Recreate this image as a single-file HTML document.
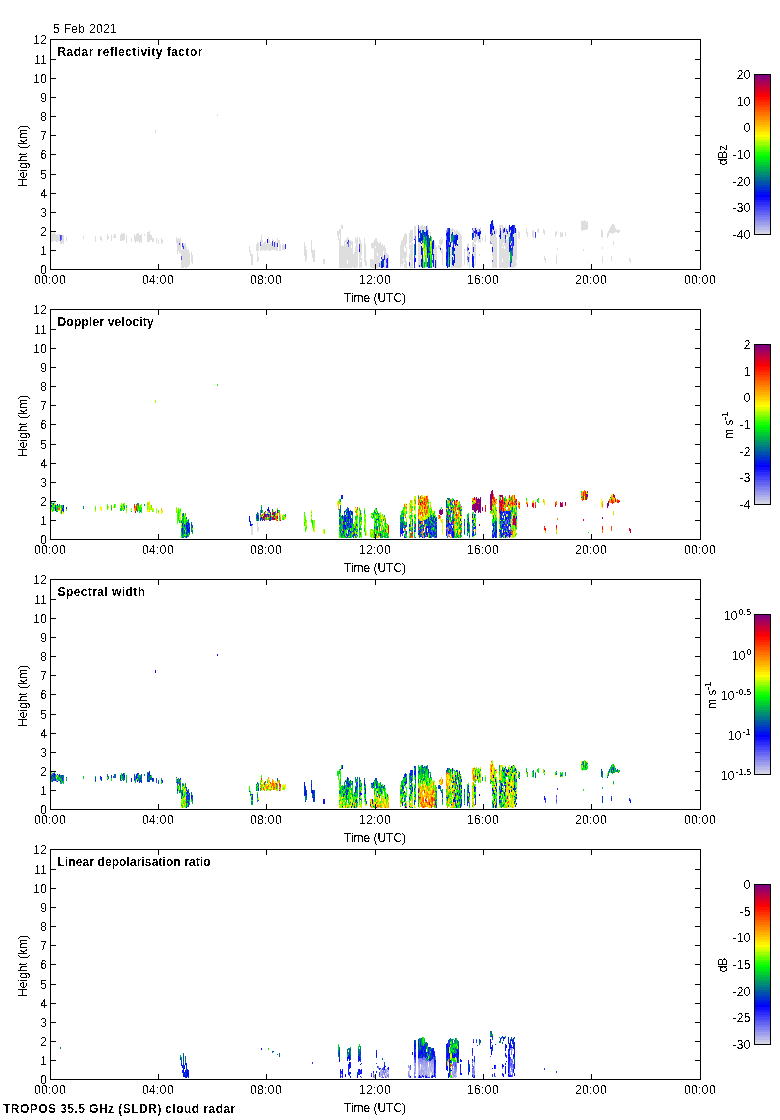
<!DOCTYPE html>
<html lang="en"><head><meta charset="utf-8"><title>TROPOS 35.5 GHz (SLDR) cloud radar - 5 Feb 2021</title>
<style>
html,body{margin:0;padding:0;background:#fff;}
body{width:780px;height:1120px;overflow:hidden;}
svg{display:block;}
text{font-family:"Liberation Sans",Arial,Helvetica,sans-serif;font-size:12px;fill:#000;filter:url(#px);}
.b{font-weight:bold;}
.r{text-anchor:end;}
.c{text-anchor:middle;}
.n{letter-spacing:0.4px;}
.ax{stroke:#000;stroke-width:1;fill:none;shape-rendering:crispEdges;}
.d path,.cb rect{shape-rendering:crispEdges;}
text.sup{font-size:9px;letter-spacing:0.1px;filter:url(#px2);}
</style></head><body>
<svg width="780" height="1120" viewBox="0 0 780 1120">
<defs><filter id="px" x="-5%" y="-5%" width="110%" height="110%" color-interpolation-filters="sRGB"><feComponentTransfer><feFuncA type="discrete" tableValues="0 1"/></feComponentTransfer></filter><filter id="px2" x="-5%" y="-5%" width="110%" height="110%" color-interpolation-filters="sRGB"><feComponentTransfer><feFuncA type="discrete" tableValues="0 0 1 1 1"/></feComponentTransfer></filter></defs>
<rect x="0" y="0" width="780" height="1120" fill="#fff"/>
<text x="53" y="33" style="letter-spacing:0.33px">5 Feb 2021</text>
<g id="panel1">
<g class="d">
<path fill="#dedede" d="M51 232v10h1v-10zM52 233v9h1v-9zM53 233v8h1v-8zM54 232v9h1v-9zM55 234v7h1v-7zM56 235v7h1v-7zM57 234v8h1v-8zM58 235v6h1v-6zM59 234v7h1v-7zM60 241v3h1v-3zM61 240v4h1v-4zM62 235v8h1v-8zM63 235v9h1v-9zM66 237v4h1v-4zM83 236v3h1v-3zM95 236v6h1v-6zM100 236v4h1v-4zM101 237v4h1v-4zM107 234v6h1v-6zM108 236v3h1v-3zM111 235v6h1v-6zM113 236v2h1v-2zM114 234v4h1v-4zM115 234v4h1v-4zM120 235v6h1v-6zM121 233v8h1v-8zM122 234v6h1v-6zM123 233v8h1v-8zM124 233v7h1v-7zM126 235v8h1v-8zM131 238v4h1v-4zM134 234v7h1v-7zM135 236v7h1v-7zM136 234v7h1v-7zM137 233v9h1v-9zM138 233v8h1v-8zM139 235v8h1v-8zM140 235v7h1v-7zM141 234v9h1v-9zM144 234v2h1v-2zM147 232v10h1v-10zM148 232v10h1v-10zM149 231v11h1v-11zM150 235v5h1v-5zM151 235v5h1v-5zM152 238v4h1v-4zM153 238v4h1v-4zM155 130v3h1v-3zM156 238v5h1v-5zM158 240v4h1v-4zM161 238v6h1v-6zM162 240v3h1v-3zM176 237v6h1v-6zM177 239v15h1v-15zM178 238v13h1v-13zM179 239v4h1v-4zM179 245v8h1v-8zM180 238v15h1v-15zM181 250v6h1v-6zM181 260v8h1v-8zM182 247v21h1v-21zM183 243v3h1v-3zM183 249v19h1v-19zM184 244v23h1v-23zM185 243v25h1v-25zM186 247v21h1v-21zM187 250v17h1v-17zM188 249v18h1v-18zM189 253v12h1v-12zM191 252v10h1v-10zM192 255v9h1v-9zM217 114v2h1v-2zM249 246v6h1v-6zM250 251v5h1v-5zM251 254v11h1v-11zM252 254v11h1v-11zM256 244v7h1v-7zM257 242v9h1v-9zM257 252v10h1v-10zM258 243v8h1v-8zM258 257v4h1v-4zM260 240v2h1v-2zM260 246v5h1v-5zM261 235v8h1v-8zM261 244v6h1v-6zM262 240v3h1v-3zM262 244v7h1v-7zM263 243v7h1v-7zM264 242v9h1v-9zM265 241v9h1v-9zM266 244v7h1v-7zM267 243v7h1v-7zM268 237v13h1v-13zM269 240v3h1v-3zM269 244v7h1v-7zM270 242v9h1v-9zM271 243v7h1v-7zM272 239v2h1v-2zM272 246v4h1v-4zM273 240v10h1v-10zM274 247v3h1v-3zM275 241v9h1v-9zM276 243v8h1v-8zM277 238v5h1v-5zM277 247v4h1v-4zM278 240v3h1v-3zM279 240v11h1v-11zM280 244v7h1v-7zM282 245v5h1v-5zM283 244v6h1v-6zM284 245v5h1v-5zM304 242v14h1v-14zM305 246v16h1v-16zM306 250v10h1v-10zM311 240v13h1v-13zM312 250v8h1v-8zM313 250v12h1v-12zM314 250v12h1v-12zM323 259v5h1v-5zM324 259v5h1v-5zM337 231v5h1v-5zM338 231v9h1v-9zM339 229v5h1v-5zM339 239v29h1v-29zM340 229v39h1v-39zM341 225v4h1v-4zM341 246v22h1v-22zM342 225v4h1v-4zM342 245v23h1v-23zM343 246v22h1v-22zM344 241v27h1v-27zM345 240v2h1v-2zM345 245v23h1v-23zM346 239v29h1v-29zM347 237v5h1v-5zM347 244v16h1v-16zM347 264v4h1v-4zM348 238v2h1v-2zM348 247v21h1v-21zM349 241v27h1v-27zM350 240v28h1v-28zM351 241v4h1v-4zM351 248v20h1v-20zM352 241v26h1v-26zM353 254v14h1v-14zM354 252v16h1v-16zM355 237v6h1v-6zM355 246v22h1v-22zM356 239v29h1v-29zM357 237v30h1v-30zM359 237v7h1v-7zM359 252v16h1v-16zM360 240v20h1v-20zM360 262v5h1v-5zM361 243v12h1v-12zM361 258v10h1v-10zM364 238v24h1v-24zM365 244v22h1v-22zM366 261v5h1v-5zM370 259v8h1v-8zM371 243v5h1v-5zM371 259v9h1v-9zM372 243v6h1v-6zM372 259v9h1v-9zM373 242v6h1v-6zM373 260v8h1v-8zM374 240v28h1v-28zM375 238v8h1v-8zM375 248v20h1v-20zM376 238v30h1v-30zM377 241v12h1v-12zM377 256v12h1v-12zM378 243v25h1v-25zM379 243v20h1v-20zM380 242v14h1v-14zM380 261v7h1v-7zM381 245v12h1v-12zM381 259v2h1v-2zM382 244v15h1v-15zM383 246v5h1v-5zM383 256v3h1v-3zM384 245v10h1v-10zM384 260v8h1v-8zM385 248v20h1v-20zM386 253v6h1v-6zM387 254v4h1v-4zM388 255v13h1v-13zM400 245v22h1v-22zM401 241v23h1v-23zM402 240v26h1v-26zM403 237v21h1v-21zM403 261v2h1v-2zM404 234v12h1v-12zM404 251v11h1v-11zM404 264v4h1v-4zM405 233v15h1v-15zM405 252v16h1v-16zM406 234v10h1v-10zM406 247v10h1v-10zM406 261v7h1v-7zM409 233v16h1v-16zM409 254v8h1v-8zM409 266v2h1v-2zM410 230v13h1v-13zM410 245v16h1v-16zM410 263v5h1v-5zM411 230v38h1v-38zM412 230v11h1v-11zM412 243v25h1v-25zM414 226v13h1v-13zM415 226v10h1v-10zM415 255v3h1v-3zM415 267v1h1v-1zM418 242v25h1v-25zM419 227v4h1v-4zM419 233v5h1v-5zM419 242v23h1v-23zM419 267v1h1v-1zM420 226v4h1v-4zM420 243v24h1v-24zM421 225v8h1v-8zM421 241v2h1v-2zM421 255v4h1v-4zM422 225v5h1v-5zM422 243v5h1v-5zM423 227v3h1v-3zM424 226v6h1v-6zM425 226v6h1v-6zM427 225v5h1v-5zM428 229v6h1v-6zM429 232v1h1v-1zM430 232v4h1v-4zM432 255v5h1v-5zM432 263v4h1v-4zM433 249v5h1v-5zM434 241v27h1v-27zM435 245v15h1v-15zM436 247v21h1v-21zM438 245v4h1v-4zM439 240v4h1v-4zM439 245v4h1v-4zM440 239v6h1v-6zM440 246v2h1v-2zM440 250v1h1v-1zM441 237v2h1v-2zM441 240v5h1v-5zM441 250v3h1v-3zM442 239v5h1v-5zM442 249v16h1v-16zM450 229v13h1v-13zM450 247v17h1v-17zM450 267v1h1v-1zM451 229v5h1v-5zM451 247v21h1v-21zM452 228v4h1v-4zM452 242v5h1v-5zM452 265v3h1v-3zM453 229v2h1v-2zM453 256v4h1v-4zM453 266v2h1v-2zM454 230v5h1v-5zM454 244v4h1v-4zM454 251v3h1v-3zM454 263v5h1v-5zM455 231v4h1v-4zM455 246v22h1v-22zM456 230v4h1v-4zM456 245v23h1v-23zM457 230v5h1v-5zM457 246v22h1v-22zM458 232v36h1v-36zM459 231v37h1v-37zM460 234v34h1v-34zM461 236v31h1v-31zM464 249v16h1v-16zM467 244v3h1v-3zM467 251v5h1v-5zM467 260v6h1v-6zM468 243v5h1v-5zM468 250v7h1v-7zM468 262v1h1v-1zM469 254v14h1v-14zM472 230v3h1v-3zM472 242v12h1v-12zM473 228v2h1v-2zM473 238v3h1v-3zM473 242v5h1v-5zM473 252v4h1v-4zM474 227v4h1v-4zM474 233v9h1v-9zM474 244v15h1v-15zM474 264v2h1v-2zM475 237v6h1v-6zM475 244v21h1v-21zM476 227v3h1v-3zM476 234v7h1v-7zM477 229v3h1v-3zM477 236v4h1v-4zM478 228v4h1v-4zM478 236v7h1v-7zM479 239v3h1v-3zM479 254v2h1v-2zM480 227v4h1v-4zM480 234v9h1v-9zM482 237v4h1v-4zM485 235v7h1v-7zM490 234v7h1v-7zM491 236v7h1v-7zM492 235v12h1v-12zM492 252v4h1v-4zM492 262v6h1v-6zM493 230v38h1v-38zM494 227v4h1v-4zM494 234v33h1v-33zM495 229v39h1v-39zM496 229v5h1v-5zM496 237v31h1v-31zM499 225v10h1v-10zM499 237v31h1v-31zM500 225v3h1v-3zM500 239v29h1v-29zM501 225v2h1v-2zM501 230v38h1v-38zM502 225v21h1v-21zM502 248v11h1v-11zM502 262v5h1v-5zM503 227v2h1v-2zM503 233v10h1v-10zM503 245v23h1v-23zM504 232v14h1v-14zM504 249v19h1v-19zM505 226v9h1v-9zM505 243v25h1v-25zM506 232v5h1v-5zM506 240v28h1v-28zM507 229v2h1v-2zM507 234v3h1v-3zM507 239v29h1v-29zM508 227v40h1v-40zM509 232v5h1v-5zM509 252v4h1v-4zM509 260v8h1v-8zM510 230v3h1v-3zM510 243v2h1v-2zM511 241v2h1v-2zM511 246v2h1v-2zM511 263v5h1v-5zM512 256v12h1v-12zM513 234v3h1v-3zM513 246v22h1v-22zM514 233v34h1v-34zM515 233v34h1v-34zM516 229v31h1v-31zM516 263v2h1v-2zM518 231v7h1v-7zM519 232v7h1v-7zM526 228v6h1v-6zM527 232v5h1v-5zM532 231v6h1v-6zM533 230v8h1v-8zM537 229v3h1v-3zM538 228v5h1v-5zM543 229v4h1v-4zM544 230v5h1v-5zM544 256v4h1v-4zM545 258v5h1v-5zM555 232v5h1v-5zM556 231v4h1v-4zM556 255v9h1v-9zM557 248v2h1v-2zM560 232v5h1v-5zM561 233v4h1v-4zM562 232v5h1v-5zM565 232v4h1v-4zM581 221v9h1v-9zM582 221v10h1v-10zM583 221v9h1v-9zM583 249v2h1v-2zM584 220v10h1v-10zM585 221v9h1v-9zM586 222v8h1v-8zM587 221v8h1v-8zM588 262v1h1v-1zM601 229v8h1v-8zM602 231v7h1v-7zM602 247v2h1v-2zM602 256v7h1v-7zM607 233v5h1v-5zM608 231v5h1v-5zM609 229v4h1v-4zM610 227v6h1v-6zM611 225v8h1v-8zM611 256v5h1v-5zM612 224v10h1v-10zM613 224v9h1v-9zM613 241v4h1v-4zM614 225v8h1v-8zM615 228v4h1v-4zM616 230v2h1v-2zM617 229v4h1v-4zM618 230v3h1v-3zM619 230v2h1v-2zM629 258v3h1v-3zM630 259v4h1v-4z"/>
<path fill="#b9b9e9" d="M492 229v4h1v-4z"/>
<path fill="#ababeb" d="M449 242v3h1v-3zM493 224v2h1v-2z"/>
<path fill="#9d9ded" d="M446 230v3h1v-3z"/>
<path fill="#8f8fee" d="M386 263v2h1v-2zM490 241v3h1v-3zM491 243v1h1v-1z"/>
<path fill="#8080f0" d="M446 236v4h1v-4zM467 256v4h1v-4zM473 230v3h1v-3z"/>
<path fill="#7272f2" d="M348 242v5h1v-5zM446 249v3h1v-3zM505 239v4h1v-4z"/>
<path fill="#6464f3" d="M61 235v5h1v-5zM379 263v4h1v-4zM415 236v4h1v-4zM418 225v4h1v-4zM447 228v4h1v-4zM467 247v4h1v-4zM477 232v4h1v-4zM479 229v3h1v-3zM492 260v2h1v-2zM500 228v3h1v-3zM535 237v1h1v-1z"/>
<path fill="#5656f5" d="M60 239v2h1v-2zM181 256v4h1v-4zM260 242v2h1v-2zM426 226v5h1v-5zM472 228v2h1v-2zM491 232v4h1v-4zM512 250v2h1v-2zM514 228v5h1v-5z"/>
<path fill="#4747f7" d="M179 243v2h1v-2zM260 244v2h1v-2zM347 242v2h1v-2zM449 257v3h1v-3zM469 252v2h1v-2zM475 233v4h1v-4zM503 229v4h1v-4zM506 229v3h1v-3zM512 252v4h1v-4z"/>
<path fill="#3939f8" d="M60 235v4h1v-4zM182 243v4h1v-4zM183 246v3h1v-3zM272 241v5h1v-5zM274 242v5h1v-5zM359 244v5h1v-5zM386 259v4h1v-4zM386 265v3h1v-3zM414 256v3h1v-3zM422 240v3h1v-3zM432 260v3h1v-3zM456 234v2h1v-2zM468 257v5h1v-5zM472 239v1h1v-1zM511 243v3h1v-3zM512 242v5h1v-5zM535 232v5h1v-5z"/>
<path fill="#2b2bfa" d="M277 243v4h1v-4zM285 244v5h1v-5zM348 240v2h1v-2zM409 262v4h1v-4zM414 265v3h1v-3zM422 262v5h1v-5zM447 241v5h1v-5zM453 240v5h1v-5zM472 237v2h1v-2zM473 247v5h1v-5zM512 237v5h1v-5zM514 225v3h1v-3z"/>
<path fill="#1d1dfc" d="M384 255v5h1v-5zM414 259v6h1v-6zM415 240v4h1v-4zM419 265v2h1v-2zM420 236v2h1v-2zM420 240v3h1v-3zM421 253v2h1v-2zM428 267v1h1v-1zM435 260v4h1v-4zM446 245v4h1v-4zM447 239v2h1v-2zM447 257v2h1v-2zM455 235v5h1v-5zM473 256v5h1v-5zM475 228v5h1v-5zM491 224v4h1v-4zM494 231v3h1v-3zM499 235v2h1v-2zM507 231v3h1v-3zM510 262v5h1v-5zM511 237v4h1v-4zM512 247v3h1v-3zM513 237v2h1v-2z"/>
<path fill="#0e0efd" d="M267 239v4h1v-4zM359 249v3h1v-3zM381 257v2h1v-2zM382 264v4h1v-4zM383 266v1h1v-1zM387 258v9h1v-9zM414 239v1h1v-1zM415 244v2h1v-2zM418 233v4h1v-4zM421 251v2h1v-2zM427 238v3h1v-3zM432 248v3h1v-3zM440 248v2h1v-2zM447 248v2h1v-2zM448 244v3h1v-3zM449 228v5h1v-5zM449 263v4h1v-4zM453 245v4h1v-4zM455 244v2h1v-2zM468 248v2h1v-2zM480 231v3h1v-3zM490 229v5h1v-5zM492 247v5h1v-5zM500 231v3h1v-3zM510 227v3h1v-3zM510 245v2h1v-2zM513 243v3h1v-3z"/>
<path fill="#0000ff" d="M415 246v2h1v-2zM415 258v3h1v-3zM421 246v5h1v-5zM422 267v1h1v-1zM427 248v4h1v-4zM432 243v5h1v-5zM446 240v5h1v-5zM446 256v3h1v-3zM447 252v5h1v-5zM447 259v3h1v-3zM447 266v2h1v-2zM449 237v5h1v-5zM449 245v2h1v-2zM452 254v1h1v-1zM454 248v3h1v-3zM454 254v9h1v-9zM456 240v2h1v-2zM457 235v4h1v-4zM472 258v4h1v-4zM474 231v2h1v-2zM478 232v4h1v-4zM491 228v4h1v-4zM493 226v4h1v-4zM504 228v4h1v-4zM509 225v5h1v-5zM509 243v3h1v-3z"/>
<path fill="#0010ef" d="M415 248v7h1v-7zM418 229v4h1v-4zM419 231v2h1v-2zM419 238v4h1v-4zM421 243v1h1v-1zM421 259v2h1v-2zM422 235v5h1v-5zM424 232v2h1v-2zM426 231v5h1v-5zM429 255v5h1v-5zM429 264v3h1v-3zM433 240v4h1v-4zM433 254v3h1v-3zM435 264v4h1v-4zM446 233v3h1v-3zM446 263v3h1v-3zM447 232v7h1v-7zM447 246v2h1v-2zM449 233v2h1v-2zM449 252v5h1v-5zM452 247v2h1v-2zM452 262v3h1v-3zM454 240v4h1v-4zM455 240v4h1v-4zM456 236v4h1v-4zM472 233v4h1v-4zM472 266v1h1v-1zM473 261v2h1v-2zM476 230v4h1v-4zM479 232v4h1v-4zM500 234v5h1v-5zM509 230v2h1v-2zM510 247v3h1v-3zM511 226v3h1v-3zM511 231v6h1v-6zM512 225v5h1v-5zM513 229v5h1v-5zM513 239v2h1v-2zM515 228v5h1v-5z"/>
<path fill="#0020df" d="M381 261v7h1v-7zM383 259v2h1v-2zM415 261v1h1v-1zM420 238v2h1v-2zM421 233v8h1v-8zM421 261v5h1v-5zM422 254v8h1v-8zM427 234v4h1v-4zM427 241v2h1v-2zM427 246v2h1v-2zM428 249v4h1v-4zM429 242v5h1v-5zM429 251v2h1v-2zM429 267v1h1v-1zM432 251v4h1v-4zM433 244v5h1v-5zM433 262v4h1v-4zM448 232v9h1v-9zM449 260v3h1v-3zM450 242v5h1v-5zM452 232v3h1v-3zM453 249v2h1v-2zM453 260v6h1v-6zM457 239v1h1v-1zM457 244v2h1v-2zM472 254v4h1v-4zM473 263v5h1v-5zM479 236v3h1v-3zM490 224v5h1v-5zM491 221v3h1v-3zM492 220v5h1v-5zM509 246v3h1v-3zM511 229v2h1v-2zM512 230v4h1v-4zM513 225v4h1v-4zM513 241v2h1v-2z"/>
<path fill="#0030cf" d="M387 267v1h1v-1zM421 266v1h1v-1zM422 252v2h1v-2zM427 230v4h1v-4zM427 252v6h1v-6zM427 262v5h1v-5zM428 243v2h1v-2zM429 260v4h1v-4zM433 257v5h1v-5zM446 252v4h1v-4zM447 250v2h1v-2zM452 257v5h1v-5zM456 242v3h1v-3zM472 264v2h1v-2zM492 225v4h1v-4zM505 235v4h1v-4zM509 249v3h1v-3zM510 233v4h1v-4z"/>
<path fill="#0040bf" d="M382 259v5h1v-5zM420 233v3h1v-3zM423 230v5h1v-5zM428 260v3h1v-3zM447 262v4h1v-4zM448 228v4h1v-4zM472 262v2h1v-2zM492 233v2h1v-2zM511 248v3h1v-3zM512 234v3h1v-3z"/>
<path fill="#0050af" d="M383 261v5h1v-5zM420 230v3h1v-3zM422 230v5h1v-5zM422 248v4h1v-4zM424 234v3h1v-3zM425 232v4h1v-4zM428 258v2h1v-2zM429 238v4h1v-4zM433 266v1h1v-1zM446 259v4h1v-4zM448 241v3h1v-3zM449 235v2h1v-2zM449 247v5h1v-5zM451 234v2h1v-2zM452 249v5h1v-5zM454 235v5h1v-5zM509 240v3h1v-3z"/>
<path fill="#00609f" d="M427 243v3h1v-3zM428 235v8h1v-8zM428 245v4h1v-4zM432 241v2h1v-2zM453 251v5h1v-5zM473 233v5h1v-5zM509 237v3h1v-3z"/>
<path fill="#00708f" d="M418 237v5h1v-5zM425 236v5h1v-5zM428 263v4h1v-4zM430 236v5h1v-5zM510 240v3h1v-3zM511 259v4h1v-4z"/>
<path fill="#008080" d="M414 254v2h1v-2zM453 235v5h1v-5zM510 237v3h1v-3zM510 250v3h1v-3zM511 251v4h1v-4z"/>
<path fill="#008f70" d="M414 249v5h1v-5zM426 236v4h1v-4zM451 236v3h1v-3zM452 235v7h1v-7z"/>
<path fill="#009f60" d="M414 244v5h1v-5zM424 242v2h1v-2zM431 266v2h1v-2zM448 247v4h1v-4z"/>
<path fill="#00af50" d="M423 235v5h1v-5zM424 262v5h1v-5zM426 244v3h1v-3zM429 247v4h1v-4zM448 251v3h1v-3zM451 239v4h1v-4zM510 253v9h1v-9zM511 255v4h1v-4z"/>
<path fill="#00bf40" d="M428 253v5h1v-5zM429 253v2h1v-2zM430 263v2h1v-2z"/>
<path fill="#00cf30" d="M424 239v3h1v-3zM426 240v4h1v-4zM431 257v5h1v-5zM448 254v6h1v-6zM448 264v3h1v-3z"/>
<path fill="#00df20" d="M425 241v4h1v-4zM430 251v2h1v-2zM430 259v4h1v-4zM430 265v3h1v-3zM431 254v3h1v-3z"/>
<path fill="#00ef10" d="M424 237v2h1v-2zM425 262v2h1v-2zM426 263v4h1v-4zM431 262v4h1v-4z"/>
<path fill="#00ff00" d="M424 244v4h1v-4zM424 267v1h1v-1zM448 260v4h1v-4z"/>
<path fill="#20ff00" d="M423 240v3h1v-3zM425 255v7h1v-7zM426 259v4h1v-4z"/>
<path fill="#40ff00" d="M423 265v3h1v-3zM426 247v3h1v-3zM430 247v4h1v-4zM430 253v6h1v-6zM431 237v4h1v-4zM431 243v5h1v-5z"/>
<path fill="#60ff00" d="M423 247v2h1v-2zM423 260v5h1v-5zM425 264v3h1v-3z"/>
<path fill="#80ff00" d="M424 250v5h1v-5zM426 250v9h1v-9zM431 248v2h1v-2z"/>
<path fill="#9fff00" d="M424 248v2h1v-2zM425 251v2h1v-2zM431 241v2h1v-2z"/>
<path fill="#bfff00" d="M423 249v2h1v-2zM425 245v6h1v-6zM430 244v3h1v-3zM431 250v4h1v-4z"/>
<path fill="#dfff00" d="M423 243v4h1v-4zM423 255v5h1v-5zM424 255v2h1v-2zM430 241v3h1v-3z"/>
<path fill="#ffff00" d="M425 253v2h1v-2z"/>
</g>
<rect class="ax" x="50.5" y="39.5" width="650.0" height="230"/>
<path class="ax" d="M50.5 250.5h5.5M700.5 250.5h-5.5M50.5 231.5h5.5M700.5 231.5h-5.5M50.5 212.5h5.5M700.5 212.5h-5.5M50.5 193.5h5.5M700.5 193.5h-5.5M50.5 174.5h5.5M700.5 174.5h-5.5M50.5 154.5h5.5M700.5 154.5h-5.5M50.5 135.5h5.5M700.5 135.5h-5.5M50.5 116.5h5.5M700.5 116.5h-5.5M50.5 97.5h5.5M700.5 97.5h-5.5M50.5 78.5h5.5M700.5 78.5h-5.5M50.5 59.5h5.5M700.5 59.5h-5.5M158.5 269.5v-5.5M158.5 39.5v5.5M266.5 269.5v-5.5M266.5 39.5v5.5M375.5 269.5v-5.5M375.5 39.5v5.5M483.5 269.5v-5.5M483.5 39.5v5.5M591.5 269.5v-5.5M591.5 39.5v5.5"/>
<text class="r" x="47" y="274">0</text>
<text class="r" x="47" y="255">1</text>
<text class="r" x="47" y="236">2</text>
<text class="r" x="47" y="217">3</text>
<text class="r" x="47" y="198">4</text>
<text class="r" x="47" y="179">5</text>
<text class="r" x="47" y="159">6</text>
<text class="r" x="47" y="140">7</text>
<text class="r" x="47" y="121">8</text>
<text class="r" x="47" y="102">9</text>
<text class="r n" x="47.4" y="83">10</text>
<text class="r n" x="47.4" y="64">11</text>
<text class="r n" x="47.4" y="44">12</text>
<text class="c n" x="50" y="284">00:00</text>
<text class="c n" x="158" y="284">04:00</text>
<text class="c n" x="266" y="284">08:00</text>
<text class="c n" x="375" y="284">12:00</text>
<text class="c n" x="483" y="284">16:00</text>
<text class="c n" x="591" y="284">20:00</text>
<text class="c n" x="700" y="284">00:00</text>
<text class="c" x="375" y="302">Time (UTC)</text>
<text class="c" transform="translate(27 156) rotate(-90)">Height (km)</text>
<text class="b" x="57.5" y="56" style="letter-spacing:0.45px">Radar reflectivity factor</text>
<g class="cb">
<rect x="754.5" y="232" width="16" height="2.6" fill="#d6d6e6"/>
<rect x="754.5" y="229.5" width="16" height="2.6" fill="#c8c8e8"/>
<rect x="754.5" y="227" width="16" height="2.6" fill="#b9b9e9"/>
<rect x="754.5" y="224.5" width="16" height="2.6" fill="#ababeb"/>
<rect x="754.5" y="222" width="16" height="2.6" fill="#9d9ded"/>
<rect x="754.5" y="219.5" width="16" height="2.6" fill="#8f8fee"/>
<rect x="754.5" y="217" width="16" height="2.6" fill="#8080f0"/>
<rect x="754.5" y="214.5" width="16" height="2.6" fill="#7272f2"/>
<rect x="754.5" y="212" width="16" height="2.6" fill="#6464f3"/>
<rect x="754.5" y="209.5" width="16" height="2.6" fill="#5656f5"/>
<rect x="754.5" y="207" width="16" height="2.6" fill="#4747f7"/>
<rect x="754.5" y="204.5" width="16" height="2.6" fill="#3939f8"/>
<rect x="754.5" y="202" width="16" height="2.6" fill="#2b2bfa"/>
<rect x="754.5" y="199.5" width="16" height="2.6" fill="#1d1dfc"/>
<rect x="754.5" y="197" width="16" height="2.6" fill="#0e0efd"/>
<rect x="754.5" y="194.5" width="16" height="2.6" fill="#0000ff"/>
<rect x="754.5" y="192" width="16" height="2.6" fill="#0010ef"/>
<rect x="754.5" y="189.5" width="16" height="2.6" fill="#0020df"/>
<rect x="754.5" y="187" width="16" height="2.6" fill="#0030cf"/>
<rect x="754.5" y="184.5" width="16" height="2.6" fill="#0040bf"/>
<rect x="754.5" y="182" width="16" height="2.6" fill="#0050af"/>
<rect x="754.5" y="179.5" width="16" height="2.6" fill="#00609f"/>
<rect x="754.5" y="177" width="16" height="2.6" fill="#00708f"/>
<rect x="754.5" y="174.5" width="16" height="2.6" fill="#008080"/>
<rect x="754.5" y="172" width="16" height="2.6" fill="#008f70"/>
<rect x="754.5" y="169.5" width="16" height="2.6" fill="#009f60"/>
<rect x="754.5" y="167" width="16" height="2.6" fill="#00af50"/>
<rect x="754.5" y="164.5" width="16" height="2.6" fill="#00bf40"/>
<rect x="754.5" y="162" width="16" height="2.6" fill="#00cf30"/>
<rect x="754.5" y="159.5" width="16" height="2.6" fill="#00df20"/>
<rect x="754.5" y="157" width="16" height="2.6" fill="#00ef10"/>
<rect x="754.5" y="154.5" width="16" height="2.6" fill="#00ff00"/>
<rect x="754.5" y="152" width="16" height="2.6" fill="#20ff00"/>
<rect x="754.5" y="149.5" width="16" height="2.6" fill="#40ff00"/>
<rect x="754.5" y="147" width="16" height="2.6" fill="#60ff00"/>
<rect x="754.5" y="144.5" width="16" height="2.6" fill="#80ff00"/>
<rect x="754.5" y="142" width="16" height="2.6" fill="#9fff00"/>
<rect x="754.5" y="139.5" width="16" height="2.6" fill="#bfff00"/>
<rect x="754.5" y="137" width="16" height="2.6" fill="#dfff00"/>
<rect x="754.5" y="134.5" width="16" height="2.6" fill="#ffff00"/>
<rect x="754.5" y="132" width="16" height="2.6" fill="#ffef00"/>
<rect x="754.5" y="129.5" width="16" height="2.6" fill="#ffdf00"/>
<rect x="754.5" y="127" width="16" height="2.6" fill="#ffcf00"/>
<rect x="754.5" y="124.5" width="16" height="2.6" fill="#ffbf00"/>
<rect x="754.5" y="122" width="16" height="2.6" fill="#ffaf00"/>
<rect x="754.5" y="119.5" width="16" height="2.6" fill="#ff9f00"/>
<rect x="754.5" y="117" width="16" height="2.6" fill="#ff8f00"/>
<rect x="754.5" y="114.5" width="16" height="2.6" fill="#ff8000"/>
<rect x="754.5" y="112" width="16" height="2.6" fill="#ff7000"/>
<rect x="754.5" y="109.5" width="16" height="2.6" fill="#ff6000"/>
<rect x="754.5" y="107" width="16" height="2.6" fill="#ff5000"/>
<rect x="754.5" y="104.5" width="16" height="2.6" fill="#ff4000"/>
<rect x="754.5" y="102" width="16" height="2.6" fill="#ff3000"/>
<rect x="754.5" y="99.5" width="16" height="2.6" fill="#ff2000"/>
<rect x="754.5" y="97" width="16" height="2.6" fill="#ff1000"/>
<rect x="754.5" y="94.5" width="16" height="2.6" fill="#ff0000"/>
<rect x="754.5" y="92" width="16" height="2.6" fill="#ef0010"/>
<rect x="754.5" y="89.5" width="16" height="2.6" fill="#df0020"/>
<rect x="754.5" y="87" width="16" height="2.6" fill="#cf0030"/>
<rect x="754.5" y="84.5" width="16" height="2.6" fill="#c00040"/>
<rect x="754.5" y="82" width="16" height="2.6" fill="#b00050"/>
<rect x="754.5" y="79.5" width="16" height="2.6" fill="#a00060"/>
<rect x="754.5" y="77" width="16" height="2.6" fill="#900070"/>
<rect x="754.5" y="74.5" width="16" height="2.6" fill="#800080"/>
</g>
<rect class="ax" x="754.5" y="74.5" width="16" height="160"/>
<text class="r n" x="750.9" y="79">20</text>
<text class="r n" x="750.9" y="106">10</text>
<text class="r n" x="750.9" y="132">0</text>
<text class="r n" x="750.9" y="159">-10</text>
<text class="r n" x="750.9" y="186">-20</text>
<text class="r n" x="750.9" y="212">-30</text>
<text class="r n" x="750.9" y="239">-40</text>
<text class="c" transform="translate(727 155) rotate(-90)">dBz</text>
</g>
<g id="panel2">
<g class="d">
<path fill="#dedede" d="M251 526v9h1v-9zM252 525v10h1v-10zM257 522v10h1v-10zM258 527v4h1v-4zM411 525v2h1v-2zM423 531v2h1v-2zM461 534v1h1v-1z"/>
<path fill="#c8c8e8" d="M266 520v1h1v-1z"/>
<path fill="#b9b9e9" d="M449 534v2h1v-2zM450 522v2h1v-2zM507 514v2h1v-2z"/>
<path fill="#ababeb" d="M451 525v1h1v-1zM507 536v2h1v-2z"/>
<path fill="#9d9ded" d="M356 535v2h1v-2zM423 535v3h1v-3zM447 533v3h1v-3zM460 504v3h1v-3zM472 512v2h1v-2zM472 523v3h1v-3zM510 519v2h1v-2zM510 522v2h1v-2zM510 527v2h1v-2z"/>
<path fill="#8f8fee" d="M446 528v1h1v-1zM504 530v1h1v-1zM507 519v1h1v-1z"/>
<path fill="#8080f0" d="M267 513v1h1v-1zM426 535v1h1v-1zM448 528v1h1v-1zM508 533v1h1v-1z"/>
<path fill="#7272f2" d="M258 513v2h1v-2zM268 511v2h1v-2zM349 521v2h1v-2zM405 530v1h1v-1zM406 534v2h1v-2zM424 526v1h1v-1zM450 532v1h1v-1zM451 512v1h1v-1zM505 513v1h1v-1zM505 521v3h1v-3zM507 531v3h1v-3zM508 520v3h1v-3zM510 521v1h1v-1z"/>
<path fill="#6464f3" d="M347 515v1h1v-1zM410 530v1h1v-1zM421 531v1h1v-1zM434 523v3h1v-3zM449 525v3h1v-3zM449 536v1h1v-1zM453 514v2h1v-2zM472 528v3h1v-3zM493 531v3h1v-3zM500 536v2h1v-2zM502 523v1h1v-1zM506 520v3h1v-3zM506 528v3h1v-3zM508 527v2h1v-2zM508 535v2h1v-2zM510 529v3h1v-3z"/>
<path fill="#5656f5" d="M400 536v1h1v-1zM402 533v1h1v-1zM429 528v1h1v-1zM430 534v2h1v-2zM431 530v2h1v-2zM432 531v3h1v-3zM447 529v3h1v-3zM450 514v3h1v-3zM450 527v1h1v-1zM453 522v3h1v-3zM502 514v2h1v-2zM510 510v2h1v-2zM510 535v2h1v-2z"/>
<path fill="#4747f7" d="M189 526v1h1v-1zM275 512v1h1v-1zM434 536v2h1v-2zM436 537v1h1v-1zM451 528v3h1v-3zM493 534v1h1v-1zM500 523v2h1v-2zM504 533v2h1v-2zM505 511v2h1v-2zM505 525v3h1v-3zM506 523v2h1v-2zM506 536v1h1v-1z"/>
<path fill="#3939f8" d="M260 513v2h1v-2zM347 508v3h1v-3zM402 534v2h1v-2zM418 527v3h1v-3zM422 524v1h1v-1zM422 529v1h1v-1zM434 531v2h1v-2zM436 523v1h1v-1zM448 517v3h1v-3zM451 531v5h1v-5zM508 515v1h1v-1zM509 537v1h1v-1z"/>
<path fill="#2b2bfa" d="M266 514v3h1v-3zM270 514v2h1v-2zM346 521v1h1v-1zM351 526v2h1v-2zM400 533v3h1v-3zM404 528v1h1v-1zM420 535v1h1v-1zM425 520v2h1v-2zM425 530v3h1v-3zM430 517v1h1v-1zM450 501v4h1v-4zM450 511v1h1v-1zM450 525v2h1v-2zM450 531v1h1v-1zM452 501v1h1v-1zM452 530v1h1v-1zM464 519v1h1v-1zM492 537v1h1v-1zM495 528v2h1v-2zM496 533v5h1v-5zM501 530v1h1v-1zM503 517v2h1v-2zM504 511v2h1v-2zM504 521v2h1v-2zM504 526v2h1v-2zM507 526v1h1v-1zM508 529v1h1v-1z"/>
<path fill="#1d1dfc" d="M63 510v2h1v-2zM261 511v2h1v-2zM270 517v1h1v-1zM341 495v2h1v-2zM344 515v3h1v-3zM346 528v1h1v-1zM346 533v1h1v-1zM347 535v2h1v-2zM354 533v2h1v-2zM401 529v3h1v-3zM404 536v2h1v-2zM405 537v1h1v-1zM414 530v1h1v-1zM415 524v3h1v-3zM419 530v2h1v-2zM420 526v1h1v-1zM431 518v3h1v-3zM431 532v2h1v-2zM446 529v3h1v-3zM446 535v1h1v-1zM449 533v1h1v-1zM451 507v2h1v-2zM451 522v3h1v-3zM453 537v1h1v-1zM467 525v2h1v-2zM472 533v3h1v-3zM495 527v1h1v-1zM502 527v2h1v-2zM502 533v2h1v-2zM505 531v3h1v-3zM506 534v2h1v-2zM508 519v1h1v-1zM510 516v3h1v-3z"/>
<path fill="#0e0efd" d="M187 525v3h1v-3zM344 511v2h1v-2zM344 519v1h1v-1zM348 516v1h1v-1zM350 511v1h1v-1zM354 529v1h1v-1zM401 532v1h1v-1zM423 525v1h1v-1zM423 529v2h1v-2zM426 519v3h1v-3zM428 517v2h1v-2zM433 525v2h1v-2zM434 521v2h1v-2zM434 533v1h1v-1zM435 518v3h1v-3zM446 525v3h1v-3zM446 534v1h1v-1zM448 522v3h1v-3zM452 524v1h1v-1zM452 531v1h1v-1zM453 536v1h1v-1zM468 518v1h1v-1zM472 517v1h1v-1zM474 527v2h1v-2zM493 523v2h1v-2zM493 535v3h1v-3zM495 533v5h1v-5zM503 511v2h1v-2zM503 524v3h1v-3zM505 517v3h1v-3zM507 511v3h1v-3zM507 534v2h1v-2zM508 524v3h1v-3zM509 520v2h1v-2zM510 532v2h1v-2zM513 516v1h1v-1z"/>
<path fill="#0000ff" d="M55 508v2h1v-2zM63 505v3h1v-3zM186 525v2h1v-2zM188 523v3h1v-3zM188 529v3h1v-3zM189 527v2h1v-2zM249 520v1h1v-1zM250 524v2h1v-2zM261 517v2h1v-2zM268 510v1h1v-1zM345 519v3h1v-3zM345 527v3h1v-3zM347 525v1h1v-1zM348 530v3h1v-3zM350 526v2h1v-2zM352 512v1h1v-1zM401 533v1h1v-1zM402 531v2h1v-2zM403 531v2h1v-2zM414 531v1h1v-1zM420 531v1h1v-1zM420 536v1h1v-1zM426 532v3h1v-3zM430 528v1h1v-1zM430 532v2h1v-2zM431 534v1h1v-1zM433 531v1h1v-1zM436 520v1h1v-1zM446 532v2h1v-2zM448 521v1h1v-1zM449 523v2h1v-2zM451 526v2h1v-2zM452 528v2h1v-2zM453 526v2h1v-2zM453 532v3h1v-3zM460 519v2h1v-2zM472 520v3h1v-3zM473 520v1h1v-1zM473 531v2h1v-2zM496 530v3h1v-3zM500 511v3h1v-3zM500 530v1h1v-1zM501 534v3h1v-3zM502 524v3h1v-3zM505 535v3h1v-3zM506 517v3h1v-3zM506 532v2h1v-2zM507 523v1h1v-1zM508 517v2h1v-2zM508 530v3h1v-3zM509 530v1h1v-1zM509 533v3h1v-3z"/>
<path fill="#0010ef" d="M55 510v1h1v-1zM57 504v2h1v-2zM62 510v1h1v-1zM182 528v2h1v-2zM186 523v2h1v-2zM186 532v2h1v-2zM186 536v2h1v-2zM187 528v3h1v-3zM249 519v1h1v-1zM257 520v1h1v-1zM258 518v1h1v-1zM268 507v3h1v-3zM343 521v2h1v-2zM344 518v1h1v-1zM344 524v3h1v-3zM345 515v1h1v-1zM345 525v2h1v-2zM346 517v1h1v-1zM348 511v2h1v-2zM348 517v3h1v-3zM350 519v4h1v-4zM350 525v1h1v-1zM351 513v2h1v-2zM402 528v3h1v-3zM406 533v1h1v-1zM422 537v1h1v-1zM425 536v1h1v-1zM426 526v3h1v-3zM427 526v2h1v-2zM428 519v1h1v-1zM428 526v2h1v-2zM428 530v3h1v-3zM429 521v3h1v-3zM430 526v2h1v-2zM430 536v2h1v-2zM433 532v1h1v-1zM435 526v3h1v-3zM436 535v2h1v-2zM448 525v1h1v-1zM448 531v3h1v-3zM450 524v1h1v-1zM452 532v6h1v-6zM467 523v2h1v-2zM475 526v2h1v-2zM492 531v1h1v-1zM492 535v1h1v-1zM493 525v2h1v-2zM493 528v3h1v-3zM494 533v2h1v-2zM500 521v2h1v-2zM501 517v2h1v-2zM503 521v2h1v-2zM503 530v5h1v-5zM504 529v1h1v-1zM506 511v3h1v-3zM507 527v2h1v-2zM508 514v1h1v-1zM509 511v3h1v-3zM509 524v2h1v-2zM516 516v3h1v-3z"/>
<path fill="#0020df" d="M55 505v3h1v-3zM62 508v2h1v-2zM63 509v1h1v-1zM187 522v1h1v-1zM249 516v3h1v-3zM249 521v1h1v-1zM250 521v3h1v-3zM251 524v2h1v-2zM257 513v1h1v-1zM260 518v3h1v-3zM267 514v1h1v-1zM340 532v1h1v-1zM341 497v2h1v-2zM342 495v1h1v-1zM342 515v3h1v-3zM343 525v4h1v-4zM343 531v3h1v-3zM345 518v1h1v-1zM346 512v3h1v-3zM346 534v1h1v-1zM347 523v2h1v-2zM348 510v1h1v-1zM348 513v3h1v-3zM348 520v2h1v-2zM349 513v3h1v-3zM349 529v3h1v-3zM351 511v2h1v-2zM380 533v3h1v-3zM402 526v2h1v-2zM406 526v1h1v-1zM406 531v1h1v-1zM409 524v3h1v-3zM409 529v2h1v-2zM418 533v2h1v-2zM419 532v3h1v-3zM424 533v3h1v-3zM432 520v2h1v-2zM434 516v2h1v-2zM435 536v1h1v-1zM436 522v1h1v-1zM436 527v2h1v-2zM446 501v3h1v-3zM447 507v1h1v-1zM447 524v3h1v-3zM448 520v1h1v-1zM449 515v2h1v-2zM449 530v3h1v-3zM453 519v3h1v-3zM453 531v1h1v-1zM453 535v1h1v-1zM467 529v2h1v-2zM473 533v3h1v-3zM500 519v1h1v-1zM500 531v3h1v-3zM501 514v1h1v-1zM505 514v3h1v-3zM508 534v1h1v-1zM510 512v3h1v-3zM510 534v1h1v-1zM511 534v1h1v-1z"/>
<path fill="#0030cf" d="M51 505v2h1v-2zM66 507v2h1v-2zM181 521v1h1v-1zM182 523v3h1v-3zM182 530v3h1v-3zM182 537v1h1v-1zM184 524v3h1v-3zM188 532v1h1v-1zM189 529v3h1v-3zM191 524v2h1v-2zM257 515v3h1v-3zM262 519v2h1v-2zM270 518v3h1v-3zM339 515v2h1v-2zM342 496v3h1v-3zM342 518v1h1v-1zM342 531v1h1v-1zM344 520v2h1v-2zM347 511v2h1v-2zM347 520v2h1v-2zM348 508v2h1v-2zM348 522v4h1v-4zM349 511v2h1v-2zM349 516v3h1v-3zM349 523v2h1v-2zM350 516v3h1v-3zM350 531v2h1v-2zM352 513v2h1v-2zM352 519v2h1v-2zM356 524v2h1v-2zM356 531v1h1v-1zM356 534v1h1v-1zM374 537v1h1v-1zM376 519v1h1v-1zM377 519v1h1v-1zM400 528v3h1v-3zM403 517v2h1v-2zM419 523v1h1v-1zM420 521v3h1v-3zM420 527v3h1v-3zM421 525v2h1v-2zM423 528v1h1v-1zM425 522v2h1v-2zM426 529v3h1v-3zM427 535v2h1v-2zM429 526v2h1v-2zM429 529v2h1v-2zM433 533v1h1v-1zM436 525v2h1v-2zM446 504v1h1v-1zM446 518v2h1v-2zM447 514v1h1v-1zM447 519v1h1v-1zM450 533v1h1v-1zM451 510v2h1v-2zM453 511v2h1v-2zM457 536v1h1v-1zM460 510v1h1v-1zM464 524v2h1v-2zM464 531v3h1v-3zM468 529v2h1v-2zM469 525v1h1v-1zM472 514v3h1v-3zM474 517v1h1v-1zM494 525v1h1v-1zM494 532v1h1v-1zM495 522v3h1v-3zM495 530v3h1v-3zM496 529v1h1v-1zM501 512v2h1v-2zM502 512v1h1v-1zM502 535v2h1v-2zM503 515v2h1v-2zM504 523v2h1v-2zM505 524v1h1v-1zM505 529v2h1v-2zM506 525v3h1v-3zM507 520v3h1v-3zM509 514v3h1v-3zM509 536v1h1v-1z"/>
<path fill="#0040bf" d="M53 503v2h1v-2zM183 513v3h1v-3zM186 527v2h1v-2zM187 523v1h1v-1zM188 528v1h1v-1zM252 524v1h1v-1zM263 518v1h1v-1zM267 509v2h1v-2zM340 521v3h1v-3zM343 524v1h1v-1zM344 527v2h1v-2zM346 537v1h1v-1zM348 533v3h1v-3zM353 534v3h1v-3zM354 528v1h1v-1zM400 531v2h1v-2zM402 523v3h1v-3zM418 525v2h1v-2zM419 521v2h1v-2zM421 521v1h1v-1zM427 522v3h1v-3zM428 524v2h1v-2zM428 528v2h1v-2zM430 529v2h1v-2zM431 523v2h1v-2zM432 524v1h1v-1zM433 517v3h1v-3zM433 534v3h1v-3zM435 523v2h1v-2zM435 532v3h1v-3zM436 530v3h1v-3zM447 498v1h1v-1zM449 528v2h1v-2zM464 520v1h1v-1zM492 536v1h1v-1zM495 525v2h1v-2zM500 516v3h1v-3zM502 513v1h1v-1zM502 518v3h1v-3zM504 513v3h1v-3zM504 532v1h1v-1zM508 511v3h1v-3zM508 516v1h1v-1zM510 524v3h1v-3zM512 507v3h1v-3z"/>
<path fill="#0050af" d="M182 533v2h1v-2zM184 530v4h1v-4zM186 517v2h1v-2zM189 532v2h1v-2zM192 525v3h1v-3zM339 519v2h1v-2zM340 512v1h1v-1zM344 535v1h1v-1zM345 516v2h1v-2zM346 518v1h1v-1zM347 516v3h1v-3zM348 526v2h1v-2zM350 524v1h1v-1zM351 521v2h1v-2zM351 532v1h1v-1zM353 530v2h1v-2zM354 535v1h1v-1zM359 528v2h1v-2zM374 527v1h1v-1zM400 525v3h1v-3zM403 524v1h1v-1zM405 525v3h1v-3zM406 532v1h1v-1zM414 527v2h1v-2zM418 519v2h1v-2zM421 536v1h1v-1zM424 520v3h1v-3zM424 536v2h1v-2zM428 521v2h1v-2zM430 519v1h1v-1zM432 534v2h1v-2zM433 520v3h1v-3zM435 525v1h1v-1zM436 533v2h1v-2zM446 500v1h1v-1zM446 505v2h1v-2zM447 515v3h1v-3zM448 498v2h1v-2zM450 528v1h1v-1zM452 520v1h1v-1zM468 519v3h1v-3zM474 514v3h1v-3zM474 523v1h1v-1zM475 528v1h1v-1zM493 517v2h1v-2zM496 527v2h1v-2zM499 529v3h1v-3zM500 514v2h1v-2zM500 525v3h1v-3zM501 510v2h1v-2zM501 519v3h1v-3zM501 526v3h1v-3zM503 519v1h1v-1zM503 529v1h1v-1zM505 520v1h1v-1z"/>
<path fill="#00609f" d="M184 536v1h1v-1zM187 531v6h1v-6zM188 520v3h1v-3zM188 526v2h1v-2zM189 523v3h1v-3zM256 517v2h1v-2zM258 515v3h1v-3zM264 512v2h1v-2zM339 522v3h1v-3zM340 506v6h1v-6zM340 531v1h1v-1zM344 522v2h1v-2zM346 509v2h1v-2zM346 522v3h1v-3zM349 537v1h1v-1zM350 510v1h1v-1zM351 518v3h1v-3zM352 521v3h1v-3zM352 531v1h1v-1zM377 526v3h1v-3zM378 518v3h1v-3zM400 522v2h1v-2zM401 523v3h1v-3zM403 523v1h1v-1zM404 527v1h1v-1zM406 525v1h1v-1zM420 530v1h1v-1zM421 529v2h1v-2zM427 532v1h1v-1zM428 520v1h1v-1zM428 523v1h1v-1zM429 524v2h1v-2zM429 531v2h1v-2zM431 515v1h1v-1zM431 525v3h1v-3zM433 530v1h1v-1zM434 526v1h1v-1zM434 530v1h1v-1zM434 534v2h1v-2zM435 537v1h1v-1zM436 529v1h1v-1zM446 507v1h1v-1zM446 509v3h1v-3zM448 507v3h1v-3zM449 509v2h1v-2zM450 500v1h1v-1zM458 537v1h1v-1zM459 507v3h1v-3zM460 534v2h1v-2zM461 523v2h1v-2zM464 522v2h1v-2zM464 530v1h1v-1zM467 527v1h1v-1zM469 535v2h1v-2zM473 524v2h1v-2zM492 534v1h1v-1zM496 521v6h1v-6zM501 515v2h1v-2zM501 529v1h1v-1zM505 528v1h1v-1zM507 517v2h1v-2zM509 517v3h1v-3zM511 530v1h1v-1zM515 501v2h1v-2z"/>
<path fill="#00708f" d="M140 510v2h1v-2zM183 528v1h1v-1zM186 529v3h1v-3zM191 531v1h1v-1zM256 514v3h1v-3zM257 518v2h1v-2zM261 507v1h1v-1zM264 517v3h1v-3zM269 512v1h1v-1zM269 518v2h1v-2zM272 509v3h1v-3zM339 521v1h1v-1zM340 505v1h1v-1zM341 529v2h1v-2zM341 533v3h1v-3zM343 523v1h1v-1zM343 529v2h1v-2zM345 511v1h1v-1zM347 519v1h1v-1zM347 526v2h1v-2zM347 534v1h1v-1zM349 526v3h1v-3zM350 537v1h1v-1zM352 535v2h1v-2zM353 537v1h1v-1zM374 532v3h1v-3zM375 521v2h1v-2zM375 535v3h1v-3zM376 508v1h1v-1zM376 527v3h1v-3zM377 512v1h1v-1zM384 536v1h1v-1zM387 537v1h1v-1zM401 526v3h1v-3zM402 521v2h1v-2zM412 519v3h1v-3zM412 523v3h1v-3zM415 537v1h1v-1zM419 527v1h1v-1zM421 534v2h1v-2zM423 533v2h1v-2zM424 532v1h1v-1zM429 533v2h1v-2zM429 537v1h1v-1zM430 521v2h1v-2zM430 531v1h1v-1zM431 516v2h1v-2zM432 525v3h1v-3zM433 523v1h1v-1zM435 521v2h1v-2zM436 517v3h1v-3zM447 512v2h1v-2zM457 531v2h1v-2zM460 514v2h1v-2zM460 527v1h1v-1zM460 532v2h1v-2zM467 533v3h1v-3zM468 522v7h1v-7zM468 531v2h1v-2zM494 535v2h1v-2zM496 510v1h1v-1zM501 531v3h1v-3zM504 528v1h1v-1zM509 522v2h1v-2z"/>
<path fill="#008080" d="M56 511v1h1v-1zM57 511v1h1v-1zM63 508v1h1v-1zM83 506v1h1v-1zM181 529v3h1v-3zM183 529v2h1v-2zM183 532v2h1v-2zM185 525v1h1v-1zM192 530v3h1v-3zM258 519v2h1v-2zM261 508v3h1v-3zM262 510v1h1v-1zM266 517v1h1v-1zM278 510v1h1v-1zM339 512v3h1v-3zM340 518v3h1v-3zM340 526v1h1v-1zM342 534v2h1v-2zM343 516v3h1v-3zM344 536v1h1v-1zM346 535v1h1v-1zM350 533v2h1v-2zM352 515v1h1v-1zM355 535v3h1v-3zM357 535v1h1v-1zM373 514v2h1v-2zM385 529v3h1v-3zM403 527v1h1v-1zM405 534v1h1v-1zM412 528v2h1v-2zM415 527v5h1v-5zM418 496v3h1v-3zM418 521v4h1v-4zM419 535v3h1v-3zM420 532v3h1v-3zM422 525v1h1v-1zM423 526v2h1v-2zM426 522v2h1v-2zM432 529v2h1v-2zM434 527v3h1v-3zM446 523v2h1v-2zM447 536v2h1v-2zM448 506v1h1v-1zM448 526v2h1v-2zM451 502v3h1v-3zM452 504v2h1v-2zM453 499v2h1v-2zM461 509v2h1v-2zM467 519v1h1v-1zM472 526v2h1v-2zM472 536v1h1v-1zM473 527v3h1v-3zM475 532v3h1v-3zM492 524v2h1v-2zM492 530v1h1v-1zM493 527v1h1v-1zM495 520v2h1v-2zM500 534v2h1v-2zM501 537v1h1v-1zM503 523v1h1v-1zM503 527v2h1v-2zM507 516v1h1v-1zM507 529v2h1v-2zM515 514v1h1v-1z"/>
<path fill="#008f70" d="M83 507v2h1v-2zM124 506v3h1v-3zM137 503v2h1v-2zM144 504v2h1v-2zM181 535v1h1v-1zM182 526v1h1v-1zM183 521v3h1v-3zM185 536v1h1v-1zM191 522v2h1v-2zM191 526v5h1v-5zM285 516v1h1v-1zM339 509v3h1v-3zM341 516v2h1v-2zM344 513v1h1v-1zM345 536v1h1v-1zM346 519v2h1v-2zM346 525v3h1v-3zM349 525v1h1v-1zM350 523v1h1v-1zM351 523v3h1v-3zM353 529v1h1v-1zM355 529v2h1v-2zM360 512v3h1v-3zM374 510v3h1v-3zM375 512v2h1v-2zM376 513v2h1v-2zM379 516v1h1v-1zM379 527v3h1v-3zM380 536v2h1v-2zM383 519v2h1v-2zM383 530v2h1v-2zM400 517v3h1v-3zM400 524v1h1v-1zM401 517v6h1v-6zM402 517v2h1v-2zM403 513v2h1v-2zM404 522v2h1v-2zM406 522v3h1v-3zM415 523v1h1v-1zM418 530v3h1v-3zM424 523v3h1v-3zM430 523v3h1v-3zM431 535v3h1v-3zM432 522v2h1v-2zM432 536v1h1v-1zM433 515v2h1v-2zM449 498v3h1v-3zM450 517v3h1v-3zM452 507v1h1v-1zM452 518v2h1v-2zM453 525v1h1v-1zM454 535v2h1v-2zM459 527v2h1v-2zM460 511v3h1v-3zM460 524v3h1v-3zM492 532v2h1v-2zM493 515v2h1v-2zM494 529v1h1v-1zM509 531v2h1v-2zM511 510v2h1v-2z"/>
<path fill="#009f60" d="M51 502v2h1v-2zM61 510v3h1v-3zM137 510v2h1v-2zM138 503v3h1v-3zM181 522v1h1v-1zM182 514v3h1v-3zM182 527v1h1v-1zM183 535v3h1v-3zM185 528v2h1v-2zM187 524v1h1v-1zM257 514v1h1v-1zM271 517v3h1v-3zM339 527v2h1v-2zM340 499v3h1v-3zM340 530v1h1v-1zM341 523v3h1v-3zM347 507v1h1v-1zM350 535v2h1v-2zM351 531v1h1v-1zM353 528v1h1v-1zM355 526v3h1v-3zM356 529v1h1v-1zM361 517v3h1v-3zM376 535v1h1v-1zM378 513v2h1v-2zM378 533v3h1v-3zM382 536v2h1v-2zM385 537v1h1v-1zM415 517v2h1v-2zM422 526v2h1v-2zM427 519v3h1v-3zM430 514v3h1v-3zM432 517v3h1v-3zM446 515v3h1v-3zM447 521v3h1v-3zM452 516v2h1v-2zM454 518v3h1v-3zM454 532v3h1v-3zM464 528v2h1v-2zM467 528v1h1v-1zM468 515v3h1v-3zM469 529v3h1v-3zM469 537v1h1v-1zM494 521v3h1v-3zM495 515v1h1v-1zM502 521v2h1v-2zM504 498v3h1v-3zM504 504v1h1v-1zM510 515v1h1v-1zM516 507v3h1v-3z"/>
<path fill="#00af50" d="M56 508v3h1v-3zM57 507v3h1v-3zM58 506v1h1v-1zM59 504v3h1v-3zM61 505v2h1v-2zM181 528v1h1v-1zM182 518v2h1v-2zM183 531v1h1v-1zM186 534v2h1v-2zM257 512v1h1v-1zM340 527v3h1v-3zM341 536v2h1v-2zM342 524v3h1v-3zM342 532v2h1v-2zM342 536v2h1v-2zM343 519v2h1v-2zM347 513v2h1v-2zM349 533v3h1v-3zM350 513v3h1v-3zM355 534v1h1v-1zM357 529v3h1v-3zM359 520v3h1v-3zM360 532v3h1v-3zM373 516v1h1v-1zM374 528v2h1v-2zM379 524v2h1v-2zM380 524v2h1v-2zM385 520v4h1v-4zM387 536v1h1v-1zM403 519v3h1v-3zM403 525v2h1v-2zM404 526v1h1v-1zM405 531v3h1v-3zM410 524v3h1v-3zM410 534v2h1v-2zM427 525v1h1v-1zM429 518v3h1v-3zM429 535v2h1v-2zM433 524v1h1v-1zM436 524v1h1v-1zM447 504v3h1v-3zM447 511v1h1v-1zM450 512v2h1v-2zM451 520v2h1v-2zM452 500v1h1v-1zM453 528v3h1v-3zM455 504v3h1v-3zM456 513v1h1v-1zM457 523v3h1v-3zM472 531v2h1v-2zM474 524v2h1v-2zM475 514v2h1v-2zM492 522v2h1v-2zM499 506v1h1v-1zM511 497v3h1v-3zM515 512v2h1v-2zM516 528v1h1v-1z"/>
<path fill="#00bf40" d="M53 508v1h1v-1zM62 505v3h1v-3zM111 508v2h1v-2zM120 508v2h1v-2zM123 510v1h1v-1zM141 509v1h1v-1zM182 520v1h1v-1zM183 518v2h1v-2zM183 525v3h1v-3zM183 534v1h1v-1zM184 527v1h1v-1zM185 526v2h1v-2zM186 521v2h1v-2zM188 535v2h1v-2zM189 534v1h1v-1zM260 510v2h1v-2zM261 505v2h1v-2zM261 519v1h1v-1zM269 514v3h1v-3zM275 513v2h1v-2zM279 516v1h1v-1zM340 515v3h1v-3zM341 521v2h1v-2zM342 527v2h1v-2zM343 534v2h1v-2zM344 514v1h1v-1zM344 529v6h1v-6zM347 528v2h1v-2zM347 537v1h1v-1zM348 537v1h1v-1zM350 512v1h1v-1zM351 528v3h1v-3zM352 511v1h1v-1zM352 516v3h1v-3zM352 524v2h1v-2zM353 524v1h1v-1zM355 519v1h1v-1zM356 537v1h1v-1zM360 510v2h1v-2zM360 518v1h1v-1zM360 526v4h1v-4zM376 523v4h1v-4zM376 532v3h1v-3zM377 513v1h1v-1zM378 516v2h1v-2zM381 534v3h1v-3zM384 515v2h1v-2zM385 525v2h1v-2zM386 535v1h1v-1zM387 533v3h1v-3zM400 515v1h1v-1zM402 513v2h1v-2zM403 515v2h1v-2zM403 522v1h1v-1zM404 524v1h1v-1zM405 517v1h1v-1zM410 515v1h1v-1zM410 533v1h1v-1zM411 515v2h1v-2zM411 530v2h1v-2zM412 530v2h1v-2zM412 534v2h1v-2zM425 529v1h1v-1zM425 533v3h1v-3zM426 524v2h1v-2zM431 528v1h1v-1zM435 529v3h1v-3zM447 520v1h1v-1zM448 510v3h1v-3zM453 506v3h1v-3zM453 516v3h1v-3zM456 533v3h1v-3zM467 514v2h1v-2zM467 522v1h1v-1zM467 531v1h1v-1zM469 526v3h1v-3zM494 526v3h1v-3zM494 530v2h1v-2zM501 522v4h1v-4zM513 515v1h1v-1z"/>
<path fill="#00cf30" d="M53 507v1h1v-1zM54 507v2h1v-2zM61 513v1h1v-1zM114 505v1h1v-1zM121 506v2h1v-2zM137 508v2h1v-2zM138 506v2h1v-2zM179 520v3h1v-3zM182 535v2h1v-2zM183 516v2h1v-2zM262 515v1h1v-1zM266 518v2h1v-2zM268 518v1h1v-1zM275 516v3h1v-3zM283 519v1h1v-1zM285 514v2h1v-2zM340 524v2h1v-2zM340 534v3h1v-3zM341 526v2h1v-2zM345 537v1h1v-1zM349 519v2h1v-2zM351 533v1h1v-1zM353 532v2h1v-2zM356 512v1h1v-1zM357 515v2h1v-2zM357 524v3h1v-3zM359 530v3h1v-3zM364 511v3h1v-3zM364 528v3h1v-3zM375 527v2h1v-2zM376 520v3h1v-3zM378 523v1h1v-1zM380 531v1h1v-1zM381 521v1h1v-1zM381 537v1h1v-1zM382 525v1h1v-1zM382 531v2h1v-2zM383 536v1h1v-1zM384 533v3h1v-3zM385 535v2h1v-2zM400 516v1h1v-1zM400 520v1h1v-1zM401 514v3h1v-3zM410 518v1h1v-1zM410 521v3h1v-3zM412 522v1h1v-1zM414 515v3h1v-3zM414 521v3h1v-3zM414 535v3h1v-3zM420 524v2h1v-2zM421 500v3h1v-3zM450 505v3h1v-3zM452 514v2h1v-2zM455 514v2h1v-2zM458 517v2h1v-2zM458 535v1h1v-1zM459 521v3h1v-3zM460 536v2h1v-2zM461 528v2h1v-2zM461 535v2h1v-2zM473 522v2h1v-2zM475 519v3h1v-3zM493 510v3h1v-3zM499 535v1h1v-1zM503 535v3h1v-3zM509 504v2h1v-2zM512 510v2h1v-2zM537 501v1h1v-1z"/>
<path fill="#00df20" d="M52 503v1h1v-1zM52 510v1h1v-1zM61 507v2h1v-2zM111 505v3h1v-3zM120 510v1h1v-1zM123 504v2h1v-2zM126 505v3h1v-3zM131 511v1h1v-1zM139 510v3h1v-3zM181 532v3h1v-3zM182 521v2h1v-2zM183 520v1h1v-1zM183 524v1h1v-1zM184 528v1h1v-1zM185 513v3h1v-3zM185 532v3h1v-3zM187 520v2h1v-2zM188 519v1h1v-1zM192 533v1h1v-1zM256 519v2h1v-2zM260 512v1h1v-1zM261 515v2h1v-2zM272 512v1h1v-1zM339 529v3h1v-3zM341 518v3h1v-3zM352 526v2h1v-2zM353 525v3h1v-3zM354 530v3h1v-3zM355 516v3h1v-3zM356 516v3h1v-3zM356 522v2h1v-2zM359 517v3h1v-3zM364 510v1h1v-1zM372 513v2h1v-2zM372 517v2h1v-2zM374 524v3h1v-3zM374 530v2h1v-2zM374 535v2h1v-2zM376 509v1h1v-1zM378 515v1h1v-1zM378 524v3h1v-3zM379 521v3h1v-3zM379 526v1h1v-1zM379 530v3h1v-3zM382 533v3h1v-3zM387 524v1h1v-1zM388 536v2h1v-2zM402 510v3h1v-3zM404 534v2h1v-2zM415 501v3h1v-3zM428 505v3h1v-3zM430 518v1h1v-1zM431 529v1h1v-1zM447 518v1h1v-1zM449 517v3h1v-3zM453 509v2h1v-2zM455 536v2h1v-2zM456 519v2h1v-2zM456 536v2h1v-2zM457 533v3h1v-3zM459 510v1h1v-1zM459 524v3h1v-3zM460 528v3h1v-3zM464 521v1h1v-1zM464 526v2h1v-2zM467 516v2h1v-2zM469 524v1h1v-1zM469 532v3h1v-3zM474 534v2h1v-2zM499 499v1h1v-1zM505 497v1h1v-1zM505 500v1h1v-1zM505 507v1h1v-1zM511 514v2h1v-2zM514 508v3h1v-3zM515 500v1h1v-1zM515 526v3h1v-3zM516 523v1h1v-1zM582 496v3h1v-3z"/>
<path fill="#00ef10" d="M53 509v2h1v-2zM57 506v1h1v-1zM121 508v3h1v-3zM137 505v2h1v-2zM178 511v3h1v-3zM178 517v3h1v-3zM185 520v5h1v-5zM185 537v1h1v-1zM262 511v1h1v-1zM273 515v1h1v-1zM279 510v3h1v-3zM279 517v3h1v-3zM284 515v1h1v-1zM312 520v6h1v-6zM340 513v2h1v-2zM340 533v1h1v-1zM341 528v1h1v-1zM344 537v1h1v-1zM345 510v1h1v-1zM345 530v1h1v-1zM346 511v1h1v-1zM346 515v2h1v-2zM346 529v1h1v-1zM348 528v2h1v-2zM351 537v1h1v-1zM356 532v2h1v-2zM359 508v3h1v-3zM359 536v2h1v-2zM360 519v3h1v-3zM361 528v2h1v-2zM364 531v1h1v-1zM374 513v1h1v-1zM375 526v1h1v-1zM378 532v1h1v-1zM379 520v1h1v-1zM380 521v1h1v-1zM382 530v1h1v-1zM383 527v3h1v-3zM385 532v3h1v-3zM386 527v1h1v-1zM386 532v3h1v-3zM386 537v1h1v-1zM401 511v3h1v-3zM402 519v2h1v-2zM404 531v1h1v-1zM406 513v1h1v-1zM410 528v2h1v-2zM412 506v2h1v-2zM414 508v2h1v-2zM414 532v3h1v-3zM419 506v3h1v-3zM424 501v1h1v-1zM430 520v1h1v-1zM434 511v3h1v-3zM434 519v2h1v-2zM441 507v2h1v-2zM448 513v2h1v-2zM449 511v2h1v-2zM453 505v1h1v-1zM456 522v2h1v-2zM456 529v1h1v-1zM457 529v2h1v-2zM460 507v3h1v-3zM461 521v1h1v-1zM467 520v2h1v-2zM468 513v2h1v-2zM473 518v2h1v-2zM490 511v2h1v-2zM493 506v1h1v-1zM493 519v4h1v-4zM494 513v2h1v-2zM495 507v3h1v-3zM496 518v2h1v-2zM499 523v1h1v-1zM508 523v1h1v-1zM512 506v1h1v-1zM512 512v2h1v-2zM513 511v1h1v-1zM514 511v3h1v-3zM515 534v2h1v-2zM537 499v2h1v-2zM538 498v2h1v-2zM588 532v1h1v-1z"/>
<path fill="#00ff00" d="M52 507v1h1v-1zM56 505v3h1v-3zM114 506v2h1v-2zM123 506v1h1v-1zM138 508v1h1v-1zM139 507v3h1v-3zM141 507v2h1v-2zM141 510v3h1v-3zM178 514v3h1v-3zM181 536v2h1v-2zM184 522v1h1v-1zM188 533v2h1v-2zM262 512v1h1v-1zM277 509v1h1v-1zM306 527v1h1v-1zM311 515v1h1v-1zM339 499v2h1v-2zM342 519v2h1v-2zM343 536v2h1v-2zM349 532v1h1v-1zM351 534v3h1v-3zM356 519v3h1v-3zM359 533v3h1v-3zM365 533v2h1v-2zM371 513v1h1v-1zM373 517v1h1v-1zM373 536v2h1v-2zM374 516v3h1v-3zM375 518v3h1v-3zM376 510v1h1v-1zM377 511v1h1v-1zM377 522v1h1v-1zM377 531v3h1v-3zM378 521v1h1v-1zM381 519v2h1v-2zM381 531v3h1v-3zM384 523v2h1v-2zM384 537v1h1v-1zM400 521v1h1v-1zM404 507v2h1v-2zM404 521v1h1v-1zM405 522v3h1v-3zM405 535v2h1v-2zM406 511v2h1v-2zM406 536v2h1v-2zM409 536v2h1v-2zM410 506v2h1v-2zM411 528v1h1v-1zM412 526v2h1v-2zM415 500v1h1v-1zM421 527v2h1v-2zM430 511v3h1v-3zM431 509v4h1v-4zM431 521v2h1v-2zM432 528v1h1v-1zM433 513v2h1v-2zM435 535v1h1v-1zM448 504v2h1v-2zM449 503v3h1v-3zM450 499v1h1v-1zM450 520v2h1v-2zM452 498v2h1v-2zM454 537v1h1v-1zM459 504v3h1v-3zM460 518v1h1v-1zM464 534v1h1v-1zM467 518v1h1v-1zM492 519v3h1v-3zM495 516v4h1v-4zM504 519v2h1v-2zM505 498v2h1v-2zM509 498v2h1v-2zM511 507v3h1v-3zM516 519v3h1v-3zM538 502v1h1v-1zM581 491v2h1v-2zM611 497v2h1v-2z"/>
<path fill="#20ff00" d="M51 507v3h1v-3zM52 504v3h1v-3zM52 511v1h1v-1zM58 507v1h1v-1zM107 506v2h1v-2zM114 504v1h1v-1zM122 508v2h1v-2zM124 505v1h1v-1zM137 507v1h1v-1zM140 505v5h1v-5zM178 520v1h1v-1zM179 512v1h1v-1zM180 509v2h1v-2zM181 520v1h1v-1zM182 513v1h1v-1zM184 516v3h1v-3zM184 534v2h1v-2zM185 518v2h1v-2zM186 519v2h1v-2zM217 384v2h1v-2zM279 520v1h1v-1zM283 517v2h1v-2zM304 515v1h1v-1zM304 522v4h1v-4zM305 519v2h1v-2zM305 528v3h1v-3zM311 519v3h1v-3zM339 532v3h1v-3zM345 522v3h1v-3zM345 531v3h1v-3zM347 522v1h1v-1zM352 528v3h1v-3zM354 522v1h1v-1zM357 536v1h1v-1zM359 523v5h1v-5zM360 515v3h1v-3zM360 524v2h1v-2zM360 535v2h1v-2zM371 516v2h1v-2zM371 529v1h1v-1zM374 515v1h1v-1zM375 514v1h1v-1zM376 511v1h1v-1zM376 530v2h1v-2zM377 514v1h1v-1zM380 532v1h1v-1zM382 526v1h1v-1zM384 528v2h1v-2zM385 518v2h1v-2zM385 524v1h1v-1zM385 527v1h1v-1zM386 526v1h1v-1zM403 507v6h1v-6zM409 516v2h1v-2zM409 531v2h1v-2zM411 508v1h1v-1zM427 502v1h1v-1zM428 502v2h1v-2zM429 516v2h1v-2zM433 527v3h1v-3zM434 518v1h1v-1zM451 509v1h1v-1zM454 529v3h1v-3zM457 522v1h1v-1zM458 505v2h1v-2zM458 519v2h1v-2zM459 501v3h1v-3zM460 531v1h1v-1zM461 533v1h1v-1zM467 532v1h1v-1zM473 512v3h1v-3zM473 521v1h1v-1zM493 504v2h1v-2zM496 520v1h1v-1zM499 496v3h1v-3zM499 519v4h1v-4zM499 537v1h1v-1zM511 516v3h1v-3zM513 528v3h1v-3zM516 513v3h1v-3zM516 527v1h1v-1zM526 498v3h1v-3z"/>
<path fill="#40ff00" d="M54 502v2h1v-2zM54 505v2h1v-2zM61 509v1h1v-1zM66 509v2h1v-2zM95 508v2h1v-2zM107 504v2h1v-2zM123 508v1h1v-1zM124 509v1h1v-1zM138 509v2h1v-2zM151 505v3h1v-3zM177 514v3h1v-3zM177 518v5h1v-5zM178 508v3h1v-3zM179 518v1h1v-1zM180 511v1h1v-1zM180 521v2h1v-2zM181 525v2h1v-2zM182 517v1h1v-1zM282 518v2h1v-2zM304 512v3h1v-3zM311 512v1h1v-1zM313 523v1h1v-1zM313 527v3h1v-3zM339 501v3h1v-3zM339 517v2h1v-2zM339 535v3h1v-3zM341 531v2h1v-2zM345 534v2h1v-2zM346 530v3h1v-3zM348 536v1h1v-1zM355 523v3h1v-3zM356 509v3h1v-3zM356 530v1h1v-1zM357 517v2h1v-2zM361 520v5h1v-5zM364 517v1h1v-1zM364 525v3h1v-3zM365 519v1h1v-1zM372 533v2h1v-2zM373 512v2h1v-2zM373 530v3h1v-3zM374 519v5h1v-5zM375 508v2h1v-2zM376 518v1h1v-1zM377 515v4h1v-4zM379 517v3h1v-3zM383 532v2h1v-2zM386 523v1h1v-1zM387 527v3h1v-3zM409 527v2h1v-2zM410 504v2h1v-2zM410 512v1h1v-1zM410 516v2h1v-2zM411 527v1h1v-1zM411 537v1h1v-1zM412 510v1h1v-1zM412 515v1h1v-1zM414 506v2h1v-2zM414 529v1h1v-1zM415 514v3h1v-3zM415 519v4h1v-4zM425 512v1h1v-1zM425 516v1h1v-1zM427 516v3h1v-3zM428 514v2h1v-2zM428 533v2h1v-2zM429 510v3h1v-3zM432 514v3h1v-3zM434 514v2h1v-2zM435 515v3h1v-3zM436 521v1h1v-1zM447 501v3h1v-3zM449 513v2h1v-2zM452 506v1h1v-1zM457 528v1h1v-1zM458 527v3h1v-3zM459 535v3h1v-3zM469 522v2h1v-2zM473 501v3h1v-3zM474 518v2h1v-2zM494 518v3h1v-3zM494 524v1h1v-1zM496 517v1h1v-1zM500 528v2h1v-2zM505 496v1h1v-1zM506 510v1h1v-1zM511 500v1h1v-1zM513 537v1h1v-1zM515 506v3h1v-3zM515 515v3h1v-3zM538 500v2h1v-2zM581 495v2h1v-2zM587 497v2h1v-2z"/>
<path fill="#60ff00" d="M53 505v2h1v-2zM54 509v2h1v-2zM57 510v1h1v-1zM95 506v2h1v-2zM107 508v2h1v-2zM141 504v2h1v-2zM151 509v1h1v-1zM152 511v1h1v-1zM158 510v2h1v-2zM176 511v2h1v-2zM177 517v1h1v-1zM179 515v2h1v-2zM184 521v1h1v-1zM184 529v1h1v-1zM185 535v1h1v-1zM192 528v2h1v-2zM278 511v1h1v-1zM282 515v3h1v-3zM304 516v4h1v-4zM305 521v2h1v-2zM305 531v1h1v-1zM306 520v1h1v-1zM306 526v1h1v-1zM311 522v1h1v-1zM324 529v1h1v-1zM324 531v2h1v-2zM350 528v3h1v-3zM356 526v3h1v-3zM359 514v3h1v-3zM361 513v1h1v-1zM361 535v3h1v-3zM364 518v4h1v-4zM365 514v3h1v-3zM365 520v3h1v-3zM365 531v2h1v-2zM370 536v1h1v-1zM371 534v3h1v-3zM372 530v1h1v-1zM374 514v1h1v-1zM375 529v3h1v-3zM376 515v3h1v-3zM379 513v3h1v-3zM380 515v3h1v-3zM381 522v1h1v-1zM381 526v2h1v-2zM382 514v2h1v-2zM387 525v2h1v-2zM388 534v1h1v-1zM402 515v2h1v-2zM404 513v3h1v-3zM405 508v1h1v-1zM410 500v3h1v-3zM411 512v3h1v-3zM411 517v3h1v-3zM412 516v1h1v-1zM422 518v3h1v-3zM425 515v1h1v-1zM428 508v2h1v-2zM430 508v2h1v-2zM447 499v1h1v-1zM451 517v1h1v-1zM454 523v3h1v-3zM455 511v2h1v-2zM455 520v1h1v-1zM475 517v2h1v-2zM475 522v4h1v-4zM491 511v3h1v-3zM495 504v1h1v-1zM505 501v2h1v-2zM511 512v2h1v-2zM511 526v3h1v-3zM512 525v3h1v-3zM513 508v3h1v-3zM514 525v2h1v-2zM516 505v2h1v-2zM516 510v2h1v-2zM516 529v1h1v-1zM516 533v2h1v-2zM556 533v1h1v-1zM610 499v1h1v-1z"/>
<path fill="#80ff00" d="M52 508v2h1v-2zM60 505v3h1v-3zM111 510v1h1v-1zM115 504v3h1v-3zM120 505v2h1v-2zM121 503v3h1v-3zM123 503v1h1v-1zM123 507v1h1v-1zM147 504v6h1v-6zM153 510v2h1v-2zM176 507v4h1v-4zM177 512v2h1v-2zM177 523v1h1v-1zM179 509v3h1v-3zM179 513v2h1v-2zM184 519v2h1v-2zM185 530v2h1v-2zM285 517v2h1v-2zM305 516v3h1v-3zM305 525v3h1v-3zM306 528v2h1v-2zM312 526v2h1v-2zM313 520v1h1v-1zM314 520v4h1v-4zM314 525v2h1v-2zM339 525v2h1v-2zM357 527v2h1v-2zM361 533v2h1v-2zM364 508v2h1v-2zM364 514v3h1v-3zM365 529v2h1v-2zM370 530v6h1v-6zM372 535v1h1v-1zM373 533v3h1v-3zM375 515v1h1v-1zM375 523v3h1v-3zM376 536v2h1v-2zM383 516v3h1v-3zM386 530v2h1v-2zM404 509v2h1v-2zM409 503v1h1v-1zM414 518v2h1v-2zM425 519v1h1v-1zM428 500v2h1v-2zM428 513v1h1v-1zM428 535v3h1v-3zM429 508v1h1v-1zM430 502v1h1v-1zM452 511v3h1v-3zM457 506v2h1v-2zM461 513v2h1v-2zM473 526v1h1v-1zM475 516v1h1v-1zM493 507v3h1v-3zM495 510v3h1v-3zM504 505v3h1v-3zM504 525v1h1v-1zM506 531v1h1v-1zM511 521v2h1v-2zM512 535v2h1v-2zM513 525v3h1v-3zM513 531v1h1v-1zM515 529v2h1v-2zM586 492v2h1v-2z"/>
<path fill="#9fff00" d="M58 505v1h1v-1zM60 512v2h1v-2zM95 510v1h1v-1zM115 507v1h1v-1zM122 504v3h1v-3zM123 509v1h1v-1zM124 503v2h1v-2zM126 508v5h1v-5zM131 508v3h1v-3zM147 502v2h1v-2zM149 507v3h1v-3zM150 509v1h1v-1zM152 509v2h1v-2zM155 400v3h1v-3zM156 510v3h1v-3zM180 512v2h1v-2zM180 518v3h1v-3zM184 523v1h1v-1zM272 515v2h1v-2zM276 513v3h1v-3zM304 520v2h1v-2zM306 521v2h1v-2zM311 516v1h1v-1zM313 521v2h1v-2zM313 524v3h1v-3zM349 536v1h1v-1zM355 520v3h1v-3zM357 521v3h1v-3zM365 523v6h1v-6zM365 535v1h1v-1zM371 514v2h1v-2zM371 530v1h1v-1zM371 537v1h1v-1zM375 510v2h1v-2zM378 522v1h1v-1zM380 512v3h1v-3zM380 522v2h1v-2zM382 522v3h1v-3zM383 534v2h1v-2zM384 525v3h1v-3zM388 535v1h1v-1zM404 511v2h1v-2zM405 511v3h1v-3zM406 519v3h1v-3zM409 533v3h1v-3zM410 519v2h1v-2zM411 520v2h1v-2zM414 514v1h1v-1zM415 496v4h1v-4zM415 506v1h1v-1zM421 495v3h1v-3zM425 509v3h1v-3zM428 499v1h1v-1zM428 504v1h1v-1zM428 510v3h1v-3zM429 502v1h1v-1zM429 509v1h1v-1zM431 507v2h1v-2zM442 522v1h1v-1zM448 503v1h1v-1zM449 501v2h1v-2zM456 524v3h1v-3zM457 527v1h1v-1zM457 537v1h1v-1zM459 515v3h1v-3zM461 522v1h1v-1zM473 536v2h1v-2zM494 509v1h1v-1zM495 505v2h1v-2zM496 511v3h1v-3zM503 520v1h1v-1zM504 535v3h1v-3zM507 509v2h1v-2zM508 500v2h1v-2zM514 536v1h1v-1zM515 532v2h1v-2zM515 536v1h1v-1zM533 500v3h1v-3zM613 511v3h1v-3z"/>
<path fill="#bfff00" d="M51 504v1h1v-1zM54 504v1h1v-1zM59 510v1h1v-1zM60 511v1h1v-1zM139 505v2h1v-2zM148 505v4h1v-4zM156 508v2h1v-2zM177 509v3h1v-3zM179 519v1h1v-1zM180 508v1h1v-1zM180 514v1h1v-1zM181 523v2h1v-2zM181 527v1h1v-1zM185 516v2h1v-2zM283 514v2h1v-2zM305 523v2h1v-2zM306 523v3h1v-3zM311 510v2h1v-2zM311 517v2h1v-2zM323 530v2h1v-2zM324 530v1h1v-1zM340 502v3h1v-3zM355 531v3h1v-3zM361 530v3h1v-3zM364 522v3h1v-3zM370 529v1h1v-1zM372 529v1h1v-1zM377 520v2h1v-2zM378 527v3h1v-3zM386 536v1h1v-1zM406 505v2h1v-2zM409 507v3h1v-3zM410 508v3h1v-3zM411 503v3h1v-3zM415 508v3h1v-3zM421 507v3h1v-3zM422 495v2h1v-2zM423 512v3h1v-3zM426 515v2h1v-2zM430 503v2h1v-2zM432 511v3h1v-3zM442 519v1h1v-1zM447 500v1h1v-1zM447 508v2h1v-2zM455 516v1h1v-1zM455 527v3h1v-3zM458 511v1h1v-1zM459 518v3h1v-3zM461 511v2h1v-2zM472 502v2h1v-2zM473 510v1h1v-1zM492 514v3h1v-3zM494 510v3h1v-3zM495 503v1h1v-1zM495 513v2h1v-2zM496 508v2h1v-2zM499 532v1h1v-1zM500 520v1h1v-1zM504 531v1h1v-1zM508 505v1h1v-1zM509 506v2h1v-2zM511 519v2h1v-2zM512 517v2h1v-2zM513 499v3h1v-3zM515 531v1h1v-1zM526 501v1h1v-1zM601 503v1h1v-1z"/>
<path fill="#dfff00" d="M58 510v1h1v-1zM62 511v2h1v-2zM95 511v1h1v-1zM101 507v1h1v-1zM101 510v1h1v-1zM147 510v2h1v-2zM149 501v2h1v-2zM149 510v1h1v-1zM150 506v3h1v-3zM151 508v1h1v-1zM153 508v2h1v-2zM158 513v1h1v-1zM161 511v3h1v-3zM180 515v3h1v-3zM184 514v2h1v-2zM267 511v2h1v-2zM268 513v1h1v-1zM271 513v3h1v-3zM277 519v1h1v-1zM311 513v2h1v-2zM313 530v2h1v-2zM314 524v1h1v-1zM314 527v3h1v-3zM354 523v2h1v-2zM359 507v1h1v-1zM359 512v2h1v-2zM365 517v2h1v-2zM371 531v3h1v-3zM372 515v2h1v-2zM372 531v2h1v-2zM382 519v2h1v-2zM382 527v3h1v-3zM385 528v1h1v-1zM386 528v2h1v-2zM387 530v3h1v-3zM405 528v1h1v-1zM409 510v3h1v-3zM414 496v3h1v-3zM424 513v2h1v-2zM424 518v2h1v-2zM425 517v2h1v-2zM426 518v1h1v-1zM440 519v2h1v-2zM442 523v3h1v-3zM442 530v3h1v-3zM455 524v3h1v-3zM456 507v5h1v-5zM456 530v3h1v-3zM460 522v2h1v-2zM461 527v1h1v-1zM490 513v1h1v-1zM499 524v3h1v-3zM511 523v3h1v-3zM513 495v3h1v-3zM514 527v3h1v-3zM544 501v2h1v-2zM601 504v1h1v-1zM610 498v1h1v-1zM612 494v2h1v-2z"/>
<path fill="#ffff00" d="M51 510v2h1v-2zM60 508v1h1v-1zM100 507v3h1v-3zM120 507v1h1v-1zM148 509v3h1v-3zM152 508v1h1v-1zM162 512v1h1v-1zM267 517v2h1v-2zM323 532v2h1v-2zM355 508v3h1v-3zM360 522v2h1v-2zM376 512v1h1v-1zM378 530v2h1v-2zM381 516v3h1v-3zM381 523v3h1v-3zM405 503v3h1v-3zM405 509v2h1v-2zM406 517v2h1v-2zM412 503v3h1v-3zM415 511v3h1v-3zM418 505v3h1v-3zM419 517v2h1v-2zM420 510v2h1v-2zM422 499v2h1v-2zM424 515v3h1v-3zM427 514v2h1v-2zM429 513v3h1v-3zM431 513v2h1v-2zM433 510v3h1v-3zM442 526v2h1v-2zM442 533v2h1v-2zM446 508v1h1v-1zM449 506v3h1v-3zM451 518v2h1v-2zM452 527v1h1v-1zM455 513v1h1v-1zM459 514v1h1v-1zM459 529v3h1v-3zM460 516v2h1v-2zM460 521v1h1v-1zM474 520v3h1v-3zM490 510v1h1v-1zM493 513v2h1v-2zM494 506v3h1v-3zM496 502v1h1v-1zM499 527v2h1v-2zM505 508v1h1v-1zM507 524v2h1v-2zM508 497v3h1v-3zM510 508v2h1v-2zM512 514v3h1v-3zM512 537v1h1v-1zM513 532v2h1v-2zM514 505v3h1v-3zM543 502v1h1v-1zM584 496v3h1v-3zM587 493v1h1v-1zM601 499v4h1v-4zM601 505v2h1v-2z"/>
<path fill="#ffef00" d="M60 509v2h1v-2zM101 508v2h1v-2zM141 506v1h1v-1zM149 505v2h1v-2zM162 510v1h1v-1zM179 517v1h1v-1zM261 514v1h1v-1zM262 516v1h1v-1zM263 515v1h1v-1zM273 510v2h1v-2zM284 519v1h1v-1zM323 529v1h1v-1zM337 501v5h1v-5zM354 536v2h1v-2zM359 511v1h1v-1zM361 514v3h1v-3zM366 531v5h1v-5zM377 534v2h1v-2zM379 536v1h1v-1zM383 526v1h1v-1zM409 504v3h1v-3zM409 513v3h1v-3zM410 503v1h1v-1zM411 522v3h1v-3zM412 500v3h1v-3zM412 513v2h1v-2zM414 520v1h1v-1zM415 504v2h1v-2zM419 514v3h1v-3zM420 515v3h1v-3zM421 499v1h1v-1zM422 510v2h1v-2zM423 511v1h1v-1zM423 517v3h1v-3zM440 518v1h1v-1zM442 520v2h1v-2zM442 528v2h1v-2zM451 505v2h1v-2zM457 519v3h1v-3zM457 526v1h1v-1zM458 530v3h1v-3zM461 516v3h1v-3zM474 500v2h1v-2zM492 517v2h1v-2zM494 515v3h1v-3zM496 507v1h1v-1zM502 532v1h1v-1zM507 499v2h1v-2zM508 506v1h1v-1zM511 535v3h1v-3zM513 512v3h1v-3zM532 501v1h1v-1zM544 500v1h1v-1zM556 530v1h1v-1z"/>
<path fill="#ffdf00" d="M63 512v2h1v-2zM100 506v1h1v-1zM108 506v3h1v-3zM113 506v2h1v-2zM149 504v1h1v-1zM162 511v1h1v-1zM280 514v3h1v-3zM314 530v2h1v-2zM324 533v1h1v-1zM338 503v1h1v-1zM355 512v1h1v-1zM357 513v2h1v-2zM357 532v3h1v-3zM372 536v2h1v-2zM375 532v3h1v-3zM378 536v2h1v-2zM382 516v3h1v-3zM384 520v3h1v-3zM386 524v2h1v-2zM409 518v1h1v-1zM410 511v1h1v-1zM412 508v1h1v-1zM414 504v2h1v-2zM418 508v1h1v-1zM418 535v2h1v-2zM421 516v1h1v-1zM421 518v3h1v-3zM422 516v2h1v-2zM423 505v6h1v-6zM427 495v1h1v-1zM427 504v2h1v-2zM428 516v1h1v-1zM441 522v1h1v-1zM454 514v2h1v-2zM473 515v3h1v-3zM492 499v2h1v-2zM492 506v3h1v-3zM506 514v3h1v-3zM507 501v2h1v-2zM512 521v1h1v-1zM513 498v1h1v-1zM514 533v3h1v-3zM515 498v1h1v-1zM515 509v3h1v-3zM544 503v2h1v-2zM584 499v1h1v-1zM614 498v3h1v-3z"/>
<path fill="#ffcf00" d="M122 507v1h1v-1zM149 503v1h1v-1zM150 505v1h1v-1zM158 512v1h1v-1zM265 512v2h1v-2zM284 516v3h1v-3zM338 505v1h1v-1zM340 537v1h1v-1zM357 510v3h1v-3zM357 519v2h1v-2zM406 509v2h1v-2zM412 517v2h1v-2zM414 501v3h1v-3zM420 518v3h1v-3zM422 504v1h1v-1zM423 502v1h1v-1zM424 505v1h1v-1zM425 496v1h1v-1zM426 504v2h1v-2zM441 520v1h1v-1zM454 510v1h1v-1zM454 516v2h1v-2zM454 521v2h1v-2zM455 533v3h1v-3zM456 528v1h1v-1zM457 503v3h1v-3zM458 510v1h1v-1zM458 524v3h1v-3zM458 533v1h1v-1zM459 534v1h1v-1zM461 519v2h1v-2zM472 518v2h1v-2zM494 505v1h1v-1zM496 514v3h1v-3zM499 536v1h1v-1zM506 502v2h1v-2zM506 537v1h1v-1zM508 507v1h1v-1zM509 502v2h1v-2zM511 504v3h1v-3zM513 506v2h1v-2zM513 534v3h1v-3zM514 530v3h1v-3zM518 501v2h1v-2zM545 531v2h1v-2zM556 531v2h1v-2zM581 498v2h1v-2zM583 491v1h1v-1zM602 507v1h1v-1zM609 502v1h1v-1z"/>
<path fill="#ffbf00" d="M55 504v1h1v-1zM148 502v3h1v-3zM149 511v1h1v-1zM161 508v3h1v-3zM263 513v2h1v-2zM338 501v2h1v-2zM338 504v1h1v-1zM338 506v3h1v-3zM380 518v3h1v-3zM381 515v1h1v-1zM382 521v1h1v-1zM412 509v1h1v-1zM419 497v3h1v-3zM419 503v3h1v-3zM424 496v2h1v-2zM425 503v1h1v-1zM426 500v1h1v-1zM426 517v1h1v-1zM441 521v1h1v-1zM449 520v3h1v-3zM452 502v2h1v-2zM455 517v3h1v-3zM455 530v3h1v-3zM456 503v1h1v-1zM456 527v1h1v-1zM457 502v1h1v-1zM458 502v3h1v-3zM458 536v1h1v-1zM461 507v2h1v-2zM474 526v1h1v-1zM475 501v2h1v-2zM492 511v3h1v-3zM493 503v1h1v-1zM494 502v1h1v-1zM496 500v2h1v-2zM532 502v1h1v-1zM543 499v2h1v-2zM582 491v2h1v-2zM602 501v3h1v-3zM610 500v3h1v-3zM611 495v2h1v-2zM613 497v3h1v-3zM613 514v1h1v-1zM614 501v2h1v-2z"/>
<path fill="#ffaf00" d="M134 508v3h1v-3zM275 515v1h1v-1zM277 508v1h1v-1zM283 516v1h1v-1zM346 536v1h1v-1zM354 525v3h1v-3zM355 507v1h1v-1zM356 513v3h1v-3zM410 527v1h1v-1zM411 500v3h1v-3zM411 532v1h1v-1zM419 519v1h1v-1zM419 524v3h1v-3zM420 499v3h1v-3zM421 506v1h1v-1zM423 497v2h1v-2zM424 509v1h1v-1zM425 497v2h1v-2zM425 524v3h1v-3zM426 506v4h1v-4zM427 503v1h1v-1zM430 505v3h1v-3zM430 510v1h1v-1zM438 516v2h1v-2zM447 510v1h1v-1zM451 536v2h1v-2zM455 501v3h1v-3zM458 515v2h1v-2zM473 500v1h1v-1zM503 507v1h1v-1zM505 510v1h1v-1zM510 506v2h1v-2zM518 505v1h1v-1zM526 502v1h1v-1zM543 501v1h1v-1zM582 493v3h1v-3zM602 530v1h1v-1zM612 496v3h1v-3zM616 500v2h1v-2z"/>
<path fill="#ff9f00" d="M277 513v3h1v-3zM342 529v2h1v-2zM352 532v3h1v-3zM377 536v2h1v-2zM384 517v3h1v-3zM405 506v2h1v-2zM415 507v1h1v-1zM418 516v3h1v-3zM419 511v3h1v-3zM420 505v2h1v-2zM421 503v1h1v-1zM421 513v1h1v-1zM422 497v2h1v-2zM422 528v1h1v-1zM422 533v1h1v-1zM423 499v3h1v-3zM426 513v2h1v-2zM427 513v1h1v-1zM448 500v3h1v-3zM450 537v1h1v-1zM451 499v3h1v-3zM454 505v2h1v-2zM454 508v2h1v-2zM454 526v3h1v-3zM455 521v2h1v-2zM472 498v3h1v-3zM472 504v1h1v-1zM473 498v1h1v-1zM473 530v1h1v-1zM475 529v3h1v-3zM496 503v1h1v-1zM499 513v6h1v-6zM500 500v1h1v-1zM503 497v1h1v-1zM504 508v3h1v-3zM506 501v1h1v-1zM506 504v3h1v-3zM507 503v2h1v-2zM510 497v2h1v-2zM510 501v2h1v-2zM511 496v1h1v-1zM511 529v1h1v-1zM512 528v3h1v-3zM513 504v2h1v-2zM518 507v1h1v-1z"/>
<path fill="#ff8f00" d="M135 510v1h1v-1zM274 517v1h1v-1zM342 521v3h1v-3zM411 506v2h1v-2zM418 495v1h1v-1zM418 510v3h1v-3zM420 507v3h1v-3zM421 498v1h1v-1zM423 515v2h1v-2zM438 515v1h1v-1zM438 518v1h1v-1zM439 518v1h1v-1zM440 516v2h1v-2zM446 512v3h1v-3zM447 527v2h1v-2zM448 534v3h1v-3zM450 508v3h1v-3zM452 508v3h1v-3zM456 516v3h1v-3zM457 501v1h1v-1zM458 512v3h1v-3zM459 511v3h1v-3zM492 509v2h1v-2zM495 499v3h1v-3zM499 533v2h1v-2zM505 534v1h1v-1zM512 497v1h1v-1zM527 502v2h1v-2zM581 493v1h1v-1zM584 493v1h1v-1zM602 504v3h1v-3zM619 500v1h1v-1z"/>
<path fill="#ff8000" d="M135 506v2h1v-2zM265 517v3h1v-3zM268 517v1h1v-1zM271 516v1h1v-1zM276 519v2h1v-2zM279 513v3h1v-3zM280 517v3h1v-3zM381 528v3h1v-3zM384 530v3h1v-3zM405 514v3h1v-3zM406 507v2h1v-2zM411 509v3h1v-3zM414 499v2h1v-2zM418 499v4h1v-4zM421 517v1h1v-1zM422 534v3h1v-3zM424 506v1h1v-1zM425 499v2h1v-2zM427 496v3h1v-3zM427 510v3h1v-3zM448 529v2h1v-2zM456 521v1h1v-1zM457 516v3h1v-3zM458 534v1h1v-1zM459 532v2h1v-2zM461 525v2h1v-2zM474 502v2h1v-2zM475 498v3h1v-3zM492 502v2h1v-2zM500 497v1h1v-1zM508 508v3h1v-3zM509 508v3h1v-3zM512 498v2h1v-2zM512 522v1h1v-1zM514 499v2h1v-2zM516 502v1h1v-1zM516 512v1h1v-1zM556 501v3h1v-3zM557 518v2h1v-2zM581 494v1h1v-1zM584 494v2h1v-2z"/>
<path fill="#ff7000" d="M135 508v2h1v-2zM269 517v1h1v-1zM275 511v1h1v-1zM404 504v3h1v-3zM404 529v2h1v-2zM405 529v1h1v-1zM411 529v1h1v-1zM418 509v1h1v-1zM419 509v2h1v-2zM419 520v1h1v-1zM421 504v2h1v-2zM421 510v3h1v-3zM421 522v3h1v-3zM422 530v3h1v-3zM425 501v2h1v-2zM425 527v1h1v-1zM427 509v1h1v-1zM447 532v1h1v-1zM454 511v3h1v-3zM455 523v1h1v-1zM458 521v3h1v-3zM492 501v1h1v-1zM493 500v3h1v-3zM502 509v3h1v-3zM503 498v2h1v-2zM505 504v3h1v-3zM511 501v2h1v-2zM512 495v2h1v-2zM512 505v1h1v-1zM512 532v3h1v-3zM513 502v2h1v-2zM515 503v3h1v-3zM516 522v1h1v-1zM516 524v3h1v-3zM519 505v1h1v-1zM584 490v3h1v-3zM602 531v2h1v-2zM609 499v2h1v-2zM612 499v2h1v-2zM613 501v1h1v-1z"/>
<path fill="#ff6000" d="M59 507v3h1v-3zM260 515v3h1v-3zM267 519v1h1v-1zM268 519v1h1v-1zM414 524v3h1v-3zM419 500v3h1v-3zM421 532v2h1v-2zM422 505v5h1v-5zM423 503v2h1v-2zM423 520v1h1v-1zM424 510v3h1v-3zM425 506v3h1v-3zM426 501v2h1v-2zM448 515v2h1v-2zM454 507v1h1v-1zM457 515v1h1v-1zM478 503v1h1v-1zM494 499v1h1v-1zM494 503v2h1v-2zM503 500v2h1v-2zM503 504v1h1v-1zM510 499v2h1v-2zM510 505v1h1v-1zM512 523v2h1v-2zM556 528v2h1v-2zM611 529v1h1v-1z"/>
<path fill="#ff5000" d="M58 508v2h1v-2zM262 517v2h1v-2zM275 519v1h1v-1zM276 516v3h1v-3zM338 509v1h1v-1zM379 533v3h1v-3zM412 536v2h1v-2zM418 503v1h1v-1zM418 515v1h1v-1zM419 528v2h1v-2zM422 513v3h1v-3zM422 521v3h1v-3zM426 498v2h1v-2zM426 503v1h1v-1zM427 506v3h1v-3zM455 507v3h1v-3zM456 505v2h1v-2zM457 514v1h1v-1zM493 494v3h1v-3zM500 498v1h1v-1zM502 504v2h1v-2zM505 509v1h1v-1zM506 499v2h1v-2zM510 503v2h1v-2zM511 531v3h1v-3zM514 501v3h1v-3zM514 514v2h1v-2zM519 506v3h1v-3zM526 503v1h1v-1zM535 503v2h1v-2zM544 527v1h1v-1zM582 499v2h1v-2zM611 530v1h1v-1zM613 500v1h1v-1zM617 499v1h1v-1z"/>
<path fill="#ff4000" d="M136 504v3h1v-3zM262 514v1h1v-1zM355 511v1h1v-1zM357 507v3h1v-3zM406 504v1h1v-1zM410 536v2h1v-2zM418 513v2h1v-2zM420 496v3h1v-3zM439 515v3h1v-3zM456 501v2h1v-2zM456 512v1h1v-1zM457 509v1h1v-1zM458 507v3h1v-3zM461 530v3h1v-3zM492 504v2h1v-2zM494 497v2h1v-2zM499 503v3h1v-3zM500 507v1h1v-1zM512 519v2h1v-2zM514 497v2h1v-2zM515 499v1h1v-1zM518 503v2h1v-2zM519 502v2h1v-2zM555 502v2h1v-2zM556 504v1h1v-1zM585 499v1h1v-1zM609 501v1h1v-1zM611 526v3h1v-3zM615 498v1h1v-1z"/>
<path fill="#ff3000" d="M136 510v1h1v-1zM267 515v2h1v-2zM274 516v1h1v-1zM278 512v1h1v-1zM388 525v2h1v-2zM388 533v1h1v-1zM411 535v2h1v-2zM420 512v3h1v-3zM425 513v2h1v-2zM426 511v2h1v-2zM427 499v3h1v-3zM455 510v1h1v-1zM461 506v1h1v-1zM502 506v3h1v-3zM503 502v2h1v-2zM504 501v1h1v-1zM505 503v1h1v-1zM518 506v1h1v-1zM535 502v1h1v-1zM555 504v1h1v-1zM585 495v1h1v-1zM611 501v2h1v-2z"/>
<path fill="#ff2000" d="M134 504v3h1v-3zM411 533v2h1v-2zM424 498v3h1v-3zM424 503v2h1v-2zM425 504v2h1v-2zM426 496v2h1v-2zM426 510v1h1v-1zM426 536v1h1v-1zM452 521v3h1v-3zM473 499v1h1v-1zM485 511v1h1v-1zM495 502v1h1v-1zM500 508v3h1v-3zM501 503v1h1v-1zM512 500v3h1v-3zM514 495v2h1v-2zM533 506v2h1v-2zM562 502v3h1v-3zM585 491v1h1v-1zM602 526v1h1v-1zM617 500v3h1v-3z"/>
<path fill="#ff1000" d="M388 531v2h1v-2zM412 532v2h1v-2zM418 504v1h1v-1zM453 513v1h1v-1zM485 505v3h1v-3zM493 497v3h1v-3zM499 495v1h1v-1zM499 507v3h1v-3zM500 503v1h1v-1zM503 505v2h1v-2zM507 505v2h1v-2zM509 495v3h1v-3zM509 500v2h1v-2zM512 531v1h1v-1zM532 503v1h1v-1zM535 505v3h1v-3zM544 528v2h1v-2zM565 505v1h1v-1zM583 492v6h1v-6zM585 496v1h1v-1zM602 527v3h1v-3zM610 497v1h1v-1zM612 501v3h1v-3zM618 500v2h1v-2z"/>
<path fill="#ff0000" d="M136 507v3h1v-3zM273 516v2h1v-2zM377 529v2h1v-2zM388 527v4h1v-4zM422 501v3h1v-3zM422 512v1h1v-1zM424 502v1h1v-1zM454 503v2h1v-2zM461 515v1h1v-1zM500 499v1h1v-1zM503 508v3h1v-3zM511 503v1h1v-1zM512 503v2h1v-2zM545 528v3h1v-3zM556 525v3h1v-3zM583 519v2h1v-2zM611 499v2h1v-2zM629 529v2h1v-2z"/>
<path fill="#ef0010" d="M277 520v1h1v-1zM424 507v2h1v-2zM425 528v1h1v-1zM454 500v3h1v-3zM456 514v2h1v-2zM494 500v2h1v-2zM496 499v1h1v-1zM500 504v3h1v-3zM516 499v3h1v-3zM527 504v3h1v-3zM583 498v2h1v-2zM585 492v3h1v-3zM586 497v2h1v-2zM613 502v1h1v-1z"/>
<path fill="#df0020" d="M457 508v1h1v-1zM476 506v3h1v-3zM499 510v3h1v-3zM501 505v2h1v-2zM514 504v1h1v-1zM519 504v1h1v-1zM532 504v2h1v-2zM533 503v3h1v-3zM544 526v1h1v-1zM555 505v2h1v-2zM587 491v2h1v-2z"/>
<path fill="#cf0030" d="M134 507v1h1v-1zM273 512v3h1v-3zM277 516v3h1v-3zM404 525v1h1v-1zM420 502v3h1v-3zM427 533v2h1v-2zM456 504v1h1v-1zM485 508v3h1v-3zM490 504v2h1v-2zM502 498v3h1v-3zM515 518v1h1v-1zM515 521v2h1v-2zM562 505v2h1v-2zM581 497v1h1v-1zM585 497v2h1v-2zM613 494v3h1v-3zM615 499v3h1v-3zM618 502v1h1v-1zM619 501v1h1v-1z"/>
<path fill="#c00040" d="M135 511v2h1v-2zM280 520v1h1v-1zM457 500v1h1v-1zM472 501v1h1v-1zM491 491v3h1v-3zM492 496v3h1v-3zM500 501v2h1v-2zM501 495v1h1v-1zM501 500v3h1v-3zM502 501v2h1v-2zM514 519v3h1v-3zM630 529v4h1v-4z"/>
<path fill="#b00050" d="M265 511v1h1v-1zM456 500v1h1v-1zM490 507v1h1v-1zM513 519v1h1v-1zM514 522v2h1v-2zM532 506v1h1v-1z"/>
<path fill="#a00060" d="M272 517v3h1v-3zM273 518v2h1v-2zM274 518v2h1v-2zM439 510v3h1v-3zM473 504v3h1v-3zM474 497v3h1v-3zM477 499v1h1v-1zM490 498v6h1v-6zM490 509v1h1v-1zM499 500v3h1v-3zM502 495v3h1v-3zM515 519v2h1v-2zM561 504v3h1v-3zM614 495v3h1v-3zM629 528v1h1v-1z"/>
<path fill="#900070" d="M269 520v1h1v-1zM274 515v1h1v-1zM441 511v2h1v-2zM446 520v3h1v-3zM476 501v2h1v-2zM479 502v3h1v-3zM479 524v2h1v-2zM480 497v2h1v-2zM490 494v3h1v-3zM490 508v1h1v-1zM491 506v2h1v-2zM513 522v3h1v-3zM514 516v3h1v-3zM560 505v2h1v-2zM565 502v3h1v-3z"/>
<path fill="#800080" d="M263 516v2h1v-2zM263 519v1h1v-1zM264 514v3h1v-3zM264 520v1h1v-1zM265 514v3h1v-3zM268 514v3h1v-3zM269 510v2h1v-2zM270 512v2h1v-2zM270 516v1h1v-1zM272 513v2h1v-2zM274 512v3h1v-3zM277 510v3h1v-3zM439 513v1h1v-1zM440 509v6h1v-6zM441 510v1h1v-1zM441 513v2h1v-2zM442 509v5h1v-5zM450 529v2h1v-2zM472 505v5h1v-5zM473 507v3h1v-3zM474 504v8h1v-8zM475 503v10h1v-10zM476 497v4h1v-4zM476 503v3h1v-3zM476 509v2h1v-2zM477 500v10h1v-10zM478 498v5h1v-5zM478 504v9h1v-9zM479 499v3h1v-3zM479 505v7h1v-7zM480 499v14h1v-14zM482 507v4h1v-4zM490 497v1h1v-1zM490 506v1h1v-1zM491 494v12h1v-12zM491 508v3h1v-3zM492 490v6h1v-6zM500 495v2h1v-2zM501 496v1h1v-1zM501 504v1h1v-1zM501 507v3h1v-3zM502 503v1h1v-1zM504 502v2h1v-2zM508 502v3h1v-3zM513 517v2h1v-2zM513 520v2h1v-2zM514 524v1h1v-1zM515 523v3h1v-3zM516 503v2h1v-2zM560 502v3h1v-3zM561 503v1h1v-1zM586 494v3h1v-3zM586 499v1h1v-1zM587 494v3h1v-3zM602 517v2h1v-2zM607 503v5h1v-5zM608 501v5h1v-5z"/>
</g>
<rect class="ax" x="50.5" y="309.5" width="650.0" height="230"/>
<path class="ax" d="M50.5 520.5h5.5M700.5 520.5h-5.5M50.5 501.5h5.5M700.5 501.5h-5.5M50.5 482.5h5.5M700.5 482.5h-5.5M50.5 463.5h5.5M700.5 463.5h-5.5M50.5 444.5h5.5M700.5 444.5h-5.5M50.5 424.5h5.5M700.5 424.5h-5.5M50.5 405.5h5.5M700.5 405.5h-5.5M50.5 386.5h5.5M700.5 386.5h-5.5M50.5 367.5h5.5M700.5 367.5h-5.5M50.5 348.5h5.5M700.5 348.5h-5.5M50.5 329.5h5.5M700.5 329.5h-5.5M158.5 539.5v-5.5M158.5 309.5v5.5M266.5 539.5v-5.5M266.5 309.5v5.5M375.5 539.5v-5.5M375.5 309.5v5.5M483.5 539.5v-5.5M483.5 309.5v5.5M591.5 539.5v-5.5M591.5 309.5v5.5"/>
<text class="r" x="47" y="544">0</text>
<text class="r" x="47" y="525">1</text>
<text class="r" x="47" y="506">2</text>
<text class="r" x="47" y="487">3</text>
<text class="r" x="47" y="468">4</text>
<text class="r" x="47" y="449">5</text>
<text class="r" x="47" y="429">6</text>
<text class="r" x="47" y="410">7</text>
<text class="r" x="47" y="391">8</text>
<text class="r" x="47" y="372">9</text>
<text class="r n" x="47.4" y="353">10</text>
<text class="r n" x="47.4" y="334">11</text>
<text class="r n" x="47.4" y="314">12</text>
<text class="c n" x="50" y="554">00:00</text>
<text class="c n" x="158" y="554">04:00</text>
<text class="c n" x="266" y="554">08:00</text>
<text class="c n" x="375" y="554">12:00</text>
<text class="c n" x="483" y="554">16:00</text>
<text class="c n" x="591" y="554">20:00</text>
<text class="c n" x="700" y="554">00:00</text>
<text class="c" x="375" y="572">Time (UTC)</text>
<text class="c" transform="translate(27 426) rotate(-90)">Height (km)</text>
<text class="b" x="57.5" y="326" style="letter-spacing:0.19px">Doppler velocity</text>
<g class="cb">
<rect x="754.5" y="502" width="16" height="2.6" fill="#d6d6e6"/>
<rect x="754.5" y="499.5" width="16" height="2.6" fill="#c8c8e8"/>
<rect x="754.5" y="497" width="16" height="2.6" fill="#b9b9e9"/>
<rect x="754.5" y="494.5" width="16" height="2.6" fill="#ababeb"/>
<rect x="754.5" y="492" width="16" height="2.6" fill="#9d9ded"/>
<rect x="754.5" y="489.5" width="16" height="2.6" fill="#8f8fee"/>
<rect x="754.5" y="487" width="16" height="2.6" fill="#8080f0"/>
<rect x="754.5" y="484.5" width="16" height="2.6" fill="#7272f2"/>
<rect x="754.5" y="482" width="16" height="2.6" fill="#6464f3"/>
<rect x="754.5" y="479.5" width="16" height="2.6" fill="#5656f5"/>
<rect x="754.5" y="477" width="16" height="2.6" fill="#4747f7"/>
<rect x="754.5" y="474.5" width="16" height="2.6" fill="#3939f8"/>
<rect x="754.5" y="472" width="16" height="2.6" fill="#2b2bfa"/>
<rect x="754.5" y="469.5" width="16" height="2.6" fill="#1d1dfc"/>
<rect x="754.5" y="467" width="16" height="2.6" fill="#0e0efd"/>
<rect x="754.5" y="464.5" width="16" height="2.6" fill="#0000ff"/>
<rect x="754.5" y="462" width="16" height="2.6" fill="#0010ef"/>
<rect x="754.5" y="459.5" width="16" height="2.6" fill="#0020df"/>
<rect x="754.5" y="457" width="16" height="2.6" fill="#0030cf"/>
<rect x="754.5" y="454.5" width="16" height="2.6" fill="#0040bf"/>
<rect x="754.5" y="452" width="16" height="2.6" fill="#0050af"/>
<rect x="754.5" y="449.5" width="16" height="2.6" fill="#00609f"/>
<rect x="754.5" y="447" width="16" height="2.6" fill="#00708f"/>
<rect x="754.5" y="444.5" width="16" height="2.6" fill="#008080"/>
<rect x="754.5" y="442" width="16" height="2.6" fill="#008f70"/>
<rect x="754.5" y="439.5" width="16" height="2.6" fill="#009f60"/>
<rect x="754.5" y="437" width="16" height="2.6" fill="#00af50"/>
<rect x="754.5" y="434.5" width="16" height="2.6" fill="#00bf40"/>
<rect x="754.5" y="432" width="16" height="2.6" fill="#00cf30"/>
<rect x="754.5" y="429.5" width="16" height="2.6" fill="#00df20"/>
<rect x="754.5" y="427" width="16" height="2.6" fill="#00ef10"/>
<rect x="754.5" y="424.5" width="16" height="2.6" fill="#00ff00"/>
<rect x="754.5" y="422" width="16" height="2.6" fill="#20ff00"/>
<rect x="754.5" y="419.5" width="16" height="2.6" fill="#40ff00"/>
<rect x="754.5" y="417" width="16" height="2.6" fill="#60ff00"/>
<rect x="754.5" y="414.5" width="16" height="2.6" fill="#80ff00"/>
<rect x="754.5" y="412" width="16" height="2.6" fill="#9fff00"/>
<rect x="754.5" y="409.5" width="16" height="2.6" fill="#bfff00"/>
<rect x="754.5" y="407" width="16" height="2.6" fill="#dfff00"/>
<rect x="754.5" y="404.5" width="16" height="2.6" fill="#ffff00"/>
<rect x="754.5" y="402" width="16" height="2.6" fill="#ffef00"/>
<rect x="754.5" y="399.5" width="16" height="2.6" fill="#ffdf00"/>
<rect x="754.5" y="397" width="16" height="2.6" fill="#ffcf00"/>
<rect x="754.5" y="394.5" width="16" height="2.6" fill="#ffbf00"/>
<rect x="754.5" y="392" width="16" height="2.6" fill="#ffaf00"/>
<rect x="754.5" y="389.5" width="16" height="2.6" fill="#ff9f00"/>
<rect x="754.5" y="387" width="16" height="2.6" fill="#ff8f00"/>
<rect x="754.5" y="384.5" width="16" height="2.6" fill="#ff8000"/>
<rect x="754.5" y="382" width="16" height="2.6" fill="#ff7000"/>
<rect x="754.5" y="379.5" width="16" height="2.6" fill="#ff6000"/>
<rect x="754.5" y="377" width="16" height="2.6" fill="#ff5000"/>
<rect x="754.5" y="374.5" width="16" height="2.6" fill="#ff4000"/>
<rect x="754.5" y="372" width="16" height="2.6" fill="#ff3000"/>
<rect x="754.5" y="369.5" width="16" height="2.6" fill="#ff2000"/>
<rect x="754.5" y="367" width="16" height="2.6" fill="#ff1000"/>
<rect x="754.5" y="364.5" width="16" height="2.6" fill="#ff0000"/>
<rect x="754.5" y="362" width="16" height="2.6" fill="#ef0010"/>
<rect x="754.5" y="359.5" width="16" height="2.6" fill="#df0020"/>
<rect x="754.5" y="357" width="16" height="2.6" fill="#cf0030"/>
<rect x="754.5" y="354.5" width="16" height="2.6" fill="#c00040"/>
<rect x="754.5" y="352" width="16" height="2.6" fill="#b00050"/>
<rect x="754.5" y="349.5" width="16" height="2.6" fill="#a00060"/>
<rect x="754.5" y="347" width="16" height="2.6" fill="#900070"/>
<rect x="754.5" y="344.5" width="16" height="2.6" fill="#800080"/>
</g>
<rect class="ax" x="754.5" y="344.5" width="16" height="160"/>
<text class="r n" x="750.9" y="349">2</text>
<text class="r n" x="750.9" y="376">1</text>
<text class="r n" x="750.9" y="402">0</text>
<text class="r n" x="750.9" y="429">-1</text>
<text class="r n" x="750.9" y="456">-2</text>
<text class="r n" x="750.9" y="482">-3</text>
<text class="r n" x="750.9" y="509">-4</text>
<text transform="translate(733 439) rotate(-90)">m s</text><text class="sup" transform="translate(728 420) rotate(-90)">-1</text>
</g>
<g id="panel3">
<g class="d">
<path fill="#dedede" d="M588 802v1h1v-1z"/>
<path fill="#9d9ded" d="M257 798v1h1v-1z"/>
<path fill="#8f8fee" d="M556 802v2h1v-2z"/>
<path fill="#8080f0" d="M556 797v3h1v-3zM630 799v1h1v-1z"/>
<path fill="#7272f2" d="M56 779v3h1v-3zM188 793v2h1v-2z"/>
<path fill="#6464f3" d="M52 773v2h1v-2zM137 776v1h1v-1zM182 783v1h1v-1zM469 802v2h1v-2z"/>
<path fill="#5656f5" d="M61 783v1h1v-1zM63 778v3h1v-3zM120 780v1h1v-1zM187 790v1h1v-1zM356 781v2h1v-2zM556 795v2h1v-2z"/>
<path fill="#4747f7" d="M52 779v1h1v-1zM135 778v2h1v-2zM152 781v1h1v-1zM180 782v2h1v-2zM257 800v2h1v-2zM347 784v1h1v-1zM356 785v2h1v-2zM545 802v1h1v-1zM556 800v2h1v-2z"/>
<path fill="#3939f8" d="M95 779v1h1v-1zM113 776v2h1v-2zM115 776v1h1v-1zM156 780v3h1v-3zM177 780v2h1v-2zM177 783v2h1v-2zM179 779v1h1v-1zM180 779v1h1v-1zM366 801v1h1v-1zM411 777v2h1v-2zM545 798v4h1v-4zM557 788v2h1v-2z"/>
<path fill="#2b2bfa" d="M134 776v3h1v-3zM176 777v1h1v-1zM186 798v1h1v-1zM187 793v3h1v-3zM187 797v3h1v-3zM188 802v3h1v-3zM192 799v2h1v-2zM348 787v1h1v-1zM357 782v2h1v-2zM360 792v1h1v-1zM364 780v2h1v-2zM375 806v2h1v-2zM402 797v2h1v-2zM410 770v3h1v-3zM410 782v1h1v-1zM455 802v2h1v-2zM611 796v1h1v-1z"/>
<path fill="#1d1dfc" d="M55 778v1h1v-1zM59 774v3h1v-3zM62 775v1h1v-1zM101 778v2h1v-2zM111 775v2h1v-2zM134 774v1h1v-1zM136 774v2h1v-2zM137 777v1h1v-1zM141 780v1h1v-1zM162 780v3h1v-3zM186 789v2h1v-2zM186 796v2h1v-2zM186 802v1h1v-1zM188 798v1h1v-1zM313 798v3h1v-3zM324 799v3h1v-3zM343 794v3h1v-3zM355 790v3h1v-3zM357 802v1h1v-1zM364 782v1h1v-1zM372 801v1h1v-1zM404 775v1h1v-1zM405 803v2h1v-2zM410 788v2h1v-2zM412 770v1h1v-1zM447 797v2h1v-2zM455 793v1h1v-1zM464 804v1h1v-1zM467 803v3h1v-3zM468 785v1h1v-1zM468 791v2h1v-2zM493 792v2h1v-2zM502 784v2h1v-2z"/>
<path fill="#0e0efd" d="M54 773v3h1v-3zM134 779v1h1v-1zM138 773v1h1v-1zM139 782v1h1v-1zM148 773v2h1v-2zM311 784v3h1v-3zM313 792v2h1v-2zM344 786v3h1v-3zM348 783v2h1v-2zM350 780v1h1v-1zM354 806v2h1v-2zM359 793v1h1v-1zM376 807v1h1v-1zM402 802v2h1v-2zM404 782v1h1v-1zM405 782v2h1v-2zM406 807v1h1v-1zM410 773v3h1v-3zM410 795v1h1v-1zM414 771v2h1v-2zM415 772v3h1v-3zM459 788v1h1v-1zM460 804v3h1v-3zM461 779v3h1v-3zM474 786v2h1v-2zM493 790v2h1v-2zM501 783v3h1v-3zM505 773v3h1v-3zM505 785v3h1v-3zM516 797v2h1v-2zM544 796v4h1v-4zM601 769v1h1v-1zM611 798v1h1v-1zM629 800v1h1v-1z"/>
<path fill="#0000ff" d="M57 774v1h1v-1zM60 781v1h1v-1zM95 780v1h1v-1zM101 777v1h1v-1zM124 777v1h1v-1zM137 780v1h1v-1zM177 789v2h1v-2zM182 793v3h1v-3zM188 795v1h1v-1zM305 788v2h1v-2zM305 792v3h1v-3zM306 794v1h1v-1zM312 790v1h1v-1zM324 802v2h1v-2zM344 794v1h1v-1zM345 781v1h1v-1zM356 799v3h1v-3zM359 798v1h1v-1zM364 783v3h1v-3zM365 792v2h1v-2zM365 799v1h1v-1zM373 787v1h1v-1zM376 784v1h1v-1zM377 796v1h1v-1zM404 791v2h1v-2zM405 806v2h1v-2zM451 804v1h1v-1zM452 768v3h1v-3zM453 781v2h1v-2zM453 799v3h1v-3zM454 797v2h1v-2zM455 775v2h1v-2zM459 785v3h1v-3zM459 793v3h1v-3zM468 786v1h1v-1zM479 795v1h1v-1zM492 788v3h1v-3zM493 775v3h1v-3zM493 804v3h1v-3zM494 793v2h1v-2zM494 799v2h1v-2zM496 783v3h1v-3zM499 796v3h1v-3zM500 791v3h1v-3zM503 770v2h1v-2zM504 792v1h1v-1zM506 774v2h1v-2zM513 788v2h1v-2zM515 768v3h1v-3zM516 772v1h1v-1zM519 778v1h1v-1zM630 802v1h1v-1z"/>
<path fill="#0010ef" d="M55 779v2h1v-2zM57 781v1h1v-1zM62 778v1h1v-1zM100 776v1h1v-1zM122 775v1h1v-1zM124 775v2h1v-2zM136 776v3h1v-3zM139 781v1h1v-1zM152 778v3h1v-3zM155 670v3h1v-3zM180 778v1h1v-1zM186 787v1h1v-1zM188 791v2h1v-2zM189 793v1h1v-1zM191 795v3h1v-3zM217 654v2h1v-2zM258 788v3h1v-3zM304 785v3h1v-3zM305 801v1h1v-1zM312 791v3h1v-3zM313 801v1h1v-1zM323 799v4h1v-4zM340 769v1h1v-1zM347 777v4h1v-4zM351 806v2h1v-2zM352 803v2h1v-2zM357 786v1h1v-1zM360 793v2h1v-2zM360 799v1h1v-1zM361 793v2h1v-2zM365 789v3h1v-3zM371 783v1h1v-1zM372 802v2h1v-2zM373 782v4h1v-4zM402 804v2h1v-2zM404 785v1h1v-1zM405 774v3h1v-3zM406 781v2h1v-2zM409 806v1h1v-1zM410 785v1h1v-1zM411 779v1h1v-1zM412 787v2h1v-2zM414 766v2h1v-2zM414 773v2h1v-2zM414 800v2h1v-2zM439 785v1h1v-1zM452 792v1h1v-1zM455 794v2h1v-2zM456 770v1h1v-1zM456 782v2h1v-2zM456 805v3h1v-3zM458 777v3h1v-3zM459 771v3h1v-3zM461 799v5h1v-5zM467 796v3h1v-3zM467 802v1h1v-1zM474 789v1h1v-1zM475 776v1h1v-1zM479 794v1h1v-1zM495 787v2h1v-2zM495 805v3h1v-3zM496 803v3h1v-3zM501 789v3h1v-3zM504 777v1h1v-1zM504 785v1h1v-1zM504 793v3h1v-3zM505 767v1h1v-1zM505 789v3h1v-3zM506 770v2h1v-2zM507 770v3h1v-3zM509 779v3h1v-3zM511 766v2h1v-2zM511 790v2h1v-2zM512 772v1h1v-1zM514 775v3h1v-3zM514 785v3h1v-3zM514 796v1h1v-1zM516 794v2h1v-2zM561 775v1h1v-1zM630 800v2h1v-2z"/>
<path fill="#0020df" d="M52 775v1h1v-1zM53 776v1h1v-1zM131 778v4h1v-4zM137 781v1h1v-1zM148 780v2h1v-2zM149 771v3h1v-3zM150 775v1h1v-1zM186 807v1h1v-1zM187 791v2h1v-2zM252 797v1h1v-1zM304 782v3h1v-3zM304 795v1h1v-1zM305 791v1h1v-1zM342 765v4h1v-4zM342 806v1h1v-1zM346 793v2h1v-2zM347 790v2h1v-2zM356 787v3h1v-3zM372 799v2h1v-2zM377 791v2h1v-2zM384 785v1h1v-1zM402 785v3h1v-3zM403 787v2h1v-2zM403 792v2h1v-2zM406 778v1h1v-1zM411 770v2h1v-2zM411 792v2h1v-2zM414 788v2h1v-2zM415 769v3h1v-3zM415 775v2h1v-2zM418 790v3h1v-3zM422 767v1h1v-1zM447 768v3h1v-3zM452 785v3h1v-3zM455 780v1h1v-1zM457 800v3h1v-3zM459 789v1h1v-1zM460 807v1h1v-1zM461 785v4h1v-4zM461 791v2h1v-2zM468 797v1h1v-1zM475 787v2h1v-2zM477 776v3h1v-3zM491 781v1h1v-1zM493 807v1h1v-1zM495 770v1h1v-1zM495 779v3h1v-3zM496 789v3h1v-3zM499 788v2h1v-2zM499 800v3h1v-3zM500 790v1h1v-1zM501 786v3h1v-3zM505 782v2h1v-2zM505 800v2h1v-2zM506 769v1h1v-1zM509 790v3h1v-3zM511 774v2h1v-2zM514 788v3h1v-3zM515 791v1h1v-1zM515 801v1h1v-1zM515 805v2h1v-2zM516 803v2h1v-2zM602 796v2h1v-2z"/>
<path fill="#0030cf" d="M52 780v2h1v-2zM54 776v2h1v-2zM107 776v1h1v-1zM120 777v3h1v-3zM137 773v3h1v-3zM140 781v1h1v-1zM141 781v2h1v-2zM147 776v3h1v-3zM149 774v2h1v-2zM177 779v1h1v-1zM179 784v1h1v-1zM182 784v1h1v-1zM191 798v1h1v-1zM252 799v1h1v-1zM257 783v1h1v-1zM304 792v3h1v-3zM305 790v1h1v-1zM306 790v2h1v-2zM311 790v3h1v-3zM313 790v1h1v-1zM313 797v1h1v-1zM314 795v6h1v-6zM323 803v1h1v-1zM342 789v1h1v-1zM346 789v2h1v-2zM347 781v3h1v-3zM348 785v2h1v-2zM349 784v2h1v-2zM356 783v2h1v-2zM366 802v2h1v-2zM372 786v1h1v-1zM373 806v1h1v-1zM385 797v2h1v-2zM403 777v1h1v-1zM405 784v1h1v-1zM406 774v1h1v-1zM411 772v3h1v-3zM411 780v2h1v-2zM412 789v3h1v-3zM412 807v1h1v-1zM426 766v3h1v-3zM435 803v2h1v-2zM439 787v2h1v-2zM450 770v1h1v-1zM452 777v2h1v-2zM454 790v1h1v-1zM454 799v3h1v-3zM455 778v2h1v-2zM455 800v2h1v-2zM457 774v3h1v-3zM457 792v3h1v-3zM459 784v1h1v-1zM461 795v1h1v-1zM474 790v2h1v-2zM475 795v2h1v-2zM475 800v2h1v-2zM500 796v1h1v-1zM508 769v3h1v-3zM510 769v1h1v-1zM513 765v1h1v-1zM514 778v3h1v-3zM515 797v1h1v-1zM516 779v1h1v-1zM601 771v1h1v-1zM607 777v1h1v-1z"/>
<path fill="#0040bf" d="M51 776v3h1v-3zM53 773v3h1v-3zM61 776v2h1v-2zM111 777v1h1v-1zM123 773v2h1v-2zM124 779v1h1v-1zM140 777v4h1v-4zM147 775v1h1v-1zM147 779v2h1v-2zM150 778v2h1v-2zM153 778v3h1v-3zM158 782v2h1v-2zM177 782v1h1v-1zM187 796v1h1v-1zM187 801v2h1v-2zM189 799v1h1v-1zM192 795v2h1v-2zM249 791v1h1v-1zM251 794v1h1v-1zM252 794v3h1v-3zM257 794v1h1v-1zM258 784v2h1v-2zM304 788v4h1v-4zM306 795v2h1v-2zM311 780v1h1v-1zM311 789v1h1v-1zM312 796v2h1v-2zM313 794v2h1v-2zM314 790v3h1v-3zM341 768v1h1v-1zM345 791v2h1v-2zM346 795v3h1v-3zM347 785v2h1v-2zM347 792v3h1v-3zM352 781v1h1v-1zM354 795v1h1v-1zM355 787v3h1v-3zM359 778v1h1v-1zM359 784v3h1v-3zM360 786v1h1v-1zM370 804v2h1v-2zM375 778v2h1v-2zM376 778v3h1v-3zM376 785v3h1v-3zM377 786v2h1v-2zM406 779v1h1v-1zM409 788v1h1v-1zM409 797v3h1v-3zM412 771v1h1v-1zM414 802v3h1v-3zM418 771v2h1v-2zM422 765v2h1v-2zM436 805v3h1v-3zM438 786v2h1v-2zM439 786v1h1v-1zM454 781v1h1v-1zM455 787v2h1v-2zM456 771v1h1v-1zM457 785v2h1v-2zM459 799v3h1v-3zM460 776v2h1v-2zM460 796v2h1v-2zM461 790v1h1v-1zM464 789v3h1v-3zM468 788v3h1v-3zM468 800v3h1v-3zM475 802v3h1v-3zM478 772v1h1v-1zM494 785v1h1v-1zM499 780v1h1v-1zM502 788v1h1v-1zM504 768v3h1v-3zM508 805v2h1v-2zM511 786v2h1v-2zM514 801v3h1v-3zM515 788v2h1v-2zM516 780v2h1v-2zM526 771v1h1v-1zM583 762v2h1v-2zM602 800v2h1v-2zM611 771v2h1v-2zM611 799v2h1v-2zM613 768v3h1v-3zM629 798v2h1v-2z"/>
<path fill="#0050af" d="M61 775v1h1v-1zM62 779v2h1v-2zM66 777v1h1v-1zM95 777v2h1v-2zM100 777v2h1v-2zM123 780v1h1v-1zM139 778v2h1v-2zM141 774v3h1v-3zM149 778v4h1v-4zM179 792v1h1v-1zM180 790v1h1v-1zM186 792v2h1v-2zM188 805v2h1v-2zM189 794v5h1v-5zM250 794v1h1v-1zM256 784v1h1v-1zM277 778v3h1v-3zM306 792v2h1v-2zM311 788v1h1v-1zM346 781v3h1v-3zM346 798v1h1v-1zM350 802v1h1v-1zM352 782v1h1v-1zM357 777v2h1v-2zM360 780v1h1v-1zM365 788v1h1v-1zM379 786v2h1v-2zM381 785v3h1v-3zM383 786v3h1v-3zM404 776v2h1v-2zM404 798v3h1v-3zM411 784v3h1v-3zM415 779v4h1v-4zM415 786v2h1v-2zM423 767v1h1v-1zM430 775v3h1v-3zM442 795v3h1v-3zM446 797v1h1v-1zM449 788v1h1v-1zM457 773v1h1v-1zM469 792v3h1v-3zM492 802v2h1v-2zM500 800v3h1v-3zM502 790v2h1v-2zM503 804v2h1v-2zM507 796v3h1v-3zM508 784v2h1v-2zM585 767v1h1v-1zM601 772v2h1v-2zM602 798v2h1v-2zM602 802v1h1v-1zM613 767v1h1v-1zM617 769v3h1v-3z"/>
<path fill="#00609f" d="M53 779v2h1v-2zM54 778v3h1v-3zM55 774v2h1v-2zM59 780v1h1v-1zM101 780v1h1v-1zM107 779v1h1v-1zM108 777v2h1v-2zM114 776v1h1v-1zM115 774v2h1v-2zM115 777v1h1v-1zM120 775v2h1v-2zM134 775v1h1v-1zM134 780v1h1v-1zM141 777v2h1v-2zM147 781v1h1v-1zM149 776v2h1v-2zM156 778v2h1v-2zM176 782v1h1v-1zM179 780v1h1v-1zM180 791v1h1v-1zM186 799v3h1v-3zM188 796v2h1v-2zM188 799v3h1v-3zM251 803v1h1v-1zM252 798v1h1v-1zM256 787v1h1v-1zM256 790v1h1v-1zM305 786v2h1v-2zM311 781v3h1v-3zM311 787v1h1v-1zM313 791v1h1v-1zM314 793v2h1v-2zM348 778v2h1v-2zM355 800v1h1v-1zM359 779v3h1v-3zM359 795v2h1v-2zM364 778v1h1v-1zM374 780v1h1v-1zM380 789v3h1v-3zM381 792v2h1v-2zM401 792v2h1v-2zM402 788v3h1v-3zM405 773v1h1v-1zM406 780v1h1v-1zM410 776v3h1v-3zM411 775v1h1v-1zM411 790v2h1v-2zM412 772v3h1v-3zM415 766v3h1v-3zM418 779v3h1v-3zM419 769v3h1v-3zM424 771v3h1v-3zM428 769v5h1v-5zM436 791v1h1v-1zM438 788v1h1v-1zM440 786v3h1v-3zM441 790v3h1v-3zM442 792v3h1v-3zM442 799v3h1v-3zM452 771v3h1v-3zM467 799v3h1v-3zM474 788v1h1v-1zM475 797v3h1v-3zM479 774v3h1v-3zM499 770v1h1v-1zM499 786v2h1v-2zM500 797v1h1v-1zM502 768v3h1v-3zM504 781v3h1v-3zM535 773v5h1v-5zM556 773v2h1v-2zM601 774v3h1v-3zM602 772v3h1v-3zM609 769v3h1v-3zM611 765v1h1v-1zM611 769v2h1v-2z"/>
<path fill="#00708f" d="M53 777v1h1v-1zM63 775v3h1v-3zM114 774v2h1v-2zM123 775v5h1v-5zM139 780v1h1v-1zM144 774v2h1v-2zM148 775v3h1v-3zM151 777v3h1v-3zM161 779v2h1v-2zM180 784v3h1v-3zM181 792v2h1v-2zM182 790v3h1v-3zM186 788v1h1v-1zM191 792v2h1v-2zM192 797v2h1v-2zM257 795v3h1v-3zM305 795v1h1v-1zM312 794v2h1v-2zM313 796v1h1v-1zM339 791v3h1v-3zM342 799v1h1v-1zM344 782v1h1v-1zM349 781v3h1v-3zM352 783v2h1v-2zM357 785v1h1v-1zM360 791v1h1v-1zM372 783v3h1v-3zM376 781v3h1v-3zM376 788v1h1v-1zM380 787v2h1v-2zM381 791v1h1v-1zM401 786v1h1v-1zM404 774v1h1v-1zM410 779v2h1v-2zM415 794v3h1v-3zM418 796v2h1v-2zM424 766v2h1v-2zM424 778v2h1v-2zM435 791v1h1v-1zM435 800v3h1v-3zM436 787v1h1v-1zM436 792v1h1v-1zM446 770v3h1v-3zM449 768v2h1v-2zM449 786v2h1v-2zM455 804v2h1v-2zM461 804v2h1v-2zM464 794v3h1v-3zM467 787v1h1v-1zM469 795v2h1v-2zM482 777v3h1v-3zM515 798v3h1v-3zM519 772v2h1v-2zM582 764v1h1v-1zM585 766v1h1v-1zM601 770v1h1v-1zM608 773v3h1v-3zM612 767v3h1v-3zM613 771v2h1v-2zM618 772v1h1v-1z"/>
<path fill="#008080" d="M52 776v3h1v-3zM62 776v2h1v-2zM100 779v1h1v-1zM107 774v2h1v-2zM121 780v1h1v-1zM122 774v1h1v-1zM126 781v1h1v-1zM138 777v2h1v-2zM147 772v3h1v-3zM177 785v1h1v-1zM178 782v2h1v-2zM179 781v3h1v-3zM181 796v3h1v-3zM183 784v2h1v-2zM185 785v3h1v-3zM186 803v4h1v-4zM187 806v1h1v-1zM189 803v2h1v-2zM251 799v1h1v-1zM252 801v2h1v-2zM257 786v1h1v-1zM264 782v3h1v-3zM305 796v5h1v-5zM306 797v3h1v-3zM340 790v4h1v-4zM341 786v1h1v-1zM342 791v1h1v-1zM346 791v2h1v-2zM350 784v2h1v-2zM352 794v3h1v-3zM355 777v4h1v-4zM355 795v2h1v-2zM355 801v2h1v-2zM356 792v1h1v-1zM361 783v3h1v-3zM387 794v3h1v-3zM400 791v3h1v-3zM404 801v1h1v-1zM406 783v1h1v-1zM412 775v1h1v-1zM415 801v1h1v-1zM418 782v1h1v-1zM418 788v2h1v-2zM418 803v1h1v-1zM419 767v1h1v-1zM419 772v2h1v-2zM421 769v3h1v-3zM421 779v1h1v-1zM422 769v5h1v-5zM423 778v3h1v-3zM436 799v2h1v-2zM447 771v1h1v-1zM454 770v1h1v-1zM455 781v2h1v-2zM457 770v3h1v-3zM460 774v1h1v-1zM467 790v3h1v-3zM468 798v2h1v-2zM474 797v1h1v-1zM475 789v3h1v-3zM496 802v1h1v-1zM514 769v3h1v-3zM519 774v3h1v-3zM533 770v2h1v-2zM533 773v3h1v-3zM556 771v1h1v-1zM560 775v2h1v-2zM565 772v4h1v-4zM583 764v3h1v-3zM611 797v1h1v-1zM615 768v1h1v-1z"/>
<path fill="#008f70" d="M60 775v3h1v-3zM124 778v1h1v-1zM138 779v1h1v-1zM158 780v2h1v-2zM177 792v1h1v-1zM178 778v1h1v-1zM180 787v3h1v-3zM181 805v1h1v-1zM185 783v2h1v-2zM188 789v2h1v-2zM250 795v1h1v-1zM251 797v2h1v-2zM251 801v2h1v-2zM258 800v1h1v-1zM347 789v1h1v-1zM348 789v3h1v-3zM351 783v2h1v-2zM357 784v1h1v-1zM359 782v2h1v-2zM361 789v1h1v-1zM377 781v5h1v-5zM379 795v3h1v-3zM380 782v3h1v-3zM381 789v2h1v-2zM405 780v2h1v-2zM405 795v3h1v-3zM406 775v1h1v-1zM406 796v1h1v-1zM409 776v3h1v-3zM412 776v1h1v-1zM415 777v1h1v-1zM419 774v1h1v-1zM423 770v1h1v-1zM425 767v4h1v-4zM426 782v3h1v-3zM427 765v3h1v-3zM438 785v1h1v-1zM447 799v2h1v-2zM448 772v1h1v-1zM448 795v3h1v-3zM452 782v1h1v-1zM455 796v1h1v-1zM458 780v3h1v-3zM458 805v1h1v-1zM464 797v4h1v-4zM475 774v2h1v-2zM490 782v1h1v-1zM499 765v3h1v-3zM502 805v2h1v-2zM503 776v2h1v-2zM518 774v2h1v-2zM586 765v1h1v-1zM587 763v1h1v-1zM615 769v1h1v-1zM616 770v2h1v-2z"/>
<path fill="#009f60" d="M51 774v2h1v-2zM51 779v2h1v-2zM53 778v1h1v-1zM55 776v2h1v-2zM66 779v2h1v-2zM114 777v1h1v-1zM135 780v3h1v-3zM140 775v2h1v-2zM141 779v1h1v-1zM150 776v2h1v-2zM161 778v1h1v-1zM252 804v1h1v-1zM257 782v1h1v-1zM260 788v1h1v-1zM314 801v1h1v-1zM342 788v1h1v-1zM342 792v1h1v-1zM343 786v2h1v-2zM343 793v1h1v-1zM345 780v1h1v-1zM346 785v3h1v-3zM348 780v3h1v-3zM348 802v1h1v-1zM349 786v1h1v-1zM350 781v3h1v-3zM350 797v2h1v-2zM354 792v3h1v-3zM356 779v2h1v-2zM356 790v2h1v-2zM356 804v3h1v-3zM357 792v1h1v-1zM360 795v1h1v-1zM364 787v3h1v-3zM364 793v1h1v-1zM374 786v1h1v-1zM375 781v3h1v-3zM382 786v2h1v-2zM384 786v3h1v-3zM409 773v3h1v-3zM411 782v2h1v-2zM414 790v2h1v-2zM414 796v1h1v-1zM415 783v3h1v-3zM419 768v1h1v-1zM422 768v1h1v-1zM423 771v3h1v-3zM424 774v1h1v-1zM428 774v1h1v-1zM429 772v1h1v-1zM429 780v3h1v-3zM436 793v3h1v-3zM448 768v3h1v-3zM455 797v2h1v-2zM456 777v3h1v-3zM456 789v1h1v-1zM457 777v2h1v-2zM458 798v3h1v-3zM460 784v3h1v-3zM469 804v3h1v-3zM474 794v3h1v-3zM496 799v3h1v-3zM496 806v2h1v-2zM500 783v2h1v-2zM500 789v1h1v-1zM501 800v3h1v-3zM501 806v2h1v-2zM514 781v1h1v-1zM532 771v1h1v-1zM544 770v2h1v-2zM581 764v1h1v-1zM585 764v2h1v-2zM586 762v3h1v-3zM602 771v1h1v-1zM602 775v3h1v-3zM608 771v2h1v-2zM614 772v1h1v-1z"/>
<path fill="#00af50" d="M57 777v3h1v-3zM58 775v6h1v-6zM60 782v2h1v-2zM61 778v2h1v-2zM95 781v1h1v-1zM122 776v4h1v-4zM139 775v3h1v-3zM148 778v2h1v-2zM177 791v1h1v-1zM177 793v1h1v-1zM178 779v3h1v-3zM179 785v1h1v-1zM179 790v2h1v-2zM181 790v2h1v-2zM183 797v1h1v-1zM186 795v1h1v-1zM192 801v3h1v-3zM251 804v1h1v-1zM252 803v1h1v-1zM256 788v2h1v-2zM258 786v2h1v-2zM343 788v3h1v-3zM344 783v3h1v-3zM346 799v3h1v-3zM347 798v2h1v-2zM348 798v3h1v-3zM349 803v2h1v-2zM350 786v2h1v-2zM355 786v1h1v-1zM357 787v2h1v-2zM359 777v1h1v-1zM359 787v3h1v-3zM364 779v1h1v-1zM365 785v3h1v-3zM371 784v3h1v-3zM374 790v5h1v-5zM375 780v1h1v-1zM378 787v1h1v-1zM401 781v1h1v-1zM401 789v3h1v-3zM401 798v3h1v-3zM402 782v1h1v-1zM403 786v1h1v-1zM404 781v1h1v-1zM405 798v3h1v-3zM415 778v1h1v-1zM415 797v2h1v-2zM418 795v1h1v-1zM418 798v1h1v-1zM420 780v3h1v-3zM421 768v1h1v-1zM422 774v1h1v-1zM423 768v2h1v-2zM424 775v3h1v-3zM425 776v1h1v-1zM426 769v2h1v-2zM427 768v2h1v-2zM427 782v1h1v-1zM428 775v3h1v-3zM430 772v3h1v-3zM442 789v3h1v-3zM442 802v2h1v-2zM448 771v1h1v-1zM449 772v1h1v-1zM450 771v2h1v-2zM459 780v2h1v-2zM460 781v2h1v-2zM460 793v3h1v-3zM467 788v2h1v-2zM467 793v3h1v-3zM475 770v3h1v-3zM480 769v2h1v-2zM482 780v1h1v-1zM492 793v1h1v-1zM493 801v1h1v-1zM500 780v3h1v-3zM502 794v5h1v-5zM504 771v3h1v-3zM505 778v1h1v-1zM512 769v3h1v-3zM514 782v3h1v-3zM514 799v1h1v-1zM515 780v2h1v-2zM527 775v2h1v-2zM532 776v1h1v-1zM533 772v1h1v-1z"/>
<path fill="#00bf40" d="M54 772v1h1v-1zM61 780v3h1v-3zM62 781v2h1v-2zM63 781v3h1v-3zM95 776v1h1v-1zM108 776v1h1v-1zM126 778v3h1v-3zM126 782v1h1v-1zM135 776v2h1v-2zM138 780v1h1v-1zM180 792v1h1v-1zM184 795v2h1v-2zM187 800v1h1v-1zM189 800v3h1v-3zM191 794v1h1v-1zM271 787v1h1v-1zM276 787v2h1v-2zM339 771v3h1v-3zM340 781v3h1v-3zM341 795v2h1v-2zM346 788v1h1v-1zM347 807v1h1v-1zM348 801v1h1v-1zM351 788v3h1v-3zM353 799v3h1v-3zM357 779v3h1v-3zM357 793v3h1v-3zM361 799v2h1v-2zM365 784v1h1v-1zM365 796v3h1v-3zM365 800v2h1v-2zM371 787v1h1v-1zM372 787v2h1v-2zM379 788v2h1v-2zM402 780v2h1v-2zM406 776v2h1v-2zM410 786v1h1v-1zM410 792v3h1v-3zM410 799v1h1v-1zM412 779v2h1v-2zM414 768v3h1v-3zM420 769v3h1v-3zM421 765v3h1v-3zM421 772v2h1v-2zM421 777v2h1v-2zM425 771v2h1v-2zM429 778v2h1v-2zM436 796v2h1v-2zM436 802v3h1v-3zM440 789v2h1v-2zM455 771v1h1v-1zM455 785v2h1v-2zM457 787v3h1v-3zM459 774v3h1v-3zM459 790v2h1v-2zM460 778v3h1v-3zM460 783v1h1v-1zM460 798v3h1v-3zM464 792v2h1v-2zM496 794v2h1v-2zM499 768v2h1v-2zM501 803v3h1v-3zM504 775v2h1v-2zM514 791v1h1v-1zM518 776v2h1v-2zM544 774v1h1v-1zM582 768v2h1v-2zM583 761v1h1v-1zM585 761v3h1v-3zM602 787v2h1v-2zM610 767v3h1v-3zM611 766v3h1v-3zM612 771v3h1v-3zM613 764v3h1v-3zM613 781v3h1v-3zM614 769v3h1v-3zM615 770v2h1v-2zM619 770v2h1v-2z"/>
<path fill="#00cf30" d="M51 781v1h1v-1zM59 777v3h1v-3zM60 778v3h1v-3zM83 776v3h1v-3zM124 773v2h1v-2zM126 775v3h1v-3zM153 781v1h1v-1zM177 786v3h1v-3zM186 794v1h1v-1zM191 799v1h1v-1zM257 790v1h1v-1zM263 787v1h1v-1zM341 765v3h1v-3zM342 785v3h1v-3zM344 792v2h1v-2zM345 785v6h1v-6zM345 796v2h1v-2zM345 802v2h1v-2zM346 784v1h1v-1zM350 793v1h1v-1zM351 793v2h1v-2zM356 793v3h1v-3zM356 802v2h1v-2zM357 789v3h1v-3zM359 790v3h1v-3zM364 796v2h1v-2zM373 786v1h1v-1zM374 783v3h1v-3zM375 788v1h1v-1zM376 794v3h1v-3zM376 802v2h1v-2zM379 790v2h1v-2zM384 789v3h1v-3zM401 782v4h1v-4zM403 778v2h1v-2zM403 789v2h1v-2zM403 794v1h1v-1zM404 778v3h1v-3zM405 777v3h1v-3zM409 779v3h1v-3zM412 777v2h1v-2zM415 799v2h1v-2zM418 765v3h1v-3zM418 773v3h1v-3zM418 799v3h1v-3zM418 804v3h1v-3zM420 772v5h1v-5zM421 774v3h1v-3zM422 775v3h1v-3zM427 773v3h1v-3zM431 778v2h1v-2zM450 769v1h1v-1zM450 773v2h1v-2zM451 780v2h1v-2zM456 784v2h1v-2zM456 793v3h1v-3zM457 806v2h1v-2zM458 794v4h1v-4zM459 792v1h1v-1zM459 803v3h1v-3zM464 801v2h1v-2zM494 795v2h1v-2zM494 803v1h1v-1zM496 781v1h1v-1zM501 781v2h1v-2zM503 791v3h1v-3zM503 806v1h1v-1zM504 803v2h1v-2zM506 776v1h1v-1zM510 779v1h1v-1zM512 767v2h1v-2zM513 770v2h1v-2zM515 775v1h1v-1zM527 772v2h1v-2zM561 773v2h1v-2zM582 761v3h1v-3zM586 769v1h1v-1z"/>
<path fill="#00df20" d="M51 772v1h1v-1zM121 773v3h1v-3zM138 774v3h1v-3zM148 772v1h1v-1zM161 782v2h1v-2zM178 786v3h1v-3zM181 794v2h1v-2zM182 785v2h1v-2zM256 785v2h1v-2zM258 783v1h1v-1zM260 783v2h1v-2zM260 789v2h1v-2zM267 781v2h1v-2zM277 784v3h1v-3zM339 783v1h1v-1zM339 790v1h1v-1zM339 800v2h1v-2zM340 779v2h1v-2zM340 784v1h1v-1zM340 788v2h1v-2zM344 795v1h1v-1zM345 804v2h1v-2zM348 795v3h1v-3zM350 789v1h1v-1zM352 788v3h1v-3zM355 781v2h1v-2zM355 807v1h1v-1zM359 794v1h1v-1zM360 783v3h1v-3zM361 786v1h1v-1zM374 781v2h1v-2zM375 789v2h1v-2zM376 791v1h1v-1zM382 791v3h1v-3zM400 794v2h1v-2zM402 783v2h1v-2zM404 795v3h1v-3zM404 804v2h1v-2zM409 796v1h1v-1zM410 787v1h1v-1zM410 807v1h1v-1zM411 776v1h1v-1zM419 778v1h1v-1zM422 779v3h1v-3zM422 786v1h1v-1zM424 768v1h1v-1zM425 766v1h1v-1zM426 771v3h1v-3zM427 776v2h1v-2zM431 777v1h1v-1zM435 795v5h1v-5zM435 805v1h1v-1zM442 804v1h1v-1zM446 795v2h1v-2zM450 789v1h1v-1zM450 791v3h1v-3zM453 779v2h1v-2zM458 790v3h1v-3zM460 791v2h1v-2zM460 801v3h1v-3zM467 784v3h1v-3zM475 779v2h1v-2zM476 769v1h1v-1zM478 780v3h1v-3zM490 783v1h1v-1zM492 781v2h1v-2zM492 794v2h1v-2zM493 785v1h1v-1zM499 790v1h1v-1zM499 803v2h1v-2zM500 794v2h1v-2zM500 804v3h1v-3zM501 798v2h1v-2zM502 767v1h1v-1zM502 783v1h1v-1zM503 772v1h1v-1zM504 774v1h1v-1zM504 784v1h1v-1zM504 798v1h1v-1zM505 795v2h1v-2zM508 775v2h1v-2zM509 770v2h1v-2zM510 773v1h1v-1zM514 774v1h1v-1zM515 778v2h1v-2zM515 792v2h1v-2zM516 787v2h1v-2zM526 768v3h1v-3zM533 776v1h1v-1zM538 771v2h1v-2zM560 772v3h1v-3zM562 772v4h1v-4zM583 767v3h1v-3zM585 768v2h1v-2zM586 767v2h1v-2zM607 775v2h1v-2zM614 766v3h1v-3zM618 770v1h1v-1z"/>
<path fill="#00ef10" d="M111 778v3h1v-3zM121 776v3h1v-3zM161 781v1h1v-1zM176 779v3h1v-3zM180 780v2h1v-2zM182 805v3h1v-3zM184 787v2h1v-2zM267 789v1h1v-1zM338 771v3h1v-3zM341 788v1h1v-1zM341 790v3h1v-3zM342 802v3h1v-3zM342 807v1h1v-1zM343 798v1h1v-1zM345 798v2h1v-2zM349 791v3h1v-3zM352 791v2h1v-2zM352 805v1h1v-1zM355 793v2h1v-2zM356 796v2h1v-2zM359 799v3h1v-3zM360 781v2h1v-2zM364 786v1h1v-1zM364 792v1h1v-1zM364 794v2h1v-2zM365 794v2h1v-2zM374 787v3h1v-3zM378 788v6h1v-6zM380 785v2h1v-2zM380 795v1h1v-1zM380 805v2h1v-2zM385 792v5h1v-5zM400 789v2h1v-2zM402 792v5h1v-5zM403 780v3h1v-3zM403 795v1h1v-1zM404 783v2h1v-2zM411 787v3h1v-3zM414 775v2h1v-2zM414 785v3h1v-3zM414 793v3h1v-3zM418 776v3h1v-3zM420 777v3h1v-3zM422 782v2h1v-2zM424 769v2h1v-2zM425 773v2h1v-2zM425 779v3h1v-3zM426 779v3h1v-3zM427 770v3h1v-3zM427 783v3h1v-3zM433 785v3h1v-3zM446 789v3h1v-3zM449 796v1h1v-1zM450 775v1h1v-1zM451 800v3h1v-3zM454 791v3h1v-3zM455 777v1h1v-1zM455 783v2h1v-2zM456 800v1h1v-1zM457 779v1h1v-1zM458 775v1h1v-1zM458 806v2h1v-2zM459 782v2h1v-2zM468 787v1h1v-1zM472 798v1h1v-1zM472 805v2h1v-2zM475 773v1h1v-1zM475 781v2h1v-2zM478 771v1h1v-1zM479 771v3h1v-3zM479 777v1h1v-1zM485 777v1h1v-1zM490 779v3h1v-3zM492 785v1h1v-1zM492 804v1h1v-1zM494 790v1h1v-1zM494 797v2h1v-2zM495 777v2h1v-2zM496 782v1h1v-1zM499 773v2h1v-2zM499 791v3h1v-3zM499 799v1h1v-1zM500 785v1h1v-1zM500 787v2h1v-2zM500 803v1h1v-1zM502 776v1h1v-1zM503 769v1h1v-1zM503 785v2h1v-2zM504 778v3h1v-3zM505 768v2h1v-2zM505 776v2h1v-2zM505 788v1h1v-1zM510 774v1h1v-1zM512 795v2h1v-2zM515 782v1h1v-1zM537 769v3h1v-3zM538 769v2h1v-2zM584 765v3h1v-3zM587 766v3h1v-3zM609 772v1h1v-1z"/>
<path fill="#00ff00" d="M56 775v2h1v-2zM66 778v1h1v-1zM137 778v2h1v-2zM183 796v1h1v-1zM185 794v1h1v-1zM185 801v1h1v-1zM187 803v3h1v-3zM191 800v2h1v-2zM249 789v2h1v-2zM250 791v3h1v-3zM257 787v3h1v-3zM257 799v1h1v-1zM337 771v5h1v-5zM338 774v3h1v-3zM340 775v2h1v-2zM340 778v1h1v-1zM340 787v1h1v-1zM340 799v2h1v-2zM341 787v1h1v-1zM341 793v2h1v-2zM342 793v2h1v-2zM344 801v1h1v-1zM347 787v2h1v-2zM349 787v2h1v-2zM349 794v4h1v-4zM351 781v1h1v-1zM351 791v2h1v-2zM352 785v3h1v-3zM352 793v1h1v-1zM352 802v1h1v-1zM356 807v1h1v-1zM374 806v2h1v-2zM375 784v2h1v-2zM375 799v3h1v-3zM378 785v2h1v-2zM380 793v2h1v-2zM381 788v1h1v-1zM382 784v2h1v-2zM383 789v2h1v-2zM384 792v2h1v-2zM385 788v2h1v-2zM400 800v3h1v-3zM403 783v3h1v-3zM405 805v1h1v-1zM406 787v3h1v-3zM409 785v3h1v-3zM409 800v3h1v-3zM410 781v1h1v-1zM410 790v2h1v-2zM411 795v2h1v-2zM412 786v1h1v-1zM418 802v1h1v-1zM420 766v3h1v-3zM423 775v2h1v-2zM426 774v5h1v-5zM435 785v6h1v-6zM435 794v1h1v-1zM436 801v1h1v-1zM448 804v2h1v-2zM450 776v2h1v-2zM450 798v2h1v-2zM453 777v2h1v-2zM456 775v2h1v-2zM457 804v2h1v-2zM460 790v1h1v-1zM461 793v2h1v-2zM461 796v3h1v-3zM472 786v1h1v-1zM475 792v3h1v-3zM476 780v1h1v-1zM485 778v3h1v-3zM492 791v1h1v-1zM492 805v3h1v-3zM493 781v3h1v-3zM494 771v3h1v-3zM495 790v1h1v-1zM495 794v5h1v-5zM496 798v1h1v-1zM499 781v2h1v-2zM500 786v1h1v-1zM502 772v3h1v-3zM502 777v5h1v-5zM503 773v3h1v-3zM503 800v2h1v-2zM504 796v1h1v-1zM505 797v3h1v-3zM506 800v2h1v-2zM507 775v2h1v-2zM508 777v1h1v-1zM510 775v3h1v-3zM511 771v2h1v-2zM515 794v3h1v-3zM532 775v1h1v-1zM535 772v1h1v-1zM555 772v3h1v-3zM583 789v1h1v-1zM584 768v2h1v-2z"/>
<path fill="#20ff00" d="M151 775v2h1v-2zM183 789v2h1v-2zM183 801v3h1v-3zM184 792v3h1v-3zM185 791v3h1v-3zM185 802v1h1v-1zM251 800v1h1v-1zM257 792v2h1v-2zM261 780v1h1v-1zM271 789v1h1v-1zM339 769v2h1v-2zM339 786v2h1v-2zM340 773v2h1v-2zM340 777v1h1v-1zM340 785v2h1v-2zM341 789v1h1v-1zM343 799v3h1v-3zM344 789v3h1v-3zM344 804v1h1v-1zM345 793v3h1v-3zM346 779v2h1v-2zM347 796v2h1v-2zM348 788v1h1v-1zM348 806v2h1v-2zM353 794v5h1v-5zM354 796v4h1v-4zM357 803v3h1v-3zM360 788v3h1v-3zM361 787v2h1v-2zM361 798v1h1v-1zM361 801v3h1v-3zM376 792v2h1v-2zM379 783v3h1v-3zM379 793v2h1v-2zM386 800v3h1v-3zM387 797v1h1v-1zM400 806v1h1v-1zM401 794v2h1v-2zM403 801v2h1v-2zM406 804v1h1v-1zM409 782v3h1v-3zM410 800v1h1v-1zM411 797v2h1v-2zM414 792v1h1v-1zM415 791v3h1v-3zM418 768v3h1v-3zM418 783v2h1v-2zM425 777v2h1v-2zM427 781v1h1v-1zM428 788v3h1v-3zM429 784v2h1v-2zM434 781v1h1v-1zM435 806v2h1v-2zM436 798v1h1v-1zM448 774v1h1v-1zM448 792v3h1v-3zM450 801v3h1v-3zM451 769v3h1v-3zM451 793v4h1v-4zM451 805v1h1v-1zM452 791v1h1v-1zM453 769v2h1v-2zM453 785v2h1v-2zM454 787v1h1v-1zM455 772v3h1v-3zM455 799v1h1v-1zM456 803v2h1v-2zM459 802v1h1v-1zM459 807v1h1v-1zM474 784v2h1v-2zM477 771v5h1v-5zM480 774v3h1v-3zM492 800v2h1v-2zM493 796v2h1v-2zM493 802v2h1v-2zM499 771v2h1v-2zM501 792v3h1v-3zM503 778v5h1v-5zM505 779v3h1v-3zM505 802v1h1v-1zM508 767v2h1v-2zM510 778v1h1v-1zM510 786v2h1v-2zM510 806v1h1v-1zM512 766v1h1v-1zM513 778v2h1v-2zM514 766v3h1v-3zM515 772v3h1v-3zM515 785v3h1v-3zM516 769v3h1v-3zM527 774v1h1v-1zM583 790v1h1v-1zM610 770v2h1v-2zM612 764v3h1v-3z"/>
<path fill="#40ff00" d="M178 789v2h1v-2zM181 803v2h1v-2zM182 797v2h1v-2zM183 783v1h1v-1zM183 795v1h1v-1zM184 805v2h1v-2zM249 786v3h1v-3zM252 800v1h1v-1zM261 775v3h1v-3zM266 790v1h1v-1zM338 777v3h1v-3zM339 780v3h1v-3zM339 784v2h1v-2zM339 802v3h1v-3zM340 770v3h1v-3zM340 807v1h1v-1zM342 795v2h1v-2zM342 805v1h1v-1zM343 791v2h1v-2zM344 798v3h1v-3zM346 802v3h1v-3zM349 801v2h1v-2zM350 788v1h1v-1zM350 803v2h1v-2zM352 798v1h1v-1zM353 806v2h1v-2zM355 799v1h1v-1zM357 796v2h1v-2zM357 800v2h1v-2zM359 797v1h1v-1zM360 787v1h1v-1zM378 783v2h1v-2zM379 792v1h1v-1zM380 801v2h1v-2zM382 790v1h1v-1zM384 794v1h1v-1zM400 785v2h1v-2zM402 791v1h1v-1zM405 785v3h1v-3zM405 792v3h1v-3zM406 790v5h1v-5zM410 796v3h1v-3zM411 807v1h1v-1zM415 788v3h1v-3zM418 793v2h1v-2zM419 775v3h1v-3zM422 778v1h1v-1zM424 783v1h1v-1zM430 778v6h1v-6zM435 792v2h1v-2zM436 788v3h1v-3zM447 791v2h1v-2zM449 794v2h1v-2zM454 807v1h1v-1zM456 780v2h1v-2zM456 790v3h1v-3zM457 790v2h1v-2zM458 783v3h1v-3zM458 793v1h1v-1zM459 777v3h1v-3zM459 796v3h1v-3zM460 787v3h1v-3zM461 806v1h1v-1zM464 803v1h1v-1zM468 783v2h1v-2zM468 796v1h1v-1zM469 797v3h1v-3zM469 807v1h1v-1zM473 787v2h1v-2zM474 792v2h1v-2zM478 768v3h1v-3zM480 780v2h1v-2zM492 787v1h1v-1zM492 792v1h1v-1zM493 784v1h1v-1zM494 777v2h1v-2zM495 782v2h1v-2zM495 801v1h1v-1zM496 792v2h1v-2zM501 770v3h1v-3zM502 775v1h1v-1zM504 799v1h1v-1zM508 778v3h1v-3zM509 776v3h1v-3zM510 768v1h1v-1zM510 793v2h1v-2zM512 779v2h1v-2zM514 797v2h1v-2zM515 783v2h1v-2zM516 782v2h1v-2zM532 772v3h1v-3zM538 768v1h1v-1zM543 772v1h1v-1zM581 765v3h1v-3zM587 764v2h1v-2zM612 770v1h1v-1zM618 771v1h1v-1z"/>
<path fill="#60ff00" d="M56 778v1h1v-1zM182 788v2h1v-2zM182 796v1h1v-1zM183 794v1h1v-1zM183 799v2h1v-2zM184 800v1h1v-1zM185 806v2h1v-2zM251 795v2h1v-2zM264 785v2h1v-2zM267 780v1h1v-1zM275 787v2h1v-2zM277 789v2h1v-2zM278 780v3h1v-3zM283 787v3h1v-3zM339 795v1h1v-1zM340 794v5h1v-5zM348 792v3h1v-3zM349 789v2h1v-2zM349 798v3h1v-3zM350 794v3h1v-3zM353 804v2h1v-2zM355 797v2h1v-2zM356 798v1h1v-1zM359 802v3h1v-3zM364 790v2h1v-2zM364 801v1h1v-1zM365 802v3h1v-3zM370 801v1h1v-1zM373 805v1h1v-1zM374 799v3h1v-3zM379 802v2h1v-2zM381 795v1h1v-1zM381 800v3h1v-3zM382 788v2h1v-2zM386 793v4h1v-4zM386 798v2h1v-2zM387 798v2h1v-2zM401 803v1h1v-1zM409 794v2h1v-2zM410 803v2h1v-2zM411 794v1h1v-1zM412 783v3h1v-3zM412 798v2h1v-2zM414 777v3h1v-3zM419 781v2h1v-2zM422 787v3h1v-3zM425 775v1h1v-1zM428 783v3h1v-3zM431 780v1h1v-1zM433 788v1h1v-1zM446 798v3h1v-3zM446 802v3h1v-3zM447 793v2h1v-2zM447 803v3h1v-3zM449 770v2h1v-2zM449 797v2h1v-2zM451 782v1h1v-1zM451 787v2h1v-2zM454 771v3h1v-3zM454 786v1h1v-1zM455 789v1h1v-1zM455 806v2h1v-2zM456 796v1h1v-1zM457 797v3h1v-3zM458 786v2h1v-2zM458 801v1h1v-1zM473 794v1h1v-1zM478 778v1h1v-1zM480 782v1h1v-1zM493 798v3h1v-3zM494 774v2h1v-2zM495 789v1h1v-1zM496 769v1h1v-1zM496 786v3h1v-3zM496 796v2h1v-2zM500 798v2h1v-2zM501 775v3h1v-3zM502 802v3h1v-3zM503 767v2h1v-2zM503 797v3h1v-3zM503 802v2h1v-2zM504 800v3h1v-3zM504 805v1h1v-1zM505 766v1h1v-1zM505 784v1h1v-1zM505 792v3h1v-3zM507 783v3h1v-3zM507 795v1h1v-1zM508 790v1h1v-1zM510 795v3h1v-3zM511 795v1h1v-1zM511 801v3h1v-3zM515 776v2h1v-2zM516 796v1h1v-1zM543 769v1h1v-1zM556 772v1h1v-1zM562 776v1h1v-1zM581 768v2h1v-2zM584 760v2h1v-2zM586 766v1h1v-1z"/>
<path fill="#80ff00" d="M107 777v2h1v-2zM176 778v1h1v-1zM181 800v3h1v-3zM185 800v1h1v-1zM257 784v2h1v-2zM260 780v3h1v-3zM260 785v3h1v-3zM269 784v1h1v-1zM279 789v1h1v-1zM339 794v1h1v-1zM341 804v3h1v-3zM344 796v2h1v-2zM351 782v1h1v-1zM351 798v2h1v-2zM354 800v2h1v-2zM360 796v3h1v-3zM364 798v3h1v-3zM372 805v3h1v-3zM375 796v3h1v-3zM377 788v3h1v-3zM377 799v2h1v-2zM380 792v1h1v-1zM382 801v2h1v-2zM386 797v1h1v-1zM387 805v1h1v-1zM400 787v2h1v-2zM400 796v1h1v-1zM402 799v3h1v-3zM405 801v2h1v-2zM406 795v1h1v-1zM414 784v1h1v-1zM420 783v3h1v-3zM421 780v4h1v-4zM424 780v3h1v-3zM428 778v5h1v-5zM428 787v1h1v-1zM429 783v1h1v-1zM430 786v2h1v-2zM451 775v2h1v-2zM452 774v1h1v-1zM452 797v1h1v-1zM452 807v1h1v-1zM453 794v1h1v-1zM458 802v3h1v-3zM459 806v1h1v-1zM461 789v1h1v-1zM472 792v3h1v-3zM475 768v2h1v-2zM475 784v3h1v-3zM476 767v2h1v-2zM476 770v1h1v-1zM477 769v2h1v-2zM478 776v2h1v-2zM479 778v3h1v-3zM491 780v1h1v-1zM493 786v2h1v-2zM493 794v2h1v-2zM494 792v1h1v-1zM495 771v1h1v-1zM496 777v4h1v-4zM499 775v2h1v-2zM502 771v1h1v-1zM503 790v1h1v-1zM503 794v3h1v-3zM504 806v2h1v-2zM505 770v3h1v-3zM505 805v3h1v-3zM507 804v3h1v-3zM508 772v3h1v-3zM508 781v2h1v-2zM510 780v3h1v-3zM512 788v3h1v-3zM512 798v3h1v-3zM513 767v3h1v-3zM515 771v1h1v-1zM516 784v2h1v-2zM516 791v1h1v-1zM518 771v3h1v-3zM533 777v1h1v-1zM582 770v1h1v-1zM610 772v1h1v-1z"/>
<path fill="#9fff00" d="M57 775v2h1v-2zM57 780v1h1v-1zM136 779v2h1v-2zM179 786v4h1v-4zM182 799v2h1v-2zM182 802v3h1v-3zM183 786v3h1v-3zM183 791v3h1v-3zM185 803v3h1v-3zM266 789v1h1v-1zM267 779v1h1v-1zM269 789v2h1v-2zM284 788v2h1v-2zM339 788v2h1v-2zM339 796v1h1v-1zM340 804v3h1v-3zM341 800v1h1v-1zM342 790v1h1v-1zM342 800v2h1v-2zM344 802v2h1v-2zM347 795v1h1v-1zM348 803v3h1v-3zM352 797v1h1v-1zM355 803v4h1v-4zM360 805v2h1v-2zM361 804v2h1v-2zM376 798v2h1v-2zM381 794v1h1v-1zM381 796v2h1v-2zM381 803v1h1v-1zM382 794v3h1v-3zM383 796v3h1v-3zM384 795v3h1v-3zM385 790v2h1v-2zM400 797v3h1v-3zM401 787v2h1v-2zM401 796v2h1v-2zM412 793v5h1v-5zM412 801v3h1v-3zM418 785v3h1v-3zM419 783v3h1v-3zM422 784v1h1v-1zM424 787v1h1v-1zM426 785v2h1v-2zM427 778v3h1v-3zM427 789v2h1v-2zM431 782v3h1v-3zM432 781v3h1v-3zM432 789v1h1v-1zM433 780v2h1v-2zM442 798v1h1v-1zM450 794v3h1v-3zM450 807v1h1v-1zM451 797v3h1v-3zM452 793v2h1v-2zM454 774v3h1v-3zM454 804v3h1v-3zM456 797v3h1v-3zM457 795v2h1v-2zM458 772v3h1v-3zM472 783v1h1v-1zM472 791v1h1v-1zM472 801v3h1v-3zM473 786v1h1v-1zM479 769v1h1v-1zM479 781v1h1v-1zM490 775v2h1v-2zM492 761v3h1v-3zM492 783v2h1v-2zM494 806v1h1v-1zM495 792v2h1v-2zM499 794v2h1v-2zM500 807v1h1v-1zM501 765v2h1v-2zM502 789v1h1v-1zM506 784v1h1v-1zM508 783v1h1v-1zM509 768v2h1v-2zM509 787v2h1v-2zM511 768v3h1v-3zM511 773v1h1v-1zM511 776v3h1v-3zM511 788v1h1v-1zM511 804v1h1v-1zM513 772v3h1v-3zM513 784v1h1v-1zM513 803v1h1v-1zM514 800v1h1v-1zM515 790v1h1v-1zM515 802v3h1v-3zM516 776v3h1v-3zM544 773v1h1v-1zM561 776v1h1v-1zM582 766v2h1v-2zM584 762v3h1v-3zM607 773v2h1v-2zM614 765v1h1v-1z"/>
<path fill="#bfff00" d="M182 787v1h1v-1zM182 801v1h1v-1zM184 797v1h1v-1zM185 790v1h1v-1zM185 795v2h1v-2zM258 797v3h1v-3zM262 784v1h1v-1zM262 786v3h1v-3zM269 785v2h1v-2zM274 783v1h1v-1zM275 789v1h1v-1zM282 788v2h1v-2zM284 785v2h1v-2zM339 779v1h1v-1zM343 805v3h1v-3zM346 806v1h1v-1zM350 799v3h1v-3zM373 807v1h1v-1zM374 795v1h1v-1zM384 799v2h1v-2zM387 802v3h1v-3zM388 795v2h1v-2zM400 803v3h1v-3zM403 791v1h1v-1zM403 796v2h1v-2zM406 801v3h1v-3zM409 807v1h1v-1zM414 805v3h1v-3zM415 807v1h1v-1zM430 788v1h1v-1zM433 805v2h1v-2zM446 801v1h1v-1zM446 805v1h1v-1zM448 801v3h1v-3zM449 805v2h1v-2zM450 781v6h1v-6zM452 788v2h1v-2zM452 806v1h1v-1zM453 796v3h1v-3zM461 776v3h1v-3zM472 795v3h1v-3zM474 769v3h1v-3zM475 777v1h1v-1zM479 770v1h1v-1zM485 775v2h1v-2zM492 773v1h1v-1zM493 768v1h1v-1zM499 777v2h1v-2zM501 796v2h1v-2zM503 787v3h1v-3zM506 780v1h1v-1zM506 794v3h1v-3zM506 804v2h1v-2zM507 786v1h1v-1zM507 788v1h1v-1zM509 786v1h1v-1zM510 770v1h1v-1zM511 785v1h1v-1zM511 796v5h1v-5zM511 807v1h1v-1zM512 776v3h1v-3zM512 783v1h1v-1zM512 791v2h1v-2zM512 804v2h1v-2zM516 789v2h1v-2zM519 777v1h1v-1z"/>
<path fill="#dfff00" d="M56 777v1h1v-1zM121 779v1h1v-1zM181 806v2h1v-2zM183 798v1h1v-1zM184 784v3h1v-3zM184 798v2h1v-2zM185 797v2h1v-2zM186 791v1h1v-1zM261 782v1h1v-1zM262 782v1h1v-1zM262 789v2h1v-2zM265 783v1h1v-1zM269 787v2h1v-2zM274 782v1h1v-1zM282 785v3h1v-3zM283 784v3h1v-3zM339 797v3h1v-3zM341 797v3h1v-3zM341 807v1h1v-1zM343 802v3h1v-3zM344 781v1h1v-1zM346 805v1h1v-1zM346 807v1h1v-1zM351 795v3h1v-3zM352 799v3h1v-3zM360 802v3h1v-3zM365 805v1h1v-1zM371 802v1h1v-1zM375 791v2h1v-2zM376 789v2h1v-2zM379 801v1h1v-1zM382 797v1h1v-1zM383 804v1h1v-1zM385 802v3h1v-3zM404 793v2h1v-2zM410 805v1h1v-1zM411 802v3h1v-3zM412 804v3h1v-3zM419 779v2h1v-2zM425 783v2h1v-2zM425 787v5h1v-5zM426 799v1h1v-1zM429 791v3h1v-3zM429 796v3h1v-3zM432 786v2h1v-2zM434 785v3h1v-3zM439 782v2h1v-2zM446 786v3h1v-3zM447 774v2h1v-2zM448 800v1h1v-1zM450 790v1h1v-1zM451 772v3h1v-3zM451 777v3h1v-3zM451 790v3h1v-3zM452 783v2h1v-2zM452 790v1h1v-1zM460 775v1h1v-1zM472 768v2h1v-2zM472 777v3h1v-3zM472 799v2h1v-2zM472 804v1h1v-1zM473 773v1h1v-1zM474 774v1h1v-1zM476 771v2h1v-2zM478 779v1h1v-1zM492 760v1h1v-1zM492 772v1h1v-1zM492 778v2h1v-2zM493 766v2h1v-2zM494 782v3h1v-3zM494 791v1h1v-1zM495 772v2h1v-2zM495 799v2h1v-2zM499 805v3h1v-3zM500 776v1h1v-1zM502 766v1h1v-1zM502 782v1h1v-1zM503 807v1h1v-1zM504 789v3h1v-3zM507 799v2h1v-2zM508 786v2h1v-2zM508 797v1h1v-1zM508 803v2h1v-2zM509 765v3h1v-3zM509 775v1h1v-1zM509 793v3h1v-3zM510 798v2h1v-2zM510 801v2h1v-2zM511 792v3h1v-3zM511 805v2h1v-2zM512 765v1h1v-1zM512 775v1h1v-1zM513 782v2h1v-2zM513 787v1h1v-1zM514 765v1h1v-1zM514 793v3h1v-3zM516 786v1h1v-1zM544 772v1h1v-1zM582 765v1h1v-1z"/>
<path fill="#ffff00" d="M178 784v2h1v-2zM183 804v2h1v-2zM184 789v3h1v-3zM263 785v2h1v-2zM265 788v2h1v-2zM267 783v3h1v-3zM270 787v2h1v-2zM272 786v4h1v-4zM285 787v2h1v-2zM339 805v1h1v-1zM342 797v2h1v-2zM344 805v3h1v-3zM345 800v2h1v-2zM350 790v3h1v-3zM350 805v3h1v-3zM359 805v3h1v-3zM371 801v1h1v-1zM371 803v3h1v-3zM375 793v3h1v-3zM378 797v1h1v-1zM379 798v3h1v-3zM383 805v2h1v-2zM388 800v2h1v-2zM423 777v1h1v-1zM423 781v3h1v-3zM424 784v3h1v-3zM424 788v1h1v-1zM428 805v3h1v-3zM431 788v2h1v-2zM432 795v2h1v-2zM434 782v3h1v-3zM447 780v3h1v-3zM449 789v1h1v-1zM450 797v1h1v-1zM451 789v1h1v-1zM452 798v3h1v-3zM453 787v3h1v-3zM454 780v1h1v-1zM456 786v3h1v-3zM457 784v1h1v-1zM458 776v1h1v-1zM472 784v2h1v-2zM472 787v1h1v-1zM473 799v1h1v-1zM473 807v1h1v-1zM474 798v1h1v-1zM476 777v3h1v-3zM491 763v2h1v-2zM491 774v1h1v-1zM492 769v3h1v-3zM493 764v2h1v-2zM494 767v1h1v-1zM494 776v1h1v-1zM494 788v2h1v-2zM495 786v1h1v-1zM495 791v1h1v-1zM496 773v1h1v-1zM499 783v3h1v-3zM500 767v1h1v-1zM501 795v1h1v-1zM502 792v2h1v-2zM505 803v2h1v-2zM506 792v2h1v-2zM507 779v3h1v-3zM507 792v3h1v-3zM507 807v1h1v-1zM511 779v6h1v-6zM512 773v2h1v-2zM513 804v3h1v-3zM514 792v1h1v-1zM516 792v2h1v-2zM555 775v2h1v-2zM587 761v2h1v-2zM617 772v1h1v-1z"/>
<path fill="#ffef00" d="M51 773v1h1v-1zM181 799v1h1v-1zM185 788v2h1v-2zM262 780v2h1v-2zM264 787v2h1v-2zM271 788v1h1v-1zM277 782v2h1v-2zM285 784v3h1v-3zM340 801v3h1v-3zM349 805v1h1v-1zM351 800v3h1v-3zM353 802v2h1v-2zM357 798v2h1v-2zM361 790v3h1v-3zM366 804v2h1v-2zM374 802v3h1v-3zM375 802v2h1v-2zM376 797v1h1v-1zM376 800v2h1v-2zM378 802v3h1v-3zM382 800v1h1v-1zM382 803v5h1v-5zM384 801v3h1v-3zM385 799v3h1v-3zM386 807v1h1v-1zM419 803v4h1v-4zM420 789v3h1v-3zM420 804v3h1v-3zM422 792v2h1v-2zM423 774v1h1v-1zM423 795v2h1v-2zM425 782v1h1v-1zM426 803v3h1v-3zM428 791v2h1v-2zM428 795v1h1v-1zM430 802v2h1v-2zM430 806v2h1v-2zM432 784v2h1v-2zM433 793v1h1v-1zM433 801v3h1v-3zM440 781v3h1v-3zM448 775v7h1v-7zM449 781v5h1v-5zM450 787v2h1v-2zM450 800v1h1v-1zM452 801v2h1v-2zM455 790v3h1v-3zM456 772v3h1v-3zM456 801v2h1v-2zM461 782v3h1v-3zM468 793v3h1v-3zM472 774v3h1v-3zM473 800v2h1v-2zM473 805v2h1v-2zM474 772v2h1v-2zM475 778v1h1v-1zM478 773v3h1v-3zM480 771v3h1v-3zM490 772v3h1v-3zM490 777v2h1v-2zM491 762v1h1v-1zM491 782v2h1v-2zM492 767v2h1v-2zM492 786v1h1v-1zM493 770v3h1v-3zM494 804v2h1v-2zM495 769v1h1v-1zM495 775v2h1v-2zM495 784v2h1v-2zM500 768v4h1v-4zM504 797v1h1v-1zM506 802v2h1v-2zM507 769v1h1v-1zM507 801v1h1v-1zM509 805v3h1v-3zM510 783v3h1v-3zM510 788v5h1v-5zM512 801v3h1v-3zM513 790v2h1v-2zM514 772v2h1v-2zM514 804v3h1v-3zM516 773v3h1v-3zM613 784v1h1v-1z"/>
<path fill="#ffdf00" d="M183 806v2h1v-2zM268 782v3h1v-3zM268 787v2h1v-2zM270 784v3h1v-3zM275 781v2h1v-2zM351 803v3h1v-3zM370 799v2h1v-2zM374 796v3h1v-3zM376 804v3h1v-3zM377 803v2h1v-2zM378 798v1h1v-1zM379 804v1h1v-1zM382 798v2h1v-2zM387 806v1h1v-1zM404 806v2h1v-2zM411 799v3h1v-3zM412 792v1h1v-1zM421 786v1h1v-1zM421 796v2h1v-2zM424 793v3h1v-3zM424 802v2h1v-2zM429 786v2h1v-2zM430 784v2h1v-2zM434 793v1h1v-1zM441 780v2h1v-2zM448 782v1h1v-1zM448 784v3h1v-3zM448 789v3h1v-3zM448 806v1h1v-1zM449 776v3h1v-3zM452 779v3h1v-3zM454 802v2h1v-2zM472 782v1h1v-1zM473 771v2h1v-2zM473 791v3h1v-3zM474 767v1h1v-1zM476 773v4h1v-4zM477 779v1h1v-1zM480 767v2h1v-2zM480 777v3h1v-3zM490 767v1h1v-1zM493 778v3h1v-3zM495 774v1h1v-1zM499 779v1h1v-1zM500 765v2h1v-2zM500 772v4h1v-4zM502 765v1h1v-1zM507 773v2h1v-2zM508 800v1h1v-1zM509 800v1h1v-1zM509 804v1h1v-1zM510 800v1h1v-1zM510 803v2h1v-2zM512 784v3h1v-3zM512 793v2h1v-2zM513 766v1h1v-1zM513 797v6h1v-6zM513 807v1h1v-1zM516 799v1h1v-1zM581 761v3h1v-3z"/>
<path fill="#ffcf00" d="M268 779v3h1v-3zM269 780v3h1v-3zM273 780v3h1v-3zM284 787v1h1v-1zM339 806v2h1v-2zM341 801v3h1v-3zM349 806v2h1v-2zM361 806v2h1v-2zM372 804v1h1v-1zM378 799v3h1v-3zM384 798v1h1v-1zM384 806v2h1v-2zM386 804v3h1v-3zM387 807v1h1v-1zM388 802v1h1v-1zM421 787v1h1v-1zM421 794v2h1v-2zM422 802v2h1v-2zM423 784v2h1v-2zM423 803v1h1v-1zM424 789v1h1v-1zM425 792v6h1v-6zM426 787v2h1v-2zM427 791v1h1v-1zM427 806v1h1v-1zM430 789v4h1v-4zM431 781v1h1v-1zM431 790v2h1v-2zM433 795v3h1v-3zM434 796v1h1v-1zM441 777v2h1v-2zM446 778v3h1v-3zM447 776v3h1v-3zM447 783v2h1v-2zM449 803v2h1v-2zM451 803v1h1v-1zM451 806v2h1v-2zM453 775v2h1v-2zM458 788v2h1v-2zM469 800v2h1v-2zM472 788v3h1v-3zM473 789v2h1v-2zM473 795v3h1v-3zM485 781v1h1v-1zM490 764v3h1v-3zM491 779v1h1v-1zM492 776v1h1v-1zM494 779v3h1v-3zM494 801v2h1v-2zM495 803v2h1v-2zM500 777v3h1v-3zM506 781v3h1v-3zM506 787v5h1v-5zM507 787v1h1v-1zM507 789v3h1v-3zM508 788v2h1v-2zM508 791v3h1v-3zM509 782v2h1v-2zM509 801v3h1v-3zM510 805v1h1v-1zM512 782v1h1v-1zM513 780v2h1v-2zM513 785v2h1v-2z"/>
<path fill="#ffbf00" d="M263 783v2h1v-2zM266 784v3h1v-3zM268 789v1h1v-1zM275 784v3h1v-3zM276 789v2h1v-2zM277 788v1h1v-1zM347 804v3h1v-3zM354 802v1h1v-1zM377 797v2h1v-2zM378 796v1h1v-1zM380 803v2h1v-2zM383 799v2h1v-2zM385 805v2h1v-2zM388 804v2h1v-2zM410 806v1h1v-1zM414 797v3h1v-3zM419 792v5h1v-5zM419 807v1h1v-1zM421 788v2h1v-2zM421 798v4h1v-4zM422 794v1h1v-1zM423 788v2h1v-2zM426 789v3h1v-3zM427 797v1h1v-1zM430 795v4h1v-4zM434 801v3h1v-3zM446 775v3h1v-3zM446 793v2h1v-2zM448 787v1h1v-1zM448 798v2h1v-2zM449 799v3h1v-3zM454 788v2h1v-2zM457 803v1h1v-1zM473 782v1h1v-1zM490 770v2h1v-2zM491 772v2h1v-2zM491 775v1h1v-1zM492 766v1h1v-1zM492 780v1h1v-1zM493 769v1h1v-1zM493 773v2h1v-2zM494 786v2h1v-2zM496 770v3h1v-3zM501 773v2h1v-2zM501 778v3h1v-3zM508 794v3h1v-3zM508 798v2h1v-2zM509 772v3h1v-3zM509 789v1h1v-1zM513 792v1h1v-1zM526 772v2h1v-2zM543 770v2h1v-2z"/>
<path fill="#ffaf00" d="M184 801v2h1v-2zM185 799v1h1v-1zM265 785v3h1v-3zM271 783v3h1v-3zM343 797v1h1v-1zM357 806v1h1v-1zM373 800v5h1v-5zM374 805v1h1v-1zM375 804v2h1v-2zM377 807v1h1v-1zM378 806v2h1v-2zM379 805v2h1v-2zM381 804v3h1v-3zM383 801v3h1v-3zM384 804v2h1v-2zM387 800v2h1v-2zM388 797v3h1v-3zM388 806v2h1v-2zM406 805v2h1v-2zM411 805v2h1v-2zM419 800v3h1v-3zM420 800v3h1v-3zM421 790v3h1v-3zM422 795v2h1v-2zM423 804v2h1v-2zM424 807v1h1v-1zM425 803v3h1v-3zM426 792v4h1v-4zM426 806v1h1v-1zM427 805v1h1v-1zM428 786v1h1v-1zM429 794v2h1v-2zM429 805v3h1v-3zM430 793v1h1v-1zM431 792v2h1v-2zM431 803v2h1v-2zM432 788v1h1v-1zM433 794v1h1v-1zM434 788v5h1v-5zM441 782v3h1v-3zM448 773v1h1v-1zM448 783v1h1v-1zM449 790v3h1v-3zM450 778v3h1v-3zM452 803v3h1v-3zM453 805v2h1v-2zM454 777v3h1v-3zM491 776v3h1v-3zM493 788v2h1v-2zM510 767v1h1v-1zM512 806v2h1v-2zM513 775v3h1v-3zM513 795v2h1v-2z"/>
<path fill="#ff9f00" d="M272 779v2h1v-2zM274 784v3h1v-3zM277 781v1h1v-1zM280 788v3h1v-3zM352 806v1h1v-1zM371 799v2h1v-2zM380 807v1h1v-1zM381 798v2h1v-2zM409 803v3h1v-3zM412 800v1h1v-1zM419 786v3h1v-3zM420 786v3h1v-3zM420 794v3h1v-3zM422 785v1h1v-1zM422 790v2h1v-2zM424 796v1h1v-1zM425 798v1h1v-1zM427 795v2h1v-2zM428 793v2h1v-2zM428 797v2h1v-2zM431 785v3h1v-3zM431 794v3h1v-3zM432 805v2h1v-2zM434 794v2h1v-2zM434 807v1h1v-1zM440 779v2h1v-2zM440 784v1h1v-1zM442 782v2h1v-2zM446 781v2h1v-2zM446 792v1h1v-1zM447 788v3h1v-3zM453 783v2h1v-2zM453 795v1h1v-1zM453 807v1h1v-1zM454 785v1h1v-1zM472 770v3h1v-3zM473 783v1h1v-1zM473 798v1h1v-1zM474 775v1h1v-1zM490 768v2h1v-2zM494 768v3h1v-3zM506 772v2h1v-2zM506 785v2h1v-2zM513 793v2h1v-2z"/>
<path fill="#ff8f00" d="M184 803v2h1v-2zM261 784v3h1v-3zM268 777v2h1v-2zM270 789v2h1v-2zM272 782v1h1v-1zM274 788v2h1v-2zM277 787v1h1v-1zM279 780v3h1v-3zM371 806v2h1v-2zM377 801v2h1v-2zM386 803v1h1v-1zM420 792v2h1v-2zM420 798v2h1v-2zM421 793v1h1v-1zM422 797v2h1v-2zM422 807v1h1v-1zM423 786v2h1v-2zM423 790v1h1v-1zM425 801v2h1v-2zM427 786v3h1v-3zM427 792v3h1v-3zM428 799v3h1v-3zM429 788v3h1v-3zM429 799v2h1v-2zM430 799v3h1v-3zM432 790v2h1v-2zM447 779v1h1v-1zM448 788v1h1v-1zM449 773v3h1v-3zM454 794v3h1v-3zM472 773v1h1v-1zM473 779v2h1v-2zM473 802v3h1v-3zM474 779v3h1v-3zM474 804v2h1v-2zM506 797v3h1v-3zM506 806v2h1v-2zM507 782v1h1v-1zM510 771v2h1v-2zM512 787v1h1v-1z"/>
<path fill="#ff8000" d="M262 785v1h1v-1zM264 789v2h1v-2zM265 784v1h1v-1zM266 787v2h1v-2zM279 786v2h1v-2zM378 805v1h1v-1zM381 807v1h1v-1zM388 803v1h1v-1zM421 805v2h1v-2zM425 785v2h1v-2zM428 796v1h1v-1zM428 802v3h1v-3zM433 782v3h1v-3zM433 804v1h1v-1zM439 780v2h1v-2zM446 783v3h1v-3zM447 785v3h1v-3zM447 806v2h1v-2zM453 802v3h1v-3zM454 782v3h1v-3zM473 768v3h1v-3zM473 784v2h1v-2zM491 767v3h1v-3zM492 777v1h1v-1zM495 802v1h1v-1z"/>
<path fill="#ff7000" d="M261 781v1h1v-1zM261 787v3h1v-3zM267 786v3h1v-3zM272 781v1h1v-1zM345 806v2h1v-2zM354 803v3h1v-3zM370 802v2h1v-2zM422 799v1h1v-1zM422 804v3h1v-3zM424 804v3h1v-3zM430 804v1h1v-1zM431 800v3h1v-3zM433 789v1h1v-1zM434 797v1h1v-1zM442 779v3h1v-3zM446 773v2h1v-2zM447 795v2h1v-2zM447 801v2h1v-2zM449 779v2h1v-2zM449 793v1h1v-1zM453 791v3h1v-3zM473 774v2h1v-2zM474 777v2h1v-2zM492 774v2h1v-2zM507 802v2h1v-2zM511 789v1h1v-1zM512 797v1h1v-1z"/>
<path fill="#ff6000" d="M271 786v1h1v-1zM272 783v3h1v-3zM273 785v4h1v-4zM276 785v2h1v-2zM280 787v1h1v-1zM370 806v1h1v-1zM419 798v2h1v-2zM420 803v1h1v-1zM422 800v2h1v-2zM423 797v3h1v-3zM426 796v3h1v-3zM427 802v3h1v-3zM429 801v1h1v-1zM430 794v1h1v-1zM432 802v3h1v-3zM433 798v3h1v-3zM434 798v1h1v-1zM449 802v1h1v-1zM474 776v1h1v-1zM492 764v2h1v-2z"/>
<path fill="#ff5000" d="M263 788v2h1v-2zM268 785v2h1v-2zM270 782v2h1v-2zM273 783v2h1v-2zM377 805v2h1v-2zM385 807v1h1v-1zM419 789v3h1v-3zM421 802v3h1v-3zM423 800v3h1v-3zM431 799v1h1v-1zM432 792v3h1v-3zM434 804v3h1v-3zM447 772v2h1v-2zM452 775v2h1v-2zM453 790v1h1v-1zM474 768v1h1v-1zM491 765v2h1v-2zM508 801v2h1v-2zM512 781v1h1v-1z"/>
<path fill="#ff4000" d="M273 789v1h1v-1zM274 787v1h1v-1zM275 783v1h1v-1zM378 794v2h1v-2zM401 801v2h1v-2zM423 806v2h1v-2zM425 806v1h1v-1zM426 802v1h1v-1zM430 805v1h1v-1zM433 790v3h1v-3zM473 776v3h1v-3zM491 761v1h1v-1z"/>
<path fill="#ff3000" d="M261 778v2h1v-2zM265 781v2h1v-2zM424 790v3h1v-3zM426 800v2h1v-2zM432 800v2h1v-2zM509 784v2h1v-2z"/>
<path fill="#ff2000" d="M279 783v3h1v-3zM279 788v1h1v-1zM280 784v3h1v-3zM431 797v2h1v-2zM432 797v3h1v-3zM434 799v2h1v-2z"/>
<path fill="#ff1000" d="M276 783v2h1v-2zM419 797v1h1v-1zM431 805v3h1v-3z"/>
<path fill="#ff0000" d="M420 797v1h1v-1zM429 802v3h1v-3zM491 770v2h1v-2z"/>
<path fill="#df0020" d="M425 799v2h1v-2z"/>
<path fill="#b00050" d="M279 790v1h1v-1z"/>
</g>
<rect class="ax" x="50.5" y="579.5" width="650.0" height="230"/>
<path class="ax" d="M50.5 790.5h5.5M700.5 790.5h-5.5M50.5 771.5h5.5M700.5 771.5h-5.5M50.5 752.5h5.5M700.5 752.5h-5.5M50.5 733.5h5.5M700.5 733.5h-5.5M50.5 714.5h5.5M700.5 714.5h-5.5M50.5 694.5h5.5M700.5 694.5h-5.5M50.5 675.5h5.5M700.5 675.5h-5.5M50.5 656.5h5.5M700.5 656.5h-5.5M50.5 637.5h5.5M700.5 637.5h-5.5M50.5 618.5h5.5M700.5 618.5h-5.5M50.5 599.5h5.5M700.5 599.5h-5.5M158.5 809.5v-5.5M158.5 579.5v5.5M266.5 809.5v-5.5M266.5 579.5v5.5M375.5 809.5v-5.5M375.5 579.5v5.5M483.5 809.5v-5.5M483.5 579.5v5.5M591.5 809.5v-5.5M591.5 579.5v5.5"/>
<text class="r" x="47" y="814">0</text>
<text class="r" x="47" y="795">1</text>
<text class="r" x="47" y="776">2</text>
<text class="r" x="47" y="757">3</text>
<text class="r" x="47" y="738">4</text>
<text class="r" x="47" y="719">5</text>
<text class="r" x="47" y="699">6</text>
<text class="r" x="47" y="680">7</text>
<text class="r" x="47" y="661">8</text>
<text class="r" x="47" y="642">9</text>
<text class="r n" x="47.4" y="623">10</text>
<text class="r n" x="47.4" y="604">11</text>
<text class="r n" x="47.4" y="584">12</text>
<text class="c n" x="50" y="824">00:00</text>
<text class="c n" x="158" y="824">04:00</text>
<text class="c n" x="266" y="824">08:00</text>
<text class="c n" x="375" y="824">12:00</text>
<text class="c n" x="483" y="824">16:00</text>
<text class="c n" x="591" y="824">20:00</text>
<text class="c n" x="700" y="824">00:00</text>
<text class="c" x="375" y="842">Time (UTC)</text>
<text class="c" transform="translate(27 696) rotate(-90)">Height (km)</text>
<text class="b" x="57.5" y="596" style="letter-spacing:0.42px">Spectral width</text>
<g class="cb">
<rect x="754.5" y="772" width="16" height="2.6" fill="#d6d6e6"/>
<rect x="754.5" y="769.5" width="16" height="2.6" fill="#c8c8e8"/>
<rect x="754.5" y="767" width="16" height="2.6" fill="#b9b9e9"/>
<rect x="754.5" y="764.5" width="16" height="2.6" fill="#ababeb"/>
<rect x="754.5" y="762" width="16" height="2.6" fill="#9d9ded"/>
<rect x="754.5" y="759.5" width="16" height="2.6" fill="#8f8fee"/>
<rect x="754.5" y="757" width="16" height="2.6" fill="#8080f0"/>
<rect x="754.5" y="754.5" width="16" height="2.6" fill="#7272f2"/>
<rect x="754.5" y="752" width="16" height="2.6" fill="#6464f3"/>
<rect x="754.5" y="749.5" width="16" height="2.6" fill="#5656f5"/>
<rect x="754.5" y="747" width="16" height="2.6" fill="#4747f7"/>
<rect x="754.5" y="744.5" width="16" height="2.6" fill="#3939f8"/>
<rect x="754.5" y="742" width="16" height="2.6" fill="#2b2bfa"/>
<rect x="754.5" y="739.5" width="16" height="2.6" fill="#1d1dfc"/>
<rect x="754.5" y="737" width="16" height="2.6" fill="#0e0efd"/>
<rect x="754.5" y="734.5" width="16" height="2.6" fill="#0000ff"/>
<rect x="754.5" y="732" width="16" height="2.6" fill="#0010ef"/>
<rect x="754.5" y="729.5" width="16" height="2.6" fill="#0020df"/>
<rect x="754.5" y="727" width="16" height="2.6" fill="#0030cf"/>
<rect x="754.5" y="724.5" width="16" height="2.6" fill="#0040bf"/>
<rect x="754.5" y="722" width="16" height="2.6" fill="#0050af"/>
<rect x="754.5" y="719.5" width="16" height="2.6" fill="#00609f"/>
<rect x="754.5" y="717" width="16" height="2.6" fill="#00708f"/>
<rect x="754.5" y="714.5" width="16" height="2.6" fill="#008080"/>
<rect x="754.5" y="712" width="16" height="2.6" fill="#008f70"/>
<rect x="754.5" y="709.5" width="16" height="2.6" fill="#009f60"/>
<rect x="754.5" y="707" width="16" height="2.6" fill="#00af50"/>
<rect x="754.5" y="704.5" width="16" height="2.6" fill="#00bf40"/>
<rect x="754.5" y="702" width="16" height="2.6" fill="#00cf30"/>
<rect x="754.5" y="699.5" width="16" height="2.6" fill="#00df20"/>
<rect x="754.5" y="697" width="16" height="2.6" fill="#00ef10"/>
<rect x="754.5" y="694.5" width="16" height="2.6" fill="#00ff00"/>
<rect x="754.5" y="692" width="16" height="2.6" fill="#20ff00"/>
<rect x="754.5" y="689.5" width="16" height="2.6" fill="#40ff00"/>
<rect x="754.5" y="687" width="16" height="2.6" fill="#60ff00"/>
<rect x="754.5" y="684.5" width="16" height="2.6" fill="#80ff00"/>
<rect x="754.5" y="682" width="16" height="2.6" fill="#9fff00"/>
<rect x="754.5" y="679.5" width="16" height="2.6" fill="#bfff00"/>
<rect x="754.5" y="677" width="16" height="2.6" fill="#dfff00"/>
<rect x="754.5" y="674.5" width="16" height="2.6" fill="#ffff00"/>
<rect x="754.5" y="672" width="16" height="2.6" fill="#ffef00"/>
<rect x="754.5" y="669.5" width="16" height="2.6" fill="#ffdf00"/>
<rect x="754.5" y="667" width="16" height="2.6" fill="#ffcf00"/>
<rect x="754.5" y="664.5" width="16" height="2.6" fill="#ffbf00"/>
<rect x="754.5" y="662" width="16" height="2.6" fill="#ffaf00"/>
<rect x="754.5" y="659.5" width="16" height="2.6" fill="#ff9f00"/>
<rect x="754.5" y="657" width="16" height="2.6" fill="#ff8f00"/>
<rect x="754.5" y="654.5" width="16" height="2.6" fill="#ff8000"/>
<rect x="754.5" y="652" width="16" height="2.6" fill="#ff7000"/>
<rect x="754.5" y="649.5" width="16" height="2.6" fill="#ff6000"/>
<rect x="754.5" y="647" width="16" height="2.6" fill="#ff5000"/>
<rect x="754.5" y="644.5" width="16" height="2.6" fill="#ff4000"/>
<rect x="754.5" y="642" width="16" height="2.6" fill="#ff3000"/>
<rect x="754.5" y="639.5" width="16" height="2.6" fill="#ff2000"/>
<rect x="754.5" y="637" width="16" height="2.6" fill="#ff1000"/>
<rect x="754.5" y="634.5" width="16" height="2.6" fill="#ff0000"/>
<rect x="754.5" y="632" width="16" height="2.6" fill="#ef0010"/>
<rect x="754.5" y="629.5" width="16" height="2.6" fill="#df0020"/>
<rect x="754.5" y="627" width="16" height="2.6" fill="#cf0030"/>
<rect x="754.5" y="624.5" width="16" height="2.6" fill="#c00040"/>
<rect x="754.5" y="622" width="16" height="2.6" fill="#b00050"/>
<rect x="754.5" y="619.5" width="16" height="2.6" fill="#a00060"/>
<rect x="754.5" y="617" width="16" height="2.6" fill="#900070"/>
<rect x="754.5" y="614.5" width="16" height="2.6" fill="#800080"/>
</g>
<rect class="ax" x="754.5" y="614.5" width="16" height="160"/>
<text class="r n" x="737.9" y="620">10</text><text class="sup" x="738.5" y="615">0.5</text>
<text class="r n" x="745.9" y="660">10</text><text class="sup" x="746.5" y="655">0</text>
<text class="r n" x="734.9" y="700">10</text><text class="sup" x="735.5" y="695">-0.5</text>
<text class="r n" x="741.9" y="740">10</text><text class="sup" x="742.5" y="735">-1</text>
<text class="r n" x="734.9" y="780">10</text><text class="sup" x="735.5" y="775">-1.5</text>
<text transform="translate(716 709) rotate(-90)">m s</text><text class="sup" transform="translate(711 690) rotate(-90)">-1</text>
</g>
<g id="panel4">
<g class="d">
<path fill="#dedede" d="M374 1074v1h1v-1zM382 1070v1h1v-1zM384 1076v1h1v-1zM385 1073v2h1v-2zM414 1066v2h1v-2zM420 1067v2h1v-2zM431 1072v3h1v-3zM452 1075v2h1v-2zM456 1072v3h1v-3zM472 1067v1h1v-1z"/>
<path fill="#c8c8e8" d="M380 1069v2h1v-2zM384 1075v1h1v-1zM388 1070v4h1v-4zM409 1070v4h1v-4zM418 1068v5h1v-5zM420 1069v1h1v-1zM422 1072v3h1v-3zM423 1068v1h1v-1zM424 1074v3h1v-3zM425 1072v1h1v-1zM427 1067v1h1v-1zM427 1072v2h1v-2zM428 1074v3h1v-3zM429 1068v2h1v-2zM429 1071v3h1v-3zM430 1063v3h1v-3zM430 1071v2h1v-2zM432 1068v4h1v-4zM453 1068v3h1v-3zM454 1074v1h1v-1zM456 1075v1h1v-1zM472 1063v1h1v-1zM474 1068v1h1v-1zM510 1072v1h1v-1zM512 1048v3h1v-3zM512 1068v1h1v-1z"/>
<path fill="#b9b9e9" d="M380 1071v5h1v-5zM383 1073v2h1v-2zM384 1070v2h1v-2zM385 1075v1h1v-1zM386 1074v3h1v-3zM387 1069v2h1v-2zM387 1073v2h1v-2zM409 1068v2h1v-2zM415 1071v2h1v-2zM418 1066v2h1v-2zM418 1073v3h1v-3zM419 1068v2h1v-2zM420 1073v3h1v-3zM421 1065v1h1v-1zM422 1065v4h1v-4zM423 1069v1h1v-1zM423 1075v1h1v-1zM424 1067v2h1v-2zM424 1071v1h1v-1zM425 1070v2h1v-2zM427 1068v4h1v-4zM428 1067v7h1v-7zM429 1067v1h1v-1zM429 1070v1h1v-1zM429 1074v3h1v-3zM431 1066v3h1v-3zM431 1075v1h1v-1zM432 1064v2h1v-2zM432 1067v1h1v-1zM433 1073v3h1v-3zM454 1070v1h1v-1zM455 1077v1h1v-1zM473 1060v2h1v-2zM474 1063v5h1v-5zM474 1074v1h1v-1z"/>
<path fill="#ababeb" d="M373 1077v1h1v-1zM381 1072v2h1v-2zM386 1069v5h1v-5zM387 1076v1h1v-1zM409 1066v2h1v-2zM409 1074v1h1v-1zM414 1068v4h1v-4zM414 1075v1h1v-1zM415 1063v1h1v-1zM418 1063v3h1v-3zM419 1070v1h1v-1zM419 1073v2h1v-2zM420 1062v1h1v-1zM420 1070v3h1v-3zM421 1066v5h1v-5zM421 1074v3h1v-3zM422 1063v2h1v-2zM422 1069v3h1v-3zM423 1065v3h1v-3zM424 1062v5h1v-5zM424 1069v2h1v-2zM424 1072v2h1v-2zM425 1066v4h1v-4zM425 1073v2h1v-2zM426 1063v4h1v-4zM426 1069v5h1v-5zM427 1064v3h1v-3zM427 1074v3h1v-3zM429 1064v3h1v-3zM430 1067v4h1v-4zM431 1069v3h1v-3zM432 1072v3h1v-3zM433 1064v9h1v-9zM452 1070v2h1v-2zM452 1077v1h1v-1zM453 1071v3h1v-3zM453 1076v2h1v-2zM455 1073v4h1v-4zM456 1071v1h1v-1zM456 1076v1h1v-1zM472 1073v1h1v-1zM474 1069v2h1v-2zM510 1071v1h1v-1zM511 1050v1h1v-1zM511 1070v2h1v-2zM512 1063v1h1v-1zM512 1072v2h1v-2z"/>
<path fill="#9d9ded" d="M374 1075v3h1v-3zM380 1076v1h1v-1zM381 1069v3h1v-3zM381 1074v2h1v-2zM382 1071v3h1v-3zM382 1075v1h1v-1zM388 1077v1h1v-1zM408 1065v3h1v-3zM408 1071v3h1v-3zM414 1063v3h1v-3zM415 1064v1h1v-1zM415 1068v3h1v-3zM415 1073v1h1v-1zM418 1059v3h1v-3zM419 1062v6h1v-6zM419 1071v2h1v-2zM421 1062v3h1v-3zM421 1071v3h1v-3zM423 1060v5h1v-5zM423 1070v5h1v-5zM424 1060v2h1v-2zM425 1061v1h1v-1zM425 1065v1h1v-1zM426 1067v2h1v-2zM426 1074v2h1v-2zM427 1061v3h1v-3zM430 1061v2h1v-2zM430 1066v1h1v-1zM431 1060v6h1v-6zM432 1062v2h1v-2zM432 1066v1h1v-1zM433 1063v1h1v-1zM452 1069v1h1v-1zM452 1072v3h1v-3zM453 1075v1h1v-1zM456 1070v1h1v-1zM473 1069v1h1v-1zM510 1066v2h1v-2z"/>
<path fill="#8f8fee" d="M381 1077v1h1v-1zM382 1074v1h1v-1zM386 1077v1h1v-1zM387 1071v1h1v-1zM408 1074v3h1v-3zM409 1075v3h1v-3zM415 1065v3h1v-3zM418 1062v1h1v-1zM418 1076v1h1v-1zM420 1060v2h1v-2zM420 1063v1h1v-1zM422 1060v3h1v-3zM425 1062v3h1v-3zM426 1062v1h1v-1zM428 1060v2h1v-2zM429 1061v3h1v-3zM432 1059v3h1v-3zM433 1060v3h1v-3zM453 1074v1h1v-1zM454 1071v3h1v-3zM454 1075v2h1v-2zM456 1062v3h1v-3zM456 1069v1h1v-1zM472 1061v1h1v-1zM473 1073v4h1v-4zM474 1062v1h1v-1zM512 1059v2h1v-2zM512 1064v2h1v-2z"/>
<path fill="#8080f0" d="M373 1073v3h1v-3zM378 1066v3h1v-3zM384 1072v3h1v-3zM385 1069v4h1v-4zM388 1074v3h1v-3zM414 1060v3h1v-3zM414 1072v3h1v-3zM419 1059v3h1v-3zM421 1058v4h1v-4zM426 1060v2h1v-2zM452 1067v2h1v-2zM454 1067v3h1v-3zM455 1067v6h1v-6zM473 1070v3h1v-3zM474 1071v3h1v-3zM510 1048v2h1v-2zM510 1060v3h1v-3zM510 1073v2h1v-2zM511 1048v2h1v-2zM511 1061v2h1v-2zM511 1067v2h1v-2zM512 1066v2h1v-2zM512 1069v3h1v-3z"/>
<path fill="#7272f2" d="M383 1070v3h1v-3zM385 1076v2h1v-2zM387 1075v1h1v-1zM419 1058v1h1v-1zM420 1058v2h1v-2zM423 1057v3h1v-3zM424 1057v3h1v-3zM425 1058v3h1v-3zM435 1056v2h1v-2zM435 1073v2h1v-2zM452 1064v3h1v-3zM453 1064v2h1v-2zM454 1062v5h1v-5zM456 1065v4h1v-4zM472 1069v4h1v-4zM495 1076v1h1v-1zM508 1073v1h1v-1zM509 1073v2h1v-2zM511 1051v2h1v-2zM511 1069v1h1v-1z"/>
<path fill="#6464f3" d="M379 1075v2h1v-2zM382 1076v2h1v-2zM410 1067v3h1v-3zM422 1058v2h1v-2zM423 1077v1h1v-1zM433 1057v3h1v-3zM435 1058v2h1v-2zM453 1062v2h1v-2zM455 1062v1h1v-1zM472 1064v3h1v-3zM472 1074v1h1v-1zM476 1039v1h1v-1zM509 1071v2h1v-2zM510 1063v3h1v-3zM511 1053v2h1v-2zM511 1065v2h1v-2zM512 1061v2h1v-2zM513 1067v2h1v-2z"/>
<path fill="#5656f5" d="M371 1074v1h1v-1zM373 1076v1h1v-1zM383 1077v1h1v-1zM414 1076v2h1v-2zM415 1076v2h1v-2zM418 1058v1h1v-1zM435 1075v2h1v-2zM455 1063v1h1v-1zM472 1068v1h1v-1zM473 1066v3h1v-3zM502 1067v2h1v-2zM502 1075v1h1v-1zM505 1056v1h1v-1zM508 1076v1h1v-1zM509 1051v3h1v-3zM511 1059v2h1v-2zM512 1074v3h1v-3z"/>
<path fill="#4747f7" d="M341 1076v1h1v-1zM361 1077v1h1v-1zM382 1068v2h1v-2zM383 1067v3h1v-3zM414 1058v2h1v-2zM415 1049v3h1v-3zM415 1060v3h1v-3zM427 1077v1h1v-1zM435 1069v3h1v-3zM448 1044v1h1v-1zM455 1064v3h1v-3zM472 1053v3h1v-3zM472 1062v1h1v-1zM490 1056v1h1v-1zM506 1057v1h1v-1zM509 1067v3h1v-3zM510 1057v3h1v-3zM511 1063v2h1v-2z"/>
<path fill="#3939f8" d="M341 1072v2h1v-2zM358 1072v1h1v-1zM376 1063v1h1v-1zM377 1066v2h1v-2zM379 1072v2h1v-2zM410 1066v1h1v-1zM410 1077v1h1v-1zM415 1057v3h1v-3zM418 1077v1h1v-1zM423 1056v1h1v-1zM425 1075v2h1v-2zM428 1054v2h1v-2zM428 1077v1h1v-1zM435 1067v2h1v-2zM435 1077v1h1v-1zM446 1053v1h1v-1zM458 1057v3h1v-3zM468 1070v2h1v-2zM473 1039v3h1v-3zM476 1041v2h1v-2zM495 1066v3h1v-3zM508 1056v1h1v-1zM508 1059v1h1v-1zM509 1062v3h1v-3zM509 1070v1h1v-1z"/>
<path fill="#2b2bfa" d="M312 1062v2h1v-2zM340 1073v3h1v-3zM340 1077v1h1v-1zM359 1072v2h1v-2zM360 1060v2h1v-2zM360 1070v3h1v-3zM371 1073v1h1v-1zM380 1068v1h1v-1zM387 1068v1h1v-1zM420 1076v2h1v-2zM421 1077v1h1v-1zM429 1077v1h1v-1zM431 1076v2h1v-2zM435 1063v4h1v-4zM435 1072v1h1v-1zM448 1040v4h1v-4zM448 1056v3h1v-3zM449 1042v2h1v-2zM460 1068v2h1v-2zM474 1056v3h1v-3zM477 1045v1h1v-1zM492 1074v3h1v-3zM508 1065v2h1v-2zM509 1065v2h1v-2zM510 1075v1h1v-1zM511 1075v2h1v-2zM513 1044v1h1v-1zM513 1064v3h1v-3zM544 1068v2h1v-2z"/>
<path fill="#1d1dfc" d="M187 1076v1h1v-1zM188 1072v1h1v-1zM340 1069v1h1v-1zM342 1074v4h1v-4zM348 1066v3h1v-3zM348 1071v2h1v-2zM349 1067v2h1v-2zM349 1073v3h1v-3zM350 1062v3h1v-3zM358 1061v1h1v-1zM358 1074v1h1v-1zM360 1052v3h1v-3zM371 1075v2h1v-2zM379 1074v1h1v-1zM412 1054v1h1v-1zM414 1051v3h1v-3zM415 1052v3h1v-3zM418 1052v3h1v-3zM421 1057v1h1v-1zM434 1051v3h1v-3zM434 1067v3h1v-3zM447 1043v1h1v-1zM448 1045v3h1v-3zM449 1076v1h1v-1zM452 1057v1h1v-1zM458 1050v1h1v-1zM458 1062v1h1v-1zM460 1070v3h1v-3zM460 1074v1h1v-1zM468 1060v2h1v-2zM474 1077v1h1v-1zM490 1042v3h1v-3zM491 1036v1h1v-1zM494 1073v3h1v-3zM505 1064v1h1v-1zM508 1052v2h1v-2zM508 1060v2h1v-2zM510 1045v2h1v-2zM511 1045v2h1v-2zM513 1057v2h1v-2z"/>
<path fill="#0e0efd" d="M182 1070v3h1v-3zM183 1068v1h1v-1zM187 1069v3h1v-3zM188 1070v2h1v-2zM340 1076v1h1v-1zM342 1069v3h1v-3zM349 1059v2h1v-2zM350 1065v3h1v-3zM359 1057v3h1v-3zM360 1076v1h1v-1zM361 1069v5h1v-5zM373 1071v2h1v-2zM384 1069v1h1v-1zM388 1067v3h1v-3zM414 1057v1h1v-1zM419 1075v3h1v-3zM420 1053v1h1v-1zM421 1053v1h1v-1zM422 1055v1h1v-1zM422 1075v2h1v-2zM423 1046v3h1v-3zM425 1052v3h1v-3zM426 1052v3h1v-3zM428 1051v3h1v-3zM431 1050v3h1v-3zM432 1052v3h1v-3zM432 1056v3h1v-3zM432 1075v2h1v-2zM433 1049v4h1v-4zM434 1056v1h1v-1zM434 1060v3h1v-3zM434 1072v2h1v-2zM446 1054v3h1v-3zM447 1055v1h1v-1zM449 1044v3h1v-3zM449 1056v2h1v-2zM449 1062v2h1v-2zM452 1056v1h1v-1zM457 1053v3h1v-3zM457 1060v1h1v-1zM460 1061v1h1v-1zM460 1065v2h1v-2zM469 1067v3h1v-3zM472 1051v2h1v-2zM503 1065v1h1v-1zM505 1047v2h1v-2zM505 1067v3h1v-3zM508 1043v1h1v-1zM508 1057v2h1v-2zM509 1047v2h1v-2zM509 1050v1h1v-1zM509 1059v3h1v-3zM509 1075v2h1v-2zM510 1042v1h1v-1zM510 1076v1h1v-1zM511 1047v1h1v-1zM512 1040v1h1v-1zM513 1045v3h1v-3zM513 1054v3h1v-3zM514 1042v3h1v-3zM514 1048v2h1v-2zM514 1062v3h1v-3zM514 1066v2h1v-2zM514 1075v1h1v-1z"/>
<path fill="#0000ff" d="M184 1067v2h1v-2zM185 1063v2h1v-2zM185 1070v2h1v-2zM187 1072v4h1v-4zM188 1073v2h1v-2zM339 1059v3h1v-3zM341 1071v1h1v-1zM342 1072v2h1v-2zM345 1075v2h1v-2zM347 1057v1h1v-1zM349 1056v3h1v-3zM349 1062v3h1v-3zM357 1075v3h1v-3zM359 1069v3h1v-3zM360 1073v1h1v-1zM376 1053v1h1v-1zM384 1066v2h1v-2zM410 1076v1h1v-1zM414 1054v3h1v-3zM415 1048v1h1v-1zM418 1043v2h1v-2zM418 1055v3h1v-3zM419 1053v3h1v-3zM421 1051v2h1v-2zM423 1076v1h1v-1zM424 1050v2h1v-2zM426 1076v2h1v-2zM429 1047v1h1v-1zM432 1050v2h1v-2zM433 1048v1h1v-1zM433 1053v2h1v-2zM434 1054v2h1v-2zM434 1070v2h1v-2zM446 1044v1h1v-1zM446 1068v2h1v-2zM447 1056v2h1v-2zM447 1066v3h1v-3zM448 1048v3h1v-3zM448 1075v3h1v-3zM449 1067v3h1v-3zM451 1070v1h1v-1zM452 1053v3h1v-3zM457 1049v3h1v-3zM457 1059v1h1v-1zM458 1052v3h1v-3zM460 1067v1h1v-1zM460 1073v1h1v-1zM468 1062v3h1v-3zM472 1059v2h1v-2zM473 1042v1h1v-1zM490 1039v3h1v-3zM491 1047v2h1v-2zM491 1051v4h1v-4zM492 1045v1h1v-1zM492 1068v1h1v-1zM494 1065v3h1v-3zM502 1064v3h1v-3zM505 1044v1h1v-1zM505 1049v2h1v-2zM505 1070v4h1v-4zM506 1047v1h1v-1zM506 1061v1h1v-1zM508 1054v2h1v-2zM508 1070v3h1v-3zM508 1074v2h1v-2zM509 1044v3h1v-3zM509 1049v1h1v-1zM509 1057v2h1v-2zM510 1044v1h1v-1zM513 1043v1h1v-1zM513 1069v2h1v-2zM514 1051v3h1v-3z"/>
<path fill="#0010ef" d="M181 1063v3h1v-3zM182 1065v3h1v-3zM183 1069v3h1v-3zM183 1074v2h1v-2zM184 1076v1h1v-1zM185 1072v1h1v-1zM186 1072v2h1v-2zM186 1077v1h1v-1zM188 1077v1h1v-1zM261 1048v2h1v-2zM345 1074v1h1v-1zM347 1058v3h1v-3zM348 1056v3h1v-3zM349 1065v2h1v-2zM350 1072v2h1v-2zM350 1076v1h1v-1zM358 1056v3h1v-3zM358 1073v1h1v-1zM359 1074v1h1v-1zM360 1064v1h1v-1zM376 1054v3h1v-3zM384 1065v1h1v-1zM385 1066v1h1v-1zM412 1053v1h1v-1zM414 1045v3h1v-3zM415 1044v3h1v-3zM415 1055v2h1v-2zM419 1052v1h1v-1zM420 1054v2h1v-2zM422 1052v3h1v-3zM422 1056v2h1v-2zM424 1052v1h1v-1zM425 1046v3h1v-3zM425 1055v3h1v-3zM429 1058v3h1v-3zM433 1076v1h1v-1zM434 1063v2h1v-2zM434 1074v3h1v-3zM435 1060v3h1v-3zM446 1045v3h1v-3zM446 1065v3h1v-3zM447 1044v3h1v-3zM447 1049v1h1v-1zM447 1053v2h1v-2zM448 1073v2h1v-2zM449 1053v3h1v-3zM454 1053v5h1v-5zM455 1054v2h1v-2zM457 1052v1h1v-1zM457 1056v3h1v-3zM458 1051v1h1v-1zM460 1059v2h1v-2zM460 1064v1h1v-1zM461 1061v1h1v-1zM461 1073v2h1v-2zM469 1070v2h1v-2zM472 1075v2h1v-2zM490 1048v1h1v-1zM491 1050v1h1v-1zM495 1065v1h1v-1zM503 1037v2h1v-2zM503 1040v1h1v-1zM503 1074v3h1v-3zM504 1037v2h1v-2zM505 1053v3h1v-3zM506 1045v2h1v-2zM508 1062v3h1v-3zM508 1067v3h1v-3zM509 1054v3h1v-3zM510 1047v1h1v-1zM511 1040v1h1v-1zM512 1047v1h1v-1zM513 1040v1h1v-1zM513 1071v2h1v-2zM514 1054v3h1v-3z"/>
<path fill="#0020df" d="M184 1065v2h1v-2zM184 1073v3h1v-3zM185 1075v3h1v-3zM186 1063v5h1v-5zM186 1074v3h1v-3zM188 1075v2h1v-2zM273 1051v1h1v-1zM340 1070v3h1v-3zM348 1064v2h1v-2zM348 1069v2h1v-2zM348 1073v2h1v-2zM358 1060v1h1v-1zM359 1060v1h1v-1zM360 1059v1h1v-1zM361 1063v1h1v-1zM376 1071v2h1v-2zM412 1052v1h1v-1zM414 1043v2h1v-2zM418 1051v1h1v-1zM420 1042v5h1v-5zM420 1050v3h1v-3zM421 1049v2h1v-2zM422 1046v6h1v-6zM423 1053v1h1v-1zM423 1055v1h1v-1zM424 1046v2h1v-2zM427 1056v2h1v-2zM432 1055v1h1v-1zM434 1065v2h1v-2zM446 1062v3h1v-3zM447 1051v1h1v-1zM447 1069v2h1v-2zM448 1051v5h1v-5zM449 1060v2h1v-2zM449 1071v5h1v-5zM450 1060v3h1v-3zM450 1070v1h1v-1zM453 1055v3h1v-3zM456 1053v2h1v-2zM458 1048v1h1v-1zM461 1060v1h1v-1zM468 1072v2h1v-2zM474 1075v2h1v-2zM476 1040v1h1v-1zM492 1036v1h1v-1zM492 1046v2h1v-2zM494 1068v1h1v-1zM500 1038v3h1v-3zM502 1073v2h1v-2zM503 1066v1h1v-1zM505 1066v1h1v-1zM508 1037v6h1v-6zM513 1048v1h1v-1zM514 1068v1h1v-1zM514 1073v2h1v-2z"/>
<path fill="#0030cf" d="M183 1060v1h1v-1zM183 1063v3h1v-3zM183 1072v2h1v-2zM183 1076v1h1v-1zM184 1072v1h1v-1zM186 1068v1h1v-1zM338 1053v1h1v-1zM339 1053v3h1v-3zM349 1053v3h1v-3zM349 1072v1h1v-1zM350 1077v1h1v-1zM358 1059v1h1v-1zM358 1069v3h1v-3zM376 1050v3h1v-3zM379 1068v2h1v-2zM384 1068v1h1v-1zM414 1048v3h1v-3zM415 1041v2h1v-2zM418 1039v3h1v-3zM418 1046v2h1v-2zM419 1051v1h1v-1zM419 1056v2h1v-2zM423 1049v1h1v-1zM423 1054v1h1v-1zM424 1044v2h1v-2zM424 1048v2h1v-2zM424 1054v3h1v-3zM425 1049v3h1v-3zM426 1055v2h1v-2zM427 1052v1h1v-1zM428 1047v4h1v-4zM429 1053v1h1v-1zM430 1058v3h1v-3zM431 1053v3h1v-3zM431 1057v3h1v-3zM433 1055v2h1v-2zM446 1050v3h1v-3zM446 1057v2h1v-2zM447 1047v2h1v-2zM447 1052v1h1v-1zM455 1056v1h1v-1zM457 1061v2h1v-2zM468 1068v2h1v-2zM468 1074v1h1v-1zM472 1048v3h1v-3zM490 1036v1h1v-1zM490 1045v3h1v-3zM491 1033v1h1v-1zM502 1036v1h1v-1zM505 1046v1h1v-1zM506 1055v2h1v-2zM510 1043v1h1v-1zM513 1038v2h1v-2zM513 1041v1h1v-1zM514 1037v1h1v-1zM514 1050v1h1v-1zM514 1065v1h1v-1z"/>
<path fill="#0040bf" d="M180 1058v2h1v-2zM183 1055v3h1v-3zM183 1066v2h1v-2zM185 1073v2h1v-2zM186 1069v3h1v-3zM339 1050v3h1v-3zM348 1055v1h1v-1zM350 1058v2h1v-2zM359 1054v3h1v-3zM415 1043v1h1v-1zM418 1045v1h1v-1zM418 1049v2h1v-2zM419 1048v3h1v-3zM420 1056v2h1v-2zM421 1046v3h1v-3zM425 1043v3h1v-3zM425 1077v1h1v-1zM426 1044v3h1v-3zM429 1048v2h1v-2zM430 1050v1h1v-1zM431 1049v1h1v-1zM432 1048v2h1v-2zM432 1077v1h1v-1zM446 1048v2h1v-2zM447 1058v3h1v-3zM449 1039v3h1v-3zM449 1064v3h1v-3zM456 1049v2h1v-2zM456 1055v3h1v-3zM458 1044v4h1v-4zM458 1055v2h1v-2zM469 1065v2h1v-2zM473 1077v1h1v-1zM474 1059v3h1v-3zM492 1048v3h1v-3zM499 1041v1h1v-1zM505 1045v1h1v-1zM505 1063v1h1v-1zM508 1049v3h1v-3zM509 1043v1h1v-1zM510 1040v2h1v-2zM512 1041v3h1v-3zM514 1045v3h1v-3z"/>
<path fill="#0050af" d="M181 1060v3h1v-3zM183 1058v2h1v-2zM339 1056v3h1v-3zM350 1049v2h1v-2zM350 1057v1h1v-1zM360 1057v2h1v-2zM376 1057v1h1v-1zM384 1062v3h1v-3zM414 1040v3h1v-3zM415 1040v1h1v-1zM415 1047v1h1v-1zM418 1042v1h1v-1zM421 1045v1h1v-1zM427 1043v3h1v-3zM430 1053v1h1v-1zM430 1055v3h1v-3zM434 1057v3h1v-3zM446 1059v3h1v-3zM449 1070v1h1v-1zM451 1061v2h1v-2zM458 1049v1h1v-1zM468 1065v3h1v-3zM479 1039v3h1v-3zM492 1037v3h1v-3zM495 1044v1h1v-1zM511 1037v3h1v-3zM513 1042v1h1v-1zM556 1071v2h1v-2z"/>
<path fill="#00609f" d="M183 1053v2h1v-2zM183 1061v2h1v-2zM185 1056v2h1v-2zM279 1053v4h1v-4zM339 1047v2h1v-2zM347 1052v2h1v-2zM349 1050v3h1v-3zM350 1055v2h1v-2zM357 1072v3h1v-3zM358 1051v5h1v-5zM382 1058v2h1v-2zM420 1039v3h1v-3zM421 1038v2h1v-2zM421 1054v3h1v-3zM423 1050v3h1v-3zM424 1053v1h1v-1zM429 1057v1h1v-1zM430 1047v3h1v-3zM430 1054v1h1v-1zM431 1056v1h1v-1zM447 1050v1h1v-1zM453 1048v2h1v-2zM458 1060v2h1v-2zM479 1042v2h1v-2zM480 1040v3h1v-3zM491 1042v1h1v-1zM501 1037v2h1v-2zM502 1037v1h1v-1zM502 1042v2h1v-2zM510 1039v1h1v-1zM512 1039v1h1v-1zM514 1059v3h1v-3z"/>
<path fill="#00708f" d="M60 1047v2h1v-2zM185 1059v3h1v-3zM272 1051v2h1v-2zM277 1054v1h1v-1zM339 1049v1h1v-1zM347 1049v3h1v-3zM350 1054v1h1v-1zM358 1049v1h1v-1zM359 1051v3h1v-3zM360 1050v2h1v-2zM360 1055v2h1v-2zM420 1047v3h1v-3zM422 1045v1h1v-1zM426 1042v2h1v-2zM429 1050v3h1v-3zM449 1058v2h1v-2zM450 1044v1h1v-1zM450 1068v2h1v-2zM451 1051v1h1v-1zM452 1042v2h1v-2zM454 1040v1h1v-1zM455 1048v2h1v-2zM458 1041v3h1v-3zM490 1031v2h1v-2zM491 1031v2h1v-2zM499 1042v1h1v-1zM503 1039v1h1v-1z"/>
<path fill="#008080" d="M181 1057v3h1v-3zM185 1058v1h1v-1zM338 1050v3h1v-3zM338 1054v3h1v-3zM348 1048v2h1v-2zM349 1048v1h1v-1zM359 1049v2h1v-2zM360 1046v1h1v-1zM360 1048v2h1v-2zM418 1048v1h1v-1zM419 1045v3h1v-3zM421 1040v2h1v-2zM426 1047v2h1v-2zM452 1039v3h1v-3zM453 1052v3h1v-3zM454 1051v1h1v-1zM455 1038v3h1v-3zM491 1049v1h1v-1zM514 1057v2h1v-2z"/>
<path fill="#008f70" d="M185 1062v1h1v-1zM348 1052v3h1v-3zM349 1049v1h1v-1zM350 1048v1h1v-1zM350 1051v3h1v-3zM358 1050v1h1v-1zM410 1065v1h1v-1zM419 1038v4h1v-4zM428 1059v1h1v-1zM450 1038v4h1v-4zM451 1052v1h1v-1zM452 1048v1h1v-1zM455 1041v3h1v-3zM455 1053v1h1v-1zM456 1051v2h1v-2zM457 1040v3h1v-3zM469 1064v1h1v-1zM479 1044v1h1v-1zM491 1034v2h1v-2zM494 1076v1h1v-1zM505 1036v2h1v-2zM514 1038v1h1v-1z"/>
<path fill="#009f60" d="M180 1055v3h1v-3zM358 1048v1h1v-1zM360 1047v1h1v-1zM419 1042v3h1v-3zM421 1042v3h1v-3zM422 1043v2h1v-2zM426 1057v3h1v-3zM427 1058v3h1v-3zM429 1054v3h1v-3zM450 1071v1h1v-1zM451 1040v1h1v-1zM452 1052v1h1v-1zM454 1048v2h1v-2zM499 1037v1h1v-1z"/>
<path fill="#00af50" d="M350 1047v1h1v-1zM359 1046v1h1v-1zM424 1040v3h1v-3zM425 1042v1h1v-1zM450 1047v1h1v-1zM451 1039v1h1v-1zM451 1044v2h1v-2zM452 1044v2h1v-2zM454 1041v3h1v-3zM454 1050v1h1v-1zM454 1052v1h1v-1zM455 1047v1h1v-1zM455 1050v3h1v-3zM456 1041v3h1v-3zM457 1044v2h1v-2zM490 1033v3h1v-3zM492 1034v2h1v-2z"/>
<path fill="#00bf40" d="M420 1038v1h1v-1zM431 1048v1h1v-1zM450 1048v3h1v-3zM451 1046v2h1v-2zM453 1043v2h1v-2zM454 1046v2h1v-2zM456 1038v3h1v-3zM456 1046v3h1v-3zM457 1043v1h1v-1zM500 1041v2h1v-2z"/>
<path fill="#00cf30" d="M338 1045v2h1v-2zM347 1054v3h1v-3zM422 1037v2h1v-2zM424 1038v2h1v-2zM427 1049v3h1v-3zM427 1053v3h1v-3zM452 1046v2h1v-2zM452 1049v3h1v-3zM453 1039v1h1v-1z"/>
<path fill="#00df20" d="M268 1048v1h1v-1zM338 1047v3h1v-3zM358 1046v2h1v-2zM359 1044v2h1v-2zM422 1039v4h1v-4zM423 1043v3h1v-3zM424 1043v1h1v-1zM430 1051v2h1v-2zM453 1058v3h1v-3zM454 1060v2h1v-2z"/>
<path fill="#00ef10" d="M268 1049v1h1v-1zM427 1046v3h1v-3zM451 1059v2h1v-2zM453 1045v3h1v-3zM453 1061v1h1v-1zM455 1060v2h1v-2z"/>
<path fill="#00ff00" d="M423 1040v3h1v-3zM450 1072v1h1v-1zM451 1041v3h1v-3zM451 1048v3h1v-3zM451 1075v3h1v-3zM453 1050v2h1v-2zM454 1044v2h1v-2zM455 1044v3h1v-3z"/>
<path fill="#20ff00" d="M423 1037v3h1v-3zM450 1051v3h1v-3zM452 1058v3h1v-3z"/>
<path fill="#40ff00" d="M338 1044v1h1v-1zM454 1058v2h1v-2zM456 1044v2h1v-2z"/>
<path fill="#60ff00" d="M428 1056v3h1v-3zM450 1063v1h1v-1zM450 1075v3h1v-3zM451 1063v2h1v-2zM456 1058v1h1v-1z"/>
<path fill="#80ff00" d="M450 1058v2h1v-2zM457 1046v3h1v-3z"/>
<path fill="#9fff00" d="M450 1042v2h1v-2zM450 1045v2h1v-2zM451 1053v2h1v-2zM456 1059v3h1v-3z"/>
<path fill="#bfff00" d="M449 1047v3h1v-3z"/>
<path fill="#dfff00" d="M450 1055v2h1v-2zM451 1055v2h1v-2z"/>
<path fill="#ffff00" d="M448 1062v1h1v-1zM449 1050v3h1v-3z"/>
<path fill="#ffef00" d="M450 1054v1h1v-1zM450 1057v1h1v-1zM450 1067v1h1v-1zM455 1057v3h1v-3z"/>
<path fill="#ffcf00" d="M447 1061v1h1v-1zM451 1057v2h1v-2z"/>
<path fill="#ffbf00" d="M447 1062v3h1v-3z"/>
<path fill="#ff8f00" d="M447 1065v1h1v-1zM448 1059v3h1v-3z"/>
<path fill="#ff5000" d="M450 1073v2h1v-2z"/>
<path fill="#ff4000" d="M451 1065v1h1v-1z"/>
<path fill="#ff2000" d="M450 1064v3h1v-3z"/>
</g>
<rect class="ax" x="50.5" y="849.5" width="650.0" height="230"/>
<path class="ax" d="M50.5 1060.5h5.5M700.5 1060.5h-5.5M50.5 1041.5h5.5M700.5 1041.5h-5.5M50.5 1022.5h5.5M700.5 1022.5h-5.5M50.5 1003.5h5.5M700.5 1003.5h-5.5M50.5 984.5h5.5M700.5 984.5h-5.5M50.5 964.5h5.5M700.5 964.5h-5.5M50.5 945.5h5.5M700.5 945.5h-5.5M50.5 926.5h5.5M700.5 926.5h-5.5M50.5 907.5h5.5M700.5 907.5h-5.5M50.5 888.5h5.5M700.5 888.5h-5.5M50.5 869.5h5.5M700.5 869.5h-5.5M158.5 1079.5v-5.5M158.5 849.5v5.5M266.5 1079.5v-5.5M266.5 849.5v5.5M375.5 1079.5v-5.5M375.5 849.5v5.5M483.5 1079.5v-5.5M483.5 849.5v5.5M591.5 1079.5v-5.5M591.5 849.5v5.5"/>
<text class="r" x="47" y="1084">0</text>
<text class="r" x="47" y="1065">1</text>
<text class="r" x="47" y="1046">2</text>
<text class="r" x="47" y="1027">3</text>
<text class="r" x="47" y="1008">4</text>
<text class="r" x="47" y="989">5</text>
<text class="r" x="47" y="969">6</text>
<text class="r" x="47" y="950">7</text>
<text class="r" x="47" y="931">8</text>
<text class="r" x="47" y="912">9</text>
<text class="r n" x="47.4" y="893">10</text>
<text class="r n" x="47.4" y="874">11</text>
<text class="r n" x="47.4" y="854">12</text>
<text class="c n" x="50" y="1094">00:00</text>
<text class="c n" x="158" y="1094">04:00</text>
<text class="c n" x="266" y="1094">08:00</text>
<text class="c n" x="375" y="1094">12:00</text>
<text class="c n" x="483" y="1094">16:00</text>
<text class="c n" x="591" y="1094">20:00</text>
<text class="c n" x="700" y="1094">00:00</text>
<text class="c" x="375" y="1112">Time (UTC)</text>
<text class="c" transform="translate(27 966) rotate(-90)">Height (km)</text>
<text class="b" x="57.5" y="866" style="letter-spacing:0.09px">Linear depolarisation ratio</text>
<g class="cb">
<rect x="754.5" y="1042" width="16" height="2.6" fill="#d6d6e6"/>
<rect x="754.5" y="1039.5" width="16" height="2.6" fill="#c8c8e8"/>
<rect x="754.5" y="1037" width="16" height="2.6" fill="#b9b9e9"/>
<rect x="754.5" y="1034.5" width="16" height="2.6" fill="#ababeb"/>
<rect x="754.5" y="1032" width="16" height="2.6" fill="#9d9ded"/>
<rect x="754.5" y="1029.5" width="16" height="2.6" fill="#8f8fee"/>
<rect x="754.5" y="1027" width="16" height="2.6" fill="#8080f0"/>
<rect x="754.5" y="1024.5" width="16" height="2.6" fill="#7272f2"/>
<rect x="754.5" y="1022" width="16" height="2.6" fill="#6464f3"/>
<rect x="754.5" y="1019.5" width="16" height="2.6" fill="#5656f5"/>
<rect x="754.5" y="1017" width="16" height="2.6" fill="#4747f7"/>
<rect x="754.5" y="1014.5" width="16" height="2.6" fill="#3939f8"/>
<rect x="754.5" y="1012" width="16" height="2.6" fill="#2b2bfa"/>
<rect x="754.5" y="1009.5" width="16" height="2.6" fill="#1d1dfc"/>
<rect x="754.5" y="1007" width="16" height="2.6" fill="#0e0efd"/>
<rect x="754.5" y="1004.5" width="16" height="2.6" fill="#0000ff"/>
<rect x="754.5" y="1002" width="16" height="2.6" fill="#0010ef"/>
<rect x="754.5" y="999.5" width="16" height="2.6" fill="#0020df"/>
<rect x="754.5" y="997" width="16" height="2.6" fill="#0030cf"/>
<rect x="754.5" y="994.5" width="16" height="2.6" fill="#0040bf"/>
<rect x="754.5" y="992" width="16" height="2.6" fill="#0050af"/>
<rect x="754.5" y="989.5" width="16" height="2.6" fill="#00609f"/>
<rect x="754.5" y="987" width="16" height="2.6" fill="#00708f"/>
<rect x="754.5" y="984.5" width="16" height="2.6" fill="#008080"/>
<rect x="754.5" y="982" width="16" height="2.6" fill="#008f70"/>
<rect x="754.5" y="979.5" width="16" height="2.6" fill="#009f60"/>
<rect x="754.5" y="977" width="16" height="2.6" fill="#00af50"/>
<rect x="754.5" y="974.5" width="16" height="2.6" fill="#00bf40"/>
<rect x="754.5" y="972" width="16" height="2.6" fill="#00cf30"/>
<rect x="754.5" y="969.5" width="16" height="2.6" fill="#00df20"/>
<rect x="754.5" y="967" width="16" height="2.6" fill="#00ef10"/>
<rect x="754.5" y="964.5" width="16" height="2.6" fill="#00ff00"/>
<rect x="754.5" y="962" width="16" height="2.6" fill="#20ff00"/>
<rect x="754.5" y="959.5" width="16" height="2.6" fill="#40ff00"/>
<rect x="754.5" y="957" width="16" height="2.6" fill="#60ff00"/>
<rect x="754.5" y="954.5" width="16" height="2.6" fill="#80ff00"/>
<rect x="754.5" y="952" width="16" height="2.6" fill="#9fff00"/>
<rect x="754.5" y="949.5" width="16" height="2.6" fill="#bfff00"/>
<rect x="754.5" y="947" width="16" height="2.6" fill="#dfff00"/>
<rect x="754.5" y="944.5" width="16" height="2.6" fill="#ffff00"/>
<rect x="754.5" y="942" width="16" height="2.6" fill="#ffef00"/>
<rect x="754.5" y="939.5" width="16" height="2.6" fill="#ffdf00"/>
<rect x="754.5" y="937" width="16" height="2.6" fill="#ffcf00"/>
<rect x="754.5" y="934.5" width="16" height="2.6" fill="#ffbf00"/>
<rect x="754.5" y="932" width="16" height="2.6" fill="#ffaf00"/>
<rect x="754.5" y="929.5" width="16" height="2.6" fill="#ff9f00"/>
<rect x="754.5" y="927" width="16" height="2.6" fill="#ff8f00"/>
<rect x="754.5" y="924.5" width="16" height="2.6" fill="#ff8000"/>
<rect x="754.5" y="922" width="16" height="2.6" fill="#ff7000"/>
<rect x="754.5" y="919.5" width="16" height="2.6" fill="#ff6000"/>
<rect x="754.5" y="917" width="16" height="2.6" fill="#ff5000"/>
<rect x="754.5" y="914.5" width="16" height="2.6" fill="#ff4000"/>
<rect x="754.5" y="912" width="16" height="2.6" fill="#ff3000"/>
<rect x="754.5" y="909.5" width="16" height="2.6" fill="#ff2000"/>
<rect x="754.5" y="907" width="16" height="2.6" fill="#ff1000"/>
<rect x="754.5" y="904.5" width="16" height="2.6" fill="#ff0000"/>
<rect x="754.5" y="902" width="16" height="2.6" fill="#ef0010"/>
<rect x="754.5" y="899.5" width="16" height="2.6" fill="#df0020"/>
<rect x="754.5" y="897" width="16" height="2.6" fill="#cf0030"/>
<rect x="754.5" y="894.5" width="16" height="2.6" fill="#c00040"/>
<rect x="754.5" y="892" width="16" height="2.6" fill="#b00050"/>
<rect x="754.5" y="889.5" width="16" height="2.6" fill="#a00060"/>
<rect x="754.5" y="887" width="16" height="2.6" fill="#900070"/>
<rect x="754.5" y="884.5" width="16" height="2.6" fill="#800080"/>
</g>
<rect class="ax" x="754.5" y="884.5" width="16" height="160"/>
<text class="r n" x="750.9" y="889">0</text>
<text class="r n" x="750.9" y="916">-5</text>
<text class="r n" x="750.9" y="942">-10</text>
<text class="r n" x="750.9" y="969">-15</text>
<text class="r n" x="750.9" y="996">-20</text>
<text class="r n" x="750.9" y="1022">-25</text>
<text class="r n" x="750.9" y="1049">-30</text>
<text class="c" transform="translate(727 965) rotate(-90)">dB</text>
</g>
<text class="b" x="3" y="1112.5" style="letter-spacing:0.45px">TROPOS 35.5 GHz (SLDR) cloud radar</text>
</svg>
</body></html>
